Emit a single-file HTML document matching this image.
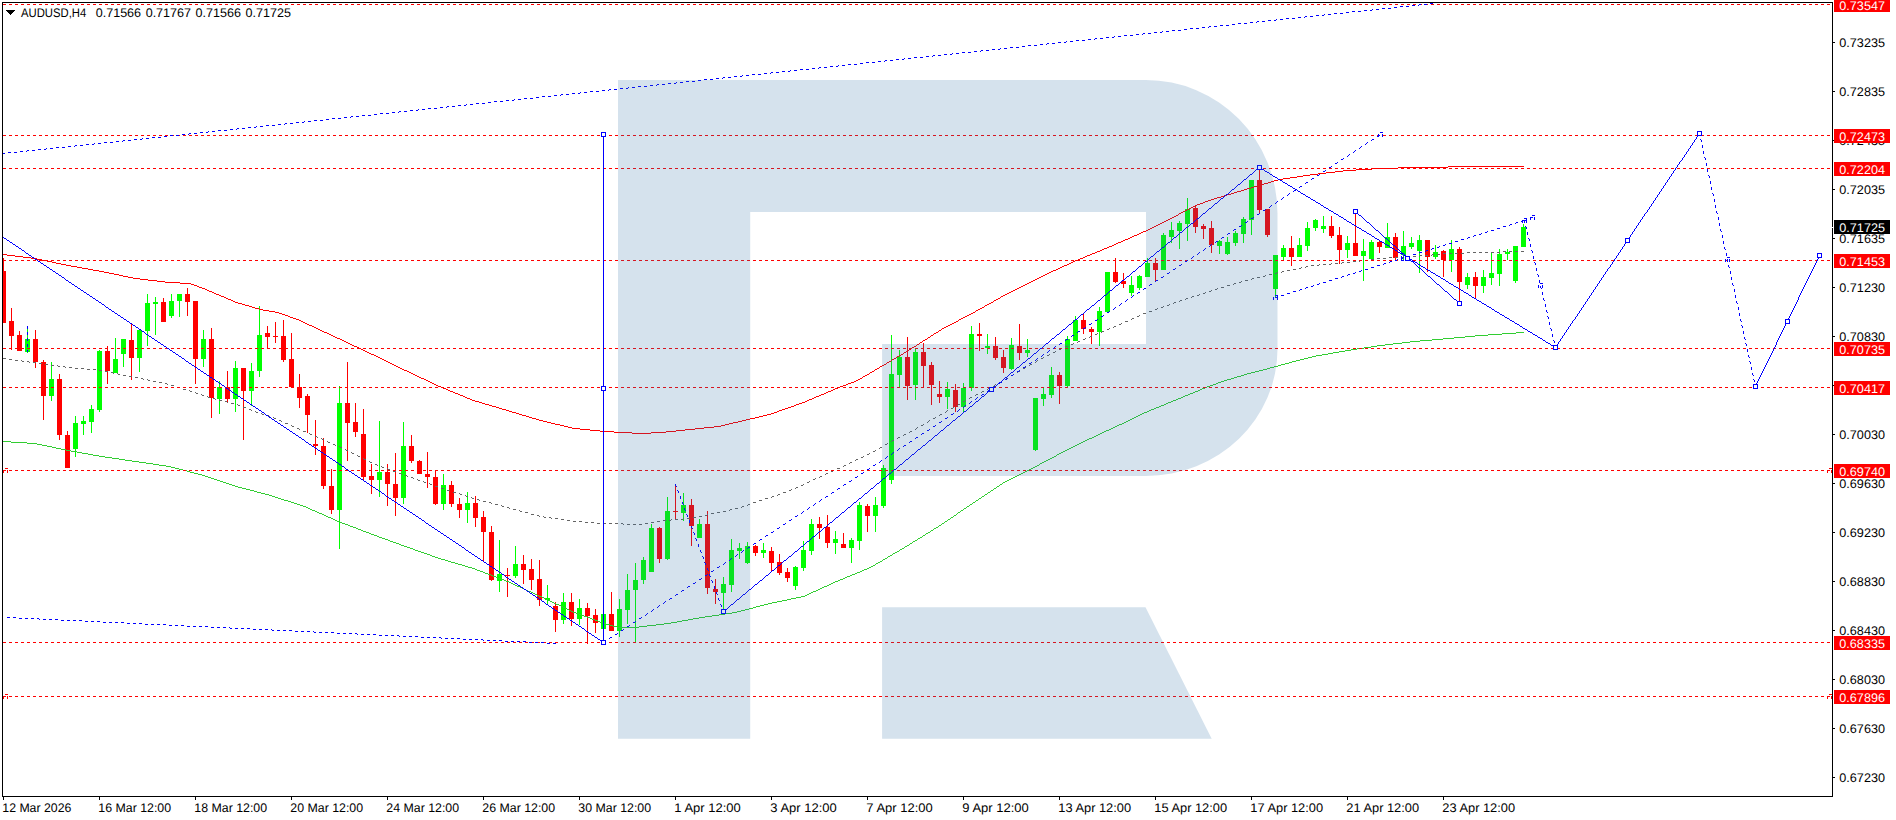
<!DOCTYPE html>
<html><head><meta charset="utf-8"><title>AUDUSD H4</title>
<style>html,body{margin:0;padding:0;background:#fff;overflow:hidden}body{width:1896px;height:820px;position:relative;font-family:"Liberation Sans",sans-serif}</style></head>
<body>
<svg width="1896" height="820" viewBox="0 0 1896 820" shape-rendering="crispEdges" style="position:absolute;left:0;top:0">
<rect width="1896" height="820" fill="#fff"/>
<defs><clipPath id="cp"><rect x="3" y="3" width="1829" height="793"/></clipPath></defs>
<g clip-path="url(#cp)">
<path fill="#FF0000" d="M3,258h1v65h-1zM1,271h5v52h-5zM11,308h1v42h-1zM9,321h5v15h-5zM19,331h1v20h-1zM17,335h5v16h-5zM35,330h1v38h-1zM33,339h5v23h-5zM43,360h1v60h-1zM41,362h5v34h-5zM59,374h1v66h-1zM57,379h5v56h-5zM67,431h1v37h-1zM65,435h5v33h-5zM107,346h1v38h-1zM105,351h5v20h-5zM131,324h1v56h-1zM129,340h5v18h-5zM163,298h1v24h-1zM161,302h5v20h-5zM187,288h1v28h-1zM185,294h5v8h-5zM195,301h1v83h-1zM193,301h5v58h-5zM211,328h1v90h-1zM209,339h5v59h-5zM227,371h1v32h-1zM225,387h5v12h-5zM243,368h1v72h-1zM241,368h5v23h-5zM267,326h1v23h-1zM265,333h5v4h-5zM275,322h1v21h-1zM273,336h5v1h-5zM283,320h1v42h-1zM281,336h5v24h-5zM291,333h1v54h-1zM289,359h5v28h-5zM299,374h1v34h-1zM297,387h5v11h-5zM307,394h1v39h-1zM305,396h5v19h-5zM315,420h1v35h-1zM313,444h5v2h-5zM323,438h1v51h-1zM321,446h5v40h-5zM331,469h1v45h-1zM329,486h5v24h-5zM347,362h1v99h-1zM345,403h5v20h-5zM355,403h1v34h-1zM353,422h5v10h-5zM363,409h1v71h-1zM361,434h5v43h-5zM371,464h1v30h-1zM369,476h5v4h-5zM387,464h1v42h-1zM385,472h5v12h-5zM395,453h1v63h-1zM393,484h5v14h-5zM411,435h1v28h-1zM409,446h5v15h-5zM419,460h1v14h-1zM417,461h5v13h-5zM427,452h1v36h-1zM425,474h5v3h-5zM435,470h1v35h-1zM433,477h5v27h-5zM451,481h1v26h-1zM449,485h5v19h-5zM459,498h1v20h-1zM457,504h5v6h-5zM475,496h1v31h-1zM473,503h5v15h-5zM483,511h1v50h-1zM481,517h5v15h-5zM491,526h1v55h-1zM489,532h5v48h-5zM507,568h1v29h-1zM505,575h5v1h-5zM523,555h1v29h-1zM521,564h5v6h-5zM531,559h1v31h-1zM529,569h5v11h-5zM539,560h1v46h-1zM537,579h5v21h-5zM555,602h1v30h-1zM553,606h5v14h-5zM571,593h1v33h-1zM569,602h5v17h-5zM587,603h1v41h-1zM585,608h5v8h-5zM595,609h1v24h-1zM593,615h5v8h-5zM611,592h1v39h-1zM609,614h5v17h-5zM659,527h1v36h-1zM657,528h5v31h-5zM675,484h1v35h-1zM673,511h5v1h-5zM691,499h1v47h-1zM689,505h5v21h-5zM707,511h1v83h-1zM705,524h5v64h-5zM715,579h1v25h-1zM713,589h5v3h-5zM755,545h1v11h-1zM753,546h5v7h-5zM771,547h1v24h-1zM769,551h5v12h-5zM779,554h1v21h-1zM777,562h5v11h-5zM787,568h1v14h-1zM785,572h5v6h-5zM819,517h1v22h-1zM817,524h5v4h-5zM827,515h1v33h-1zM825,527h5v16h-5zM843,533h1v15h-1zM841,544h5v4h-5zM867,504h1v28h-1zM865,506h5v10h-5zM907,337h1v63h-1zM905,357h5v29h-5zM923,343h1v44h-1zM921,352h5v14h-5zM931,362h1v43h-1zM929,365h5v20h-5zM939,381h1v22h-1zM937,394h5v3h-5zM955,384h1v28h-1zM953,390h5v17h-5zM979,323h1v28h-1zM977,334h5v2h-5zM995,337h1v23h-1zM993,346h5v12h-5zM1003,350h1v23h-1zM1001,357h5v11h-5zM1019,324h1v36h-1zM1017,346h5v7h-5zM1059,372h1v32h-1zM1057,375h5v11h-5zM1083,314h1v20h-1zM1081,320h5v9h-5zM1091,327h1v17h-1zM1089,329h5v3h-5zM1115,258h1v25h-1zM1113,272h5v10h-5zM1123,273h1v15h-1zM1121,281h5v3h-5zM1155,258h1v23h-1zM1153,263h5v7h-5zM1195,206h1v27h-1zM1193,208h5v19h-5zM1203,224h1v15h-1zM1201,226h5v3h-5zM1211,221h1v32h-1zM1209,228h5v17h-5zM1259,169h1v44h-1zM1257,180h5v30h-5zM1267,209h1v28h-1zM1265,209h5v26h-5zM1291,236h1v30h-1zM1289,248h5v9h-5zM1331,216h1v22h-1zM1329,226h5v10h-5zM1339,227h1v37h-1zM1337,235h5v15h-5zM1355,214h1v42h-1zM1353,243h5v13h-5zM1379,240h1v13h-1zM1377,242h5v5h-5zM1395,233h1v27h-1zM1393,237h5v21h-5zM1427,240h1v32h-1zM1425,240h5v17h-5zM1443,250h1v27h-1zM1441,251h5v9h-5zM1459,247h1v55h-1zM1457,249h5v33h-5zM1475,272h1v26h-1zM1473,277h5v9h-5z"/>
<path fill="#00FF00" d="M27,326h1v27h-1zM25,339h5v13h-5zM51,362h1v39h-1zM49,379h5v17h-5zM75,416h1v41h-1zM73,423h5v26h-5zM83,416h1v19h-1zM81,421h5v3h-5zM91,405h1v28h-1zM89,409h5v13h-5zM99,350h1v62h-1zM97,351h5v59h-5zM115,338h1v35h-1zM113,359h5v14h-5zM123,339h1v28h-1zM121,339h5v15h-5zM139,329h1v43h-1zM137,330h5v28h-5zM147,294h1v52h-1zM145,303h5v28h-5zM155,297h1v38h-1zM153,302h5v2h-5zM171,294h1v24h-1zM169,301h5v15h-5zM179,294h1v23h-1zM177,294h5v7h-5zM203,330h1v37h-1zM201,339h5v20h-5zM219,381h1v33h-1zM217,387h5v12h-5zM235,361h1v51h-1zM233,368h5v31h-5zM251,363h1v43h-1zM249,371h5v20h-5zM259,306h1v71h-1zM257,335h5v36h-5zM339,386h1v163h-1zM337,403h5v107h-5zM379,421h1v76h-1zM377,472h5v8h-5zM403,422h1v82h-1zM401,446h5v52h-5zM443,474h1v36h-1zM441,485h5v19h-5zM467,492h1v31h-1zM465,503h5v7h-5zM499,540h1v52h-1zM497,574h5v7h-5zM515,546h1v32h-1zM513,564h5v12h-5zM547,585h1v19h-1zM545,598h5v2h-5zM563,593h1v31h-1zM561,602h5v18h-5zM579,599h1v26h-1zM577,608h5v11h-5zM603,614h1v15h-1zM601,614h5v15h-5zM619,599h1v38h-1zM617,609h5v22h-5zM627,574h1v50h-1zM625,590h5v20h-5zM635,563h1v79h-1zM633,580h5v10h-5zM643,557h1v27h-1zM641,560h5v20h-5zM651,524h1v48h-1zM649,528h5v44h-5zM667,497h1v63h-1zM665,511h5v48h-5zM683,493h1v28h-1zM681,505h5v8h-5zM699,519h1v19h-1zM697,524h5v14h-5zM723,577h1v32h-1zM721,584h5v9h-5zM731,539h1v53h-1zM729,550h5v35h-5zM739,543h1v16h-1zM737,548h5v3h-5zM747,542h1v22h-1zM745,546h5v17h-5zM763,543h1v15h-1zM761,550h5v3h-5zM795,566h1v24h-1zM793,567h5v19h-5zM803,541h1v30h-1zM801,550h5v18h-5zM811,519h1v36h-1zM809,524h5v27h-5zM835,531h1v23h-1zM833,539h5v4h-5zM851,538h1v25h-1zM849,540h5v8h-5zM859,502h1v48h-1zM857,505h5v36h-5zM875,497h1v35h-1zM873,505h5v11h-5zM883,465h1v43h-1zM881,468h5v38h-5zM891,335h1v149h-1zM889,374h5v106h-5zM899,350h1v37h-1zM897,357h5v18h-5zM915,349h1v51h-1zM913,352h5v33h-5zM947,382h1v27h-1zM945,389h5v8h-5zM963,383h1v29h-1zM961,388h5v19h-5zM971,326h1v65h-1zM969,334h5v54h-5zM987,334h1v20h-1zM985,346h5v2h-5zM1011,338h1v32h-1zM1009,345h5v24h-5zM1027,339h1v18h-1zM1025,350h5v3h-5zM1035,398h1v53h-1zM1033,398h5v52h-5zM1043,387h1v19h-1zM1041,394h5v5h-5zM1051,367h1v31h-1zM1049,375h5v20h-5zM1067,336h1v52h-1zM1065,339h5v47h-5zM1075,316h1v25h-1zM1073,320h5v21h-5zM1099,307h1v39h-1zM1097,311h5v21h-5zM1107,272h1v41h-1zM1105,272h5v40h-5zM1131,276h1v20h-1zM1129,285h5v8h-5zM1139,275h1v15h-1zM1137,276h5v12h-5zM1147,258h1v19h-1zM1145,263h5v14h-5zM1163,233h1v37h-1zM1161,235h5v35h-5zM1171,222h1v21h-1zM1169,230h5v7h-5zM1179,221h1v28h-1zM1177,223h5v8h-5zM1187,198h1v43h-1zM1185,209h5v15h-5zM1219,240h1v14h-1zM1217,241h5v5h-5zM1227,237h1v18h-1zM1225,242h5v12h-5zM1235,231h1v15h-1zM1233,233h5v10h-5zM1243,217h1v26h-1zM1241,219h5v15h-5zM1251,180h1v55h-1zM1249,180h5v40h-5zM1275,255h1v43h-1zM1273,255h5v34h-5zM1283,245h1v15h-1zM1281,248h5v9h-5zM1299,238h1v19h-1zM1297,245h5v12h-5zM1307,222h1v29h-1zM1305,228h5v18h-5zM1315,219h1v12h-1zM1313,220h5v8h-5zM1323,216h1v17h-1zM1321,226h5v3h-5zM1347,236h1v22h-1zM1345,243h5v7h-5zM1363,239h1v42h-1zM1361,251h5v5h-5zM1371,240h1v20h-1zM1369,242h5v17h-5zM1387,223h1v25h-1zM1385,237h5v11h-5zM1403,231h1v29h-1zM1401,246h5v9h-5zM1411,237h1v12h-1zM1409,243h5v4h-5zM1419,235h1v38h-1zM1417,240h5v11h-5zM1435,245h1v14h-1zM1433,252h5v5h-5zM1451,240h1v32h-1zM1449,249h5v11h-5zM1467,273h1v16h-1zM1465,277h5v8h-5zM1483,270h1v23h-1zM1481,277h5v9h-5zM1491,253h1v32h-1zM1489,273h5v5h-5zM1499,249h1v37h-1zM1497,254h5v20h-5zM1507,249h1v11h-1zM1505,252h5v2h-5zM1515,246h1v37h-1zM1513,246h5v35h-5zM1523,224h1v23h-1zM1521,227h5v20h-5z"/>
<path fill="#FF0000" d="M1398,167h50v1h-50zM197,286h2v1h-2zM1021,286h2v1h-2zM285,315h3v1h-3zM967,315h2v1h-2zM1448,166h76v1h-76zM82,268h6v1h-6zM1058,268h2v1h-2zM1217,197h4v1h-4zM259,309h4v1h-4zM978,309h2v1h-2zM290,317h3v1h-3zM963,317h2v1h-2zM1283,178h7v1h-7zM572,428h8v1h-8zM695,428h9v1h-9zM128,277h5v1h-5zM1039,277h2v1h-2zM1343,170h13v1h-13zM430,382h2v1h-2zM851,382h3v1h-3zM496,407h3v1h-3zM788,407h3v1h-3zM1205,201h3v1h-3zM1271,181h3v1h-3zM1372,168h26v1h-26zM335,337h2v1h-2zM928,337h2v1h-2zM56,263h5v1h-5zM1069,263h2v1h-2zM475,401h4v1h-4zM805,401h2v1h-2zM434,384h2v1h-2zM846,384h2v1h-2zM632,433h19v1h-19zM231,300h2v1h-2zM994,300h2v1h-2zM1297,176h6v1h-6zM221,296h3v1h-3zM1001,296h2v1h-2zM1139,233h2v1h-2zM279,313h3v1h-3zM971,313h2v1h-2zM580,429h10v1h-10zM685,429h10v1h-10zM409,372h2v1h-2zM870,372h2v1h-2zM99,271h5v1h-5zM1051,271h2v1h-2zM1134,235h3v1h-3zM31,258h6v1h-6zM1080,258h3v1h-3zM509,411h3v1h-3zM777,411h2v1h-2zM512,412h4v1h-4zM774,412h3v1h-3zM263,310h6v1h-6zM976,310h2v1h-2zM357,347h2v1h-2zM912,347h2v1h-2zM1247,188h4v1h-4zM212,292h2v1h-2zM1009,292h2v1h-2zM398,367h2v1h-2zM390,363h2v1h-2zM1174,216h2v1h-2zM288,316h2v1h-2zM965,316h2v1h-2zM165,282h15v1h-15zM1029,282h2v1h-2zM104,272h5v1h-5zM1049,272h2v1h-2zM536,419h3v1h-3zM746,419h4v1h-4zM1197,204h3v1h-3zM1261,184h3v1h-3zM532,418h4v1h-4zM750,418h5v1h-5zM1112,245h2v1h-2zM282,314h3v1h-3zM969,314h2v1h-2zM590,430h10v1h-10zM676,430h9v1h-9zM441,387h2v1h-2zM838,387h2v1h-2zM1193,206h2v1h-2zM42,260h5v1h-5zM1075,260h3v1h-3zM568,427h4v1h-4zM704,427h10v1h-10zM382,359h2v1h-2zM892,359h2v1h-2zM1107,247h2v1h-2zM443,388h3v1h-3zM835,388h3v1h-3zM472,400h3v1h-3zM807,400h2v1h-2zM543,421h4v1h-4zM738,421h4v1h-4zM109,273h5v1h-5zM1047,273h2v1h-2zM180,283h11v1h-11zM1027,283h2v1h-2zM560,425h4v1h-4zM721,425h4v1h-4zM77,267h5v1h-5zM1060,267h2v1h-2zM327,333h2v1h-2zM934,333h2v1h-2zM564,426h4v1h-4zM714,426h7v1h-7zM318,329h2v1h-2zM1097,251h3v1h-3zM522,415h4v1h-4zM763,415h4v1h-4zM245,305h4v1h-4zM985,305h2v1h-2zM312,326h2v1h-2zM946,326h2v1h-2zM1237,191h4v1h-4zM547,422h4v1h-4zM733,422h5v1h-5zM386,361h2v1h-2zM889,361h2v1h-2zM378,357h2v1h-2zM1227,194h4v1h-4zM371,354h3v1h-3zM901,354h2v1h-2zM380,358h2v1h-2zM894,358h2v1h-2zM348,343h2v1h-2zM1356,169h16v1h-16zM1326,172h9v1h-9zM421,378h3v1h-3zM860,378h2v1h-2zM324,332h3v1h-3zM936,332h2v1h-2zM329,334h2v1h-2zM506,410h3v1h-3zM779,410h3v1h-3zM450,391h3v1h-3zM828,391h3v1h-3zM1185,210h2v1h-2zM249,306h3v1h-3zM482,403h3v1h-3zM799,403h3v1h-3zM489,405h3v1h-3zM794,405h2v1h-2zM235,302h3v1h-3zM991,302h2v1h-2zM1118,242h3v1h-3zM228,299h3v1h-3zM996,299h2v1h-2zM219,295h2v1h-2zM1003,295h2v1h-2zM1114,244h2v1h-2zM1168,219h2v1h-2zM275,312h4v1h-4zM973,312h2v1h-2zM614,432h18v1h-18zM651,432h15v1h-15zM202,288h3v1h-3zM1017,288h2v1h-2zM1187,209h2v1h-2zM388,362h2v1h-2zM887,362h2v1h-2zM123,276h5v1h-5zM1041,276h2v1h-2zM555,424h5v1h-5zM725,424h4v1h-4zM133,278h7v1h-7zM1037,278h2v1h-2zM252,307h3v1h-3zM982,307h2v1h-2zM485,404h4v1h-4zM796,404h3v1h-3zM600,431h14v1h-14zM666,431h10v1h-10zM1116,243h2v1h-2zM157,281h8v1h-8zM1031,281h2v1h-2zM463,396h2v1h-2zM816,396h3v1h-3zM88,269h5v1h-5zM1056,269h2v1h-2zM499,408h3v1h-3zM785,408h3v1h-3zM413,374h2v1h-2zM867,374h2v1h-2zM448,390h2v1h-2zM831,390h2v1h-2zM438,386h3v1h-3zM840,386h3v1h-3zM1137,234h2v1h-2zM432,383h2v1h-2zM848,383h3v1h-3zM71,266h6v1h-6zM1062,266h2v1h-2zM426,380h2v1h-2zM856,380h2v1h-2zM1156,225h2v1h-2zM15,256h8v1h-8zM1085,256h2v1h-2zM392,364h2v1h-2zM884,364h2v1h-2zM384,360h2v1h-2zM376,356h2v1h-2zM897,356h2v1h-2zM305,323h2v1h-2zM952,323h2v1h-2zM233,301h2v1h-2zM1251,187h3v1h-3zM238,303h4v1h-4zM989,303h2v1h-2zM1128,238h2v1h-2zM119,275h4v1h-4zM1043,275h2v1h-2zM255,308h4v1h-4zM980,308h2v1h-2zM209,291h3v1h-3zM1011,291h2v1h-2zM1123,240h2v1h-2zM1310,174h8v1h-8zM400,368h2v1h-2zM877,368h2v1h-2zM214,293h2v1h-2zM1007,293h2v1h-2zM303,322h2v1h-2zM954,322h2v1h-2zM7,255h8v1h-8zM1087,255h3v1h-3zM1335,171h8v1h-8zM52,262h4v1h-4zM1071,262h2v1h-2zM216,294h3v1h-3zM1005,294h2v1h-2zM529,417h3v1h-3zM755,417h4v1h-4zM269,311h6v1h-6zM470,399h2v1h-2zM809,399h3v1h-3zM346,342h2v1h-2zM920,342h2v1h-2zM114,274h5v1h-5zM1045,274h2v1h-2zM1100,250h2v1h-2zM453,392h2v1h-2zM826,392h2v1h-2zM66,265h5v1h-5zM1064,265h3v1h-3zM1095,252h2v1h-2zM1150,228h2v1h-2zM1146,230h2v1h-2zM539,420h4v1h-4zM742,420h4v1h-4zM1224,195h3v1h-3zM224,297h2v1h-2zM350,344h2v1h-2zM917,344h2v1h-2zM1164,221h2v1h-2zM316,328h2v1h-2zM942,328h2v1h-2zM1183,211h2v1h-2zM415,375h2v1h-2zM865,375h2v1h-2zM314,327h2v1h-2zM944,327h2v1h-2zM1203,202h2v1h-2zM307,324h2v1h-2zM950,324h2v1h-2zM148,280h9v1h-9zM1033,280h2v1h-2zM1290,177h7v1h-7zM374,355h2v1h-2zM899,355h2v1h-2zM367,352h2v1h-2zM904,352h2v1h-2zM359,348h2v1h-2zM140,279h8v1h-8zM1035,279h2v1h-2zM417,376h2v1h-2zM863,376h2v1h-2zM1102,249h2v1h-2zM1244,189h3v1h-3zM1152,227h2v1h-2zM3,254h4v1h-4zM1090,254h2v1h-2zM1176,215h2v1h-2zM47,261h5v1h-5zM1073,261h2v1h-2zM1172,217h2v1h-2zM1257,185h4v1h-4zM207,290h2v1h-2zM1013,290h2v1h-2zM199,287h3v1h-3zM1019,287h2v1h-2zM1195,205h2v1h-2zM1191,207h2v1h-2zM502,409h4v1h-4zM782,409h3v1h-3zM1318,173h8v1h-8zM1154,226h2v1h-2zM526,416h3v1h-3zM759,416h4v1h-4zM1125,239h3v1h-3zM1234,192h3v1h-3zM479,402h3v1h-3zM802,402h3v1h-3zM226,298h2v1h-2zM998,298h2v1h-2zM23,257h8v1h-8zM1083,257h2v1h-2zM436,385h2v1h-2zM843,385h3v1h-3zM428,381h2v1h-2zM854,381h2v1h-2zM1278,179h5v1h-5zM424,379h2v1h-2zM858,379h2v1h-2zM363,350h2v1h-2zM1166,220h2v1h-2zM1162,222h2v1h-2zM293,318h3v1h-3zM961,318h2v1h-2zM1214,198h3v1h-3zM205,289h2v1h-2zM1015,289h2v1h-2zM322,331h2v1h-2zM1268,182h3v1h-3zM299,320h2v1h-2zM369,353h2v1h-2zM337,338h3v1h-3zM467,398h3v1h-3zM812,398h2v1h-2zM465,397h2v1h-2zM814,397h2v1h-2zM93,270h6v1h-6zM1053,270h3v1h-3zM1200,203h3v1h-3zM342,340h2v1h-2zM923,340h2v1h-2zM516,413h3v1h-3zM771,413h3v1h-3zM1104,248h3v1h-3zM394,365h2v1h-2zM882,365h2v1h-2zM361,349h2v1h-2zM909,349h2v1h-2zM242,304h3v1h-3zM987,304h2v1h-2zM1303,175h7v1h-7zM419,377h2v1h-2zM402,369h2v1h-2zM875,369h2v1h-2zM1231,193h3v1h-3zM320,330h2v1h-2zM939,330h2v1h-2zM61,264h5v1h-5zM1067,264h2v1h-2zM492,406h4v1h-4zM791,406h3v1h-3zM1208,200h3v1h-3zM455,393h3v1h-3zM824,393h2v1h-2zM407,371h2v1h-2zM872,371h2v1h-2zM296,319h3v1h-3zM959,319h2v1h-2zM1143,231h3v1h-3zM458,394h2v1h-2zM821,394h3v1h-3zM194,285h3v1h-3zM1023,285h2v1h-2zM352,345h2v1h-2zM1181,212h2v1h-2zM1211,199h3v1h-3zM340,339h2v1h-2zM925,339h2v1h-2zM446,389h2v1h-2zM833,389h2v1h-2zM411,373h2v1h-2zM309,325h3v1h-3zM948,325h2v1h-2zM396,366h2v1h-2zM880,366h2v1h-2zM1092,253h3v1h-3zM191,284h3v1h-3zM1025,284h2v1h-2zM354,346h3v1h-3zM914,346h2v1h-2zM1221,196h3v1h-3zM404,370h3v1h-3zM1109,246h3v1h-3zM1264,183h4v1h-4zM1254,186h3v1h-3zM519,414h3v1h-3zM767,414h4v1h-4zM551,423h4v1h-4zM729,423h4v1h-4zM460,395h3v1h-3zM819,395h2v1h-2zM344,341h2v1h-2zM1189,208h2v1h-2zM331,335h2v1h-2zM931,335h2v1h-2zM1141,232h2v1h-2zM1160,223h2v1h-2zM1179,213h2v1h-2zM301,321h2v1h-2zM956,321h2v1h-2zM365,351h2v1h-2zM906,351h2v1h-2zM1132,236h2v1h-2zM1121,241h2v1h-2zM333,336h2v1h-2zM37,259h5v1h-5zM1078,259h2v1h-2zM1241,190h3v1h-3zM1148,229h2v1h-2zM1170,218h2v1h-2zM1274,180h4v1h-4zM1158,224h2v1h-2zM1130,237h2v1h-2zM879,367h1v1h-1zM922,341h1v1h-1zM938,331h1v1h-1zM930,336h1v1h-1zM886,363h1v1h-1zM984,306h1v1h-1zM941,329h1v1h-1zM874,370h1v1h-1zM933,334h1v1h-1zM908,350h1v1h-1zM1178,214h1v1h-1zM958,320h1v1h-1zM916,345h1v1h-1zM862,377h1v1h-1zM896,357h1v1h-1zM903,353h1v1h-1zM869,373h1v1h-1zM927,338h1v1h-1zM975,311h1v1h-1zM919,343h1v1h-1zM891,360h1v1h-1zM911,348h1v1h-1zM993,301h1v1h-1zM1000,297h1v1h-1z"/>
<path fill="#32CD32" d="M1432,339h11v1h-11zM300,505h3v1h-3zM1161,405h3v1h-3zM598,621h2v1h-2zM677,621h5v1h-5zM194,473h4v1h-4zM1021,473h2v1h-2zM337,521h3v1h-3zM945,521h2v1h-2zM139,462h7v1h-7zM1042,462h2v1h-2zM125,460h7v1h-7zM1046,460h2v1h-2zM246,489h4v1h-4zM475,569h2v1h-2zM864,569h3v1h-3zM1385,344h8v1h-8zM342,523h3v1h-3zM942,523h2v1h-2zM603,623h3v1h-3zM664,623h7v1h-7zM322,514h2v1h-2zM66,450h5v1h-5zM1065,450h2v1h-2zM250,490h4v1h-4zM991,490h2v1h-2zM552,602h2v1h-2zM772,602h5v1h-5zM544,598h2v1h-2zM791,598h5v1h-5zM1181,397h2v1h-2zM315,511h2v1h-2zM617,627h22v1h-22zM462,565h3v1h-3zM873,565h2v1h-2zM1151,409h3v1h-3zM390,541h3v1h-3zM913,541h2v1h-2zM537,595h2v1h-2zM805,595h2v1h-2zM1488,334h14v1h-14zM441,559h4v1h-4zM883,559h2v1h-2zM1304,358h4v1h-4zM112,458h7v1h-7zM1050,458h2v1h-2zM1410,341h10v1h-10zM179,469h4v1h-4zM1029,469h2v1h-2zM52,447h4v1h-4zM1071,447h2v1h-2zM159,465h7v1h-7zM1037,465h2v1h-2zM1402,342h8v1h-8zM284,500h4v1h-4zM976,500h2v1h-2zM1328,353h5v1h-5zM369,533h2v1h-2zM926,533h2v1h-2zM501,579h3v1h-3zM840,579h3v1h-3zM350,526h3v1h-3zM353,527h3v1h-3zM936,527h2v1h-2zM119,459h6v1h-6zM1048,459h2v1h-2zM581,615h3v1h-3zM712,615h7v1h-7zM1104,431h2v1h-2zM1285,363h4v1h-4zM27,443h10v1h-10zM1079,443h2v1h-2zM132,461h7v1h-7zM1044,461h2v1h-2zM1213,384h3v1h-3zM506,581h3v1h-3zM835,581h3v1h-3zM554,603h2v1h-2zM768,603h4v1h-4zM401,545h3v1h-3zM907,545h2v1h-2zM1183,396h2v1h-2zM1345,350h6v1h-6zM1308,357h4v1h-4zM587,617h3v1h-3zM699,617h6v1h-6zM539,596h3v1h-3zM801,596h4v1h-4zM1502,333h14v1h-14zM71,451h6v1h-6zM1063,451h2v1h-2zM590,618h2v1h-2zM693,618h6v1h-6zM396,543h3v1h-3zM910,543h2v1h-2zM242,488h4v1h-4zM994,488h2v1h-2zM56,448h5v1h-5zM1069,448h2v1h-2zM1296,360h4v1h-4zM488,574h3v1h-3zM852,574h3v1h-3zM1267,368h3v1h-3zM561,606h2v1h-2zM756,606h4v1h-4zM1173,400h3v1h-3zM1333,352h6v1h-6zM88,454h5v1h-5zM1057,454h2v1h-2zM363,531h3v1h-3zM328,517h3v1h-3zM951,517h2v1h-2zM520,587h2v1h-2zM822,587h2v1h-2zM223,482h3v1h-3zM1003,482h2v1h-2zM592,619h3v1h-3zM688,619h5v1h-5zM1168,402h3v1h-3zM584,616h3v1h-3zM705,616h7v1h-7zM1255,371h4v1h-4zM1316,355h6v1h-6zM269,495h3v1h-3zM187,471h3v1h-3zM1025,471h2v1h-2zM1281,364h4v1h-4zM567,609h2v1h-2zM745,609h4v1h-4zM202,475h3v1h-3zM1017,475h2v1h-2zM430,555h2v1h-2zM890,555h2v1h-2zM1244,374h3v1h-3zM190,472h4v1h-4zM1023,472h2v1h-2zM146,463h7v1h-7zM1040,463h2v1h-2zM11,442h16v1h-16zM1081,442h2v1h-2zM1270,367h4v1h-4zM310,509h2v1h-2zM573,612h3v1h-3zM732,612h5v1h-5zM166,466h5v1h-5zM1035,466h2v1h-2zM385,539h3v1h-3zM303,506h3v1h-3zM967,506h2v1h-2zM517,586h3v1h-3zM824,586h3v1h-3zM1144,412h3v1h-3zM47,446h5v1h-5zM1073,446h2v1h-2zM1371,346h6v1h-6zM358,529h3v1h-3zM610,625h3v1h-3zM647,625h9v1h-9zM1259,370h4v1h-4zM214,479h3v1h-3zM1009,479h2v1h-2zM1140,414h2v1h-2zM272,496h3v1h-3zM982,496h2v1h-2zM498,578h3v1h-3zM843,578h2v1h-2zM1465,336h10v1h-10zM312,510h3v1h-3zM961,510h2v1h-2zM388,540h2v1h-2zM915,540h2v1h-2zM1234,377h3v1h-3zM153,464h6v1h-6zM1113,427h2v1h-2zM1224,380h3v1h-3zM1475,335h13v1h-13zM1516,332h8v1h-8zM427,554h3v1h-3zM1443,338h11v1h-11zM1193,392h2v1h-2zM413,549h2v1h-2zM900,549h2v1h-2zM275,497h3v1h-3zM526,590h2v1h-2zM816,590h2v1h-2zM1132,418h2v1h-2zM1393,343h9v1h-9zM1420,340h12v1h-12zM418,551h3v1h-3zM897,551h2v1h-2zM600,622h3v1h-3zM671,622h6v1h-6zM297,504h3v1h-3zM970,504h2v1h-2zM531,592h2v1h-2zM811,592h2v1h-2zM254,491h3v1h-3zM399,544h2v1h-2zM511,583h2v1h-2zM831,583h2v1h-2zM211,478h3v1h-3zM1011,478h2v1h-2zM477,570h3v1h-3zM862,570h2v1h-2zM546,599h2v1h-2zM787,599h4v1h-4zM528,591h3v1h-3zM813,591h3v1h-3zM217,480h3v1h-3zM1007,480h2v1h-2zM1085,440h2v1h-2zM448,561h3v1h-3zM880,561h2v1h-2zM361,530h2v1h-2zM931,530h2v1h-2zM42,445h5v1h-5zM1075,445h2v1h-2zM1292,361h4v1h-4zM208,477h3v1h-3zM1013,477h2v1h-2zM415,550h3v1h-3zM374,535h3v1h-3zM923,535h2v1h-2zM1100,433h2v1h-2zM1216,383h2v1h-2zM1154,408h2v1h-2zM556,604h3v1h-3zM764,604h4v1h-4zM1454,337h11v1h-11zM1210,385h3v1h-3zM1339,351h6v1h-6zM445,560h3v1h-3zM326,516h2v1h-2zM563,607h2v1h-2zM753,607h3v1h-3zM421,552h3v1h-3zM895,552h2v1h-2zM229,484h3v1h-3zM1000,484h2v1h-2zM485,573h3v1h-3zM855,573h2v1h-2zM424,553h3v1h-3zM893,553h2v1h-2zM550,601h2v1h-2zM777,601h5v1h-5zM569,610h2v1h-2zM741,610h4v1h-4zM1122,423h2v1h-2zM455,563h3v1h-3zM876,563h2v1h-2zM576,613h3v1h-3zM725,613h7v1h-7zM458,564h4v1h-4zM1171,401h2v1h-2zM171,467h4v1h-4zM1033,467h2v1h-2zM522,588h2v1h-2zM820,588h2v1h-2zM348,525h2v1h-2zM939,525h2v1h-2zM465,566h3v1h-3zM871,566h2v1h-2zM535,594h2v1h-2zM807,594h2v1h-2zM1094,436h2v1h-2zM317,512h2v1h-2zM958,512h2v1h-2zM1237,376h4v1h-4zM1089,438h3v1h-3zM3,441h8v1h-8zM1083,441h2v1h-2zM1231,378h3v1h-3zM1109,429h2v1h-2zM93,455h6v1h-6zM579,614h2v1h-2zM719,614h6v1h-6zM198,474h4v1h-4zM1019,474h2v1h-2zM183,470h4v1h-4zM1027,470h2v1h-2zM238,487h4v1h-4zM61,449h5v1h-5zM1067,449h2v1h-2zM451,562h4v1h-4zM878,562h2v1h-2zM265,494h4v1h-4zM985,494h2v1h-2zM257,492h4v1h-4zM988,492h2v1h-2zM308,508h2v1h-2zM964,508h2v1h-2zM382,538h3v1h-3zM918,538h2v1h-2zM542,597h2v1h-2zM796,597h5v1h-5zM491,575h2v1h-2zM850,575h2v1h-2zM278,498h3v1h-3zM979,498h2v1h-2zM432,556h3v1h-3zM888,556h2v1h-2zM291,502h3v1h-3zM973,502h2v1h-2zM1357,348h7v1h-7zM496,577h2v1h-2zM845,577h2v1h-2zM331,518h2v1h-2zM345,524h3v1h-3zM235,486h3v1h-3zM997,486h2v1h-2zM1247,373h4v1h-4zM393,542h3v1h-3zM548,600h2v1h-2zM782,600h5v1h-5zM1241,375h3v1h-3zM613,626h4v1h-4zM639,626h8v1h-8zM533,593h2v1h-2zM809,593h2v1h-2zM524,589h2v1h-2zM818,589h2v1h-2zM606,624h4v1h-4zM656,624h8v1h-8zM356,528h2v1h-2zM934,528h2v1h-2zM1202,388h3v1h-3zM1142,413h2v1h-2zM1364,347h7v1h-7zM105,457h7v1h-7zM1052,457h2v1h-2zM205,476h3v1h-3zM1015,476h2v1h-2zM232,485h3v1h-3zM261,493h4v1h-4zM77,452h5v1h-5zM1061,452h2v1h-2zM1377,345h8v1h-8zM294,503h3v1h-3zM371,534h3v1h-3zM1195,391h3v1h-3zM1221,381h3v1h-3zM1159,406h2v1h-2zM1190,393h3v1h-3zM483,572h2v1h-2zM857,572h3v1h-3zM410,548h3v1h-3zM902,548h2v1h-2zM1130,419h2v1h-2zM1312,356h4v1h-4zM1149,410h2v1h-2zM306,507h2v1h-2zM1300,359h4v1h-4zM379,537h3v1h-3zM920,537h2v1h-2zM595,620h3v1h-3zM682,620h6v1h-6zM1289,362h3v1h-3zM1102,432h2v1h-2zM1278,365h3v1h-3zM335,520h2v1h-2zM1098,434h2v1h-2zM565,608h2v1h-2zM749,608h4v1h-4zM175,468h4v1h-4zM1031,468h2v1h-2zM559,605h2v1h-2zM760,605h4v1h-4zM515,585h2v1h-2zM827,585h2v1h-2zM404,546h3v1h-3zM905,546h2v1h-2zM1198,390h2v1h-2zM1351,349h6v1h-6zM571,611h2v1h-2zM737,611h4v1h-4zM1119,424h3v1h-3zM1200,389h2v1h-2zM1138,415h2v1h-2zM99,456h6v1h-6zM1054,456h2v1h-2zM333,519h2v1h-2zM948,519h2v1h-2zM37,444h5v1h-5zM1077,444h2v1h-2zM480,571h3v1h-3zM860,571h2v1h-2zM407,547h3v1h-3zM504,580h2v1h-2zM838,580h2v1h-2zM1092,437h2v1h-2zM377,536h2v1h-2zM319,513h3v1h-3zM1111,428h2v1h-2zM340,522h2v1h-2zM1207,386h3v1h-3zM220,481h3v1h-3zM1005,481h2v1h-2zM513,584h2v1h-2zM829,584h2v1h-2zM82,453h6v1h-6zM1059,453h2v1h-2zM1128,420h2v1h-2zM468,567h4v1h-4zM869,567h2v1h-2zM1147,411h2v1h-2zM1178,398h3v1h-3zM493,576h3v1h-3zM847,576h3v1h-3zM1185,395h3v1h-3zM324,515h2v1h-2zM954,515h2v1h-2zM1322,354h6v1h-6zM1218,382h3v1h-3zM1188,394h2v1h-2zM1156,407h3v1h-3zM288,501h3v1h-3zM1274,366h4v1h-4zM1263,369h4v1h-4zM1115,426h2v1h-2zM366,532h3v1h-3zM928,532h2v1h-2zM1251,372h4v1h-4zM1117,425h2v1h-2zM226,483h3v1h-3zM1136,416h2v1h-2zM1166,403h2v1h-2zM438,558h3v1h-3zM885,558h2v1h-2zM472,568h3v1h-3zM867,568h2v1h-2zM1124,422h2v1h-2zM281,499h3v1h-3zM435,557h3v1h-3zM509,582h2v1h-2zM833,582h2v1h-2zM1205,387h2v1h-2zM1106,430h3v1h-3zM1126,421h2v1h-2zM1176,399h2v1h-2zM1134,417h2v1h-2zM1087,439h2v1h-2zM1227,379h4v1h-4zM1096,435h2v1h-2zM1164,404h2v1h-2zM956,514h1v1h-1zM969,505h1v1h-1zM899,550h1v1h-1zM990,491h1v1h-1zM947,520h1v1h-1zM960,511h1v1h-1zM887,557h1v1h-1zM981,497h1v1h-1zM922,536h1v1h-1zM938,526h1v1h-1zM972,503h1v1h-1zM930,531h1v1h-1zM1002,483h1v1h-1zM875,564h1v1h-1zM993,489h1v1h-1zM950,518h1v1h-1zM882,560h1v1h-1zM925,534h1v1h-1zM941,524h1v1h-1zM984,495h1v1h-1zM917,539h1v1h-1zM933,529h1v1h-1zM963,509h1v1h-1zM909,544h1v1h-1zM996,487h1v1h-1zM953,516h1v1h-1zM975,501h1v1h-1zM966,507h1v1h-1zM1039,464h1v1h-1zM912,542h1v1h-1zM987,493h1v1h-1zM957,513h1v1h-1zM904,547h1v1h-1zM978,499h1v1h-1zM1056,455h1v1h-1zM999,485h1v1h-1zM944,522h1v1h-1zM892,554h1v1h-1z"/>
<path fill="#646464" d="M1467,252h3v1h-3zM1473,252h3v1h-3zM1479,252h3v1h-3zM1485,252h3v1h-3zM1491,252h3v1h-3zM1497,252h3v1h-3zM22,361h2v1h-2zM27,361h2v1h-2zM627,524h3v1h-3zM633,524h3v1h-3zM639,524h3v1h-3zM520,511h2v1h-2zM723,511h3v1h-3zM1443,253h3v1h-3zM1449,253h3v1h-3zM1455,253h3v1h-3zM1461,253h3v1h-3zM567,520h3v1h-3zM663,520h3v1h-3zM669,520h2v1h-2zM33,362h3v1h-3zM105,371h3v1h-3zM1018,371h2v1h-2zM219,400h3v1h-3zM243,407h3v1h-3zM1095,334h2v1h-2zM256,412h2v1h-2zM555,518h3v1h-3zM687,518h3v1h-3zM388,469h2v1h-2zM75,368h3v1h-3zM81,368h3v1h-3zM1023,368h2v1h-2zM573,521h3v1h-3zM579,521h3v1h-3zM657,521h3v1h-3zM202,395h2v1h-2zM1353,261h3v1h-3zM801,485h2v1h-2zM585,522h3v1h-3zM591,522h3v1h-3zM651,522h3v1h-3zM1503,251h3v1h-3zM1509,251h3v1h-3zM1515,251h3v1h-3zM1521,251h3v1h-3zM1306,266h2v1h-2zM820,476h2v1h-2zM1407,256h3v1h-3zM1413,256h3v1h-3zM69,367h3v1h-3zM87,369h3v1h-3zM93,369h3v1h-3zM171,385h3v1h-3zM597,523h3v1h-3zM603,523h3v1h-3zM609,523h3v1h-3zM615,523h3v1h-3zM621,523h2v1h-2zM645,523h3v1h-3zM1125,321h3v1h-3zM1371,259h3v1h-3zM3,358h3v1h-3zM1041,358h2v1h-2zM399,473h2v1h-2zM826,473h2v1h-2zM489,502h2v1h-2zM753,502h3v1h-3zM472,498h2v1h-2zM765,498h3v1h-3zM9,359h3v1h-3zM208,397h2v1h-2zM970,397h2v1h-2zM525,512h3v1h-3zM717,512h3v1h-3zM1293,269h3v1h-3zM735,508h3v1h-3zM976,394h2v1h-2zM141,378h2v1h-2zM1006,378h2v1h-2zM262,414h2v1h-2zM940,414h2v1h-2zM1342,262h2v1h-2zM1347,262h3v1h-3zM1420,255h2v1h-2zM1425,255h3v1h-3zM1311,265h3v1h-3zM1317,265h2v1h-2zM1275,273h2v1h-2zM1377,258h3v1h-3zM1383,258h3v1h-3zM1137,316h2v1h-2zM447,490h3v1h-3zM789,490h2v1h-2zM1065,346h3v1h-3zM123,375h3v1h-3zM1011,375h2v1h-2zM231,403h3v1h-3zM159,382h3v1h-3zM999,382h2v1h-2zM1432,254h2v1h-2zM1437,254h3v1h-3zM495,504h3v1h-3zM748,504h2v1h-2zM1389,257h3v1h-3zM1395,257h3v1h-3zM1401,257h3v1h-3zM225,401h2v1h-2zM963,401h2v1h-2zM267,415h2v1h-2zM1282,271h2v1h-2zM561,519h3v1h-3zM675,519h3v1h-3zM681,519h2v1h-2zM1071,344h2v1h-2zM51,365h3v1h-3zM177,387h3v1h-3zM477,499h2v1h-2zM303,431h3v1h-3zM910,431h2v1h-2zM1263,276h2v1h-2zM1323,264h3v1h-3zM1329,264h2v1h-2zM759,500h3v1h-3zM285,423h3v1h-3zM1203,293h2v1h-2zM1180,300h2v1h-2zM1335,263h3v1h-3zM279,420h2v1h-2zM153,381h3v1h-3zM1269,274h3v1h-3zM411,477h2v1h-2zM346,450h2v1h-2zM1209,291h2v1h-2zM1132,318h2v1h-2zM1186,298h2v1h-2zM183,389h3v1h-3zM274,418h2v1h-2zM933,418h2v1h-2zM15,360h3v1h-3zM699,516h3v1h-3zM1107,329h2v1h-2zM844,465h2v1h-2zM837,468h3v1h-3zM118,374h2v1h-2zM1257,277h3v1h-3zM1360,260h2v1h-2zM1365,260h3v1h-3zM297,428h2v1h-2zM39,363h3v1h-3zM537,515h2v1h-2zM705,515h2v1h-2zM1047,355h2v1h-2zM460,494h2v1h-2zM778,494h2v1h-2zM813,479h2v1h-2zM364,459h2v1h-2zM856,459h2v1h-2zM1083,339h2v1h-2zM418,480h2v1h-2zM544,517h2v1h-2zM549,517h2v1h-2zM693,517h3v1h-3zM190,391h2v1h-2zM982,391h2v1h-2zM358,456h2v1h-2zM711,513h3v1h-3zM958,404h2v1h-2zM382,467h2v1h-2zM1078,341h2v1h-2zM328,442h2v1h-2zM1155,309h2v1h-2zM453,492h3v1h-3zM783,492h3v1h-3zM238,405h2v1h-2zM1252,278h2v1h-2zM1227,285h3v1h-3zM352,453h2v1h-2zM1239,282h2v1h-2zM375,464h2v1h-2zM921,425h2v1h-2zM867,454h2v1h-2zM45,364h3v1h-3zM1030,364h2v1h-2zM531,514h3v1h-3zM58,366h2v1h-2zM63,366h2v1h-2zM315,436h2v1h-2zM333,444h2v1h-2zM885,444h2v1h-2zM165,383h2v1h-2zM483,501h3v1h-3zM1143,313h3v1h-3zM466,496h2v1h-2zM772,496h2v1h-2zM1167,305h2v1h-2zM424,482h2v1h-2zM807,482h2v1h-2zM507,507h2v1h-2zM310,434h2v1h-2zM904,434h2v1h-2zM1149,311h3v1h-3zM129,376h3v1h-3zM111,372h2v1h-2zM1059,349h2v1h-2zM393,471h3v1h-3zM831,471h2v1h-2zM435,486h3v1h-3zM988,388h2v1h-2zM873,451h2v1h-2zM513,509h3v1h-3zM730,509h2v1h-2zM796,487h2v1h-2zM135,377h3v1h-3zM1287,270h3v1h-3zM99,370h3v1h-3zM441,488h3v1h-3zM370,462h2v1h-2zM850,462h2v1h-2zM1090,336h2v1h-2zM502,506h2v1h-2zM742,506h2v1h-2zM405,475h2v1h-2zM1197,295h2v1h-2zM430,484h2v1h-2zM892,440h2v1h-2zM861,457h2v1h-2zM1215,289h2v1h-2zM1192,296h2v1h-2zM1102,331h2v1h-2zM292,426h2v1h-2zM1245,280h3v1h-3zM1221,287h3v1h-3zM213,398h2v1h-2zM898,437h2v1h-2zM340,447h2v1h-2zM880,447h2v1h-2zM1053,352h2v1h-2zM1234,283h2v1h-2zM951,408h2v1h-2zM249,409h2v1h-2zM1114,326h2v1h-2zM148,380h2v1h-2zM196,393h2v1h-2zM1119,324h2v1h-2zM1161,307h2v1h-2zM1299,268h2v1h-2zM1174,302h2v1h-2zM322,439h2v1h-2zM994,385h1v1h-1zM1163,306h1v1h-1zM791,489h1v1h-1zM1301,267h1v1h-1zM928,421h1v1h-1zM465,495h1v1h-1zM1001,381h1v1h-1zM946,411h1v1h-1zM947,410h1v1h-1zM965,400h1v1h-1zM113,373h1v1h-1zM953,407h1v1h-1zM299,429h1v1h-1zM833,470h1v1h-1zM291,425h1v1h-1zM945,412h1v1h-1zM891,441h1v1h-1zM117,373h1v1h-1zM1109,328h1v1h-1zM1217,288h1v1h-1zM309,433h1v1h-1zM339,446h1v1h-1zM771,497h1v1h-1zM1029,365h1v1h-1zM1173,303h1v1h-1zM317,437h1v1h-1zM795,488h1v1h-1zM147,379h1v1h-1zM459,493h1v1h-1zM897,438h1v1h-1zM261,413h1v1h-1zM903,435h1v1h-1zM407,476h1v1h-1zM207,396h1v1h-1zM65,367h1v1h-1zM381,466h1v1h-1zM1113,327h1v1h-1zM1251,279h1v1h-1zM471,497h1v1h-1zM1431,255h1v1h-1zM509,508h1v1h-1zM189,390h1v1h-1zM1049,354h1v1h-1zM993,386h1v1h-1zM939,415h1v1h-1zM863,456h1v1h-1zM1419,256h1v1h-1zM1097,333h1v1h-1zM57,365h1v1h-1zM1131,319h1v1h-1zM916,428h1v1h-1zM255,411h1v1h-1zM935,417h1v1h-1zM201,394h1v1h-1zM143,379h1v1h-1zM413,478h1v1h-1zM887,443h1v1h-1zM1233,284h1v1h-1zM387,468h1v1h-1zM879,448h1v1h-1zM1281,272h1v1h-1zM195,392h1v1h-1zM1017,372h1v1h-1zM1199,294h1v1h-1zM363,458h1v1h-1zM1101,332h1v1h-1zM1036,361h1v1h-1zM1241,281h1v1h-1zM1025,367h1v1h-1zM747,505h1v1h-1zM1043,357h1v1h-1zM741,507h1v1h-1zM1035,362h1v1h-1zM707,514h1v1h-1zM29,362h1v1h-1zM423,481h1v1h-1zM843,466h1v1h-1zM1085,338h1v1h-1zM1157,308h1v1h-1zM849,463h1v1h-1zM917,427h1v1h-1zM351,452h1v1h-1zM479,500h1v1h-1zM909,432h1v1h-1zM269,416h1v1h-1zM401,474h1v1h-1zM927,422h1v1h-1zM1341,263h1v1h-1zM21,360h1v1h-1zM215,399h1v1h-1zM417,479h1v1h-1zM975,395h1v1h-1zM1055,351h1v1h-1zM1185,299h1v1h-1zM321,438h1v1h-1zM729,510h1v1h-1zM819,477h1v1h-1zM1277,272h1v1h-1zM1179,301h1v1h-1zM1211,290h1v1h-1zM825,474h1v1h-1zM923,424h1v1h-1zM869,453h1v1h-1zM429,483h1v1h-1zM1089,337h1v1h-1zM683,518h1v1h-1zM875,450h1v1h-1zM995,384h1v1h-1zM1359,261h1v1h-1zM551,518h1v1h-1zM671,519h1v1h-1zM987,389h1v1h-1zM1331,263h1v1h-1zM345,449h1v1h-1zM1073,343h1v1h-1zM623,524h1v1h-1zM543,516h1v1h-1zM1265,275h1v1h-1zM377,465h1v1h-1zM1013,374h1v1h-1zM167,384h1v1h-1zM369,461h1v1h-1zM1319,264h1v1h-1zM1139,315h1v1h-1zM281,421h1v1h-1zM1169,304h1v1h-1zM969,398h1v1h-1zM957,405h1v1h-1zM1191,297h1v1h-1zM803,484h1v1h-1zM1305,267h1v1h-1zM251,410h1v1h-1zM1077,342h1v1h-1zM357,455h1v1h-1zM915,429h1v1h-1zM1121,323h1v1h-1zM777,495h1v1h-1zM855,460h1v1h-1zM1037,360h1v1h-1zM981,392h1v1h-1zM335,445h1v1h-1zM501,505h1v1h-1zM809,481h1v1h-1zM327,441h1v1h-1zM1205,292h1v1h-1zM237,404h1v1h-1zM815,478h1v1h-1zM1061,348h1v1h-1zM519,510h1v1h-1zM491,503h1v1h-1zM227,402h1v1h-1zM539,516h1v1h-1zM1005,379h1v1h-1zM929,420h1v1h-1zM273,417h1v1h-1z"/>
<path fill="#FF0000" d="M3,4h3v1h-3zM9,4h3v1h-3zM15,4h3v1h-3zM21,4h3v1h-3zM27,4h3v1h-3zM33,4h3v1h-3zM39,4h3v1h-3zM45,4h3v1h-3zM51,4h3v1h-3zM57,4h3v1h-3zM63,4h3v1h-3zM69,4h3v1h-3zM75,4h3v1h-3zM81,4h3v1h-3zM87,4h3v1h-3zM93,4h3v1h-3zM99,4h3v1h-3zM105,4h3v1h-3zM111,4h3v1h-3zM117,4h3v1h-3zM123,4h3v1h-3zM129,4h3v1h-3zM135,4h3v1h-3zM141,4h3v1h-3zM147,4h3v1h-3zM153,4h3v1h-3zM159,4h3v1h-3zM165,4h3v1h-3zM171,4h3v1h-3zM177,4h3v1h-3zM183,4h3v1h-3zM189,4h3v1h-3zM195,4h3v1h-3zM201,4h3v1h-3zM207,4h3v1h-3zM213,4h3v1h-3zM219,4h3v1h-3zM225,4h3v1h-3zM231,4h3v1h-3zM237,4h3v1h-3zM243,4h3v1h-3zM249,4h3v1h-3zM255,4h3v1h-3zM261,4h3v1h-3zM267,4h3v1h-3zM273,4h3v1h-3zM279,4h3v1h-3zM285,4h3v1h-3zM291,4h3v1h-3zM297,4h3v1h-3zM303,4h3v1h-3zM309,4h3v1h-3zM315,4h3v1h-3zM321,4h3v1h-3zM327,4h3v1h-3zM333,4h3v1h-3zM339,4h3v1h-3zM345,4h3v1h-3zM351,4h3v1h-3zM357,4h3v1h-3zM363,4h3v1h-3zM369,4h3v1h-3zM375,4h3v1h-3zM381,4h3v1h-3zM387,4h3v1h-3zM393,4h3v1h-3zM399,4h3v1h-3zM405,4h3v1h-3zM411,4h3v1h-3zM417,4h3v1h-3zM423,4h3v1h-3zM429,4h3v1h-3zM435,4h3v1h-3zM441,4h3v1h-3zM447,4h3v1h-3zM453,4h3v1h-3zM459,4h3v1h-3zM465,4h3v1h-3zM471,4h3v1h-3zM477,4h3v1h-3zM483,4h3v1h-3zM489,4h3v1h-3zM495,4h3v1h-3zM501,4h3v1h-3zM507,4h3v1h-3zM513,4h3v1h-3zM519,4h3v1h-3zM525,4h3v1h-3zM531,4h3v1h-3zM537,4h3v1h-3zM543,4h3v1h-3zM549,4h3v1h-3zM555,4h3v1h-3zM561,4h3v1h-3zM567,4h3v1h-3zM573,4h3v1h-3zM579,4h3v1h-3zM585,4h3v1h-3zM591,4h3v1h-3zM597,4h3v1h-3zM603,4h3v1h-3zM609,4h3v1h-3zM615,4h3v1h-3zM621,4h3v1h-3zM627,4h3v1h-3zM633,4h3v1h-3zM639,4h3v1h-3zM645,4h3v1h-3zM651,4h3v1h-3zM657,4h3v1h-3zM663,4h3v1h-3zM669,4h3v1h-3zM675,4h3v1h-3zM681,4h3v1h-3zM687,4h3v1h-3zM693,4h3v1h-3zM699,4h3v1h-3zM705,4h3v1h-3zM711,4h3v1h-3zM717,4h3v1h-3zM723,4h3v1h-3zM729,4h3v1h-3zM735,4h3v1h-3zM741,4h3v1h-3zM747,4h3v1h-3zM753,4h3v1h-3zM759,4h3v1h-3zM765,4h3v1h-3zM771,4h3v1h-3zM777,4h3v1h-3zM783,4h3v1h-3zM789,4h3v1h-3zM795,4h3v1h-3zM801,4h3v1h-3zM807,4h3v1h-3zM813,4h3v1h-3zM819,4h3v1h-3zM825,4h3v1h-3zM831,4h3v1h-3zM837,4h3v1h-3zM843,4h3v1h-3zM849,4h3v1h-3zM855,4h3v1h-3zM861,4h3v1h-3zM867,4h3v1h-3zM873,4h3v1h-3zM879,4h3v1h-3zM885,4h3v1h-3zM891,4h3v1h-3zM897,4h3v1h-3zM903,4h3v1h-3zM909,4h3v1h-3zM915,4h3v1h-3zM921,4h3v1h-3zM927,4h3v1h-3zM933,4h3v1h-3zM939,4h3v1h-3zM945,4h3v1h-3zM951,4h3v1h-3zM957,4h3v1h-3zM963,4h3v1h-3zM969,4h3v1h-3zM975,4h3v1h-3zM981,4h3v1h-3zM987,4h3v1h-3zM993,4h3v1h-3zM999,4h3v1h-3zM1005,4h3v1h-3zM1011,4h3v1h-3zM1017,4h3v1h-3zM1023,4h3v1h-3zM1029,4h3v1h-3zM1035,4h3v1h-3zM1041,4h3v1h-3zM1047,4h3v1h-3zM1053,4h3v1h-3zM1059,4h3v1h-3zM1065,4h3v1h-3zM1071,4h3v1h-3zM1077,4h3v1h-3zM1083,4h3v1h-3zM1089,4h3v1h-3zM1095,4h3v1h-3zM1101,4h3v1h-3zM1107,4h3v1h-3zM1113,4h3v1h-3zM1119,4h3v1h-3zM1125,4h3v1h-3zM1131,4h3v1h-3zM1137,4h3v1h-3zM1143,4h3v1h-3zM1149,4h3v1h-3zM1155,4h3v1h-3zM1161,4h3v1h-3zM1167,4h3v1h-3zM1173,4h3v1h-3zM1179,4h3v1h-3zM1185,4h3v1h-3zM1191,4h3v1h-3zM1197,4h3v1h-3zM1203,4h3v1h-3zM1209,4h3v1h-3zM1215,4h3v1h-3zM1221,4h3v1h-3zM1227,4h3v1h-3zM1233,4h3v1h-3zM1239,4h3v1h-3zM1245,4h3v1h-3zM1251,4h3v1h-3zM1257,4h3v1h-3zM1263,4h3v1h-3zM1269,4h3v1h-3zM1275,4h3v1h-3zM1281,4h3v1h-3zM1287,4h3v1h-3zM1293,4h3v1h-3zM1299,4h3v1h-3zM1305,4h3v1h-3zM1311,4h3v1h-3zM1317,4h3v1h-3zM1323,4h3v1h-3zM1329,4h3v1h-3zM1335,4h3v1h-3zM1341,4h3v1h-3zM1347,4h3v1h-3zM1353,4h3v1h-3zM1359,4h3v1h-3zM1365,4h3v1h-3zM1371,4h3v1h-3zM1377,4h3v1h-3zM1383,4h3v1h-3zM1389,4h3v1h-3zM1395,4h3v1h-3zM1401,4h3v1h-3zM1407,4h3v1h-3zM1413,4h3v1h-3zM1419,4h3v1h-3zM1425,4h3v1h-3zM1431,4h3v1h-3zM1437,4h3v1h-3zM1443,4h3v1h-3zM1449,4h3v1h-3zM1455,4h3v1h-3zM1461,4h3v1h-3zM1467,4h3v1h-3zM1473,4h3v1h-3zM1479,4h3v1h-3zM1485,4h3v1h-3zM1491,4h3v1h-3zM1497,4h3v1h-3zM1503,4h3v1h-3zM1509,4h3v1h-3zM1515,4h3v1h-3zM1521,4h3v1h-3zM1527,4h3v1h-3zM1533,4h3v1h-3zM1539,4h3v1h-3zM1545,4h3v1h-3zM1551,4h3v1h-3zM1557,4h3v1h-3zM1563,4h3v1h-3zM1569,4h3v1h-3zM1575,4h3v1h-3zM1581,4h3v1h-3zM1587,4h3v1h-3zM1593,4h3v1h-3zM1599,4h3v1h-3zM1605,4h3v1h-3zM1611,4h3v1h-3zM1617,4h3v1h-3zM1623,4h3v1h-3zM1629,4h3v1h-3zM1635,4h3v1h-3zM1641,4h3v1h-3zM1647,4h3v1h-3zM1653,4h3v1h-3zM1659,4h3v1h-3zM1665,4h3v1h-3zM1671,4h3v1h-3zM1677,4h3v1h-3zM1683,4h3v1h-3zM1689,4h3v1h-3zM1695,4h3v1h-3zM1701,4h3v1h-3zM1707,4h3v1h-3zM1713,4h3v1h-3zM1719,4h3v1h-3zM1725,4h3v1h-3zM1731,4h3v1h-3zM1737,4h3v1h-3zM1743,4h3v1h-3zM1749,4h3v1h-3zM1755,4h3v1h-3zM1761,4h3v1h-3zM1767,4h3v1h-3zM1773,4h3v1h-3zM1779,4h3v1h-3zM1785,4h3v1h-3zM1791,4h3v1h-3zM1797,4h3v1h-3zM1803,4h3v1h-3zM1809,4h3v1h-3zM1815,4h3v1h-3zM1821,4h3v1h-3zM1827,4h3v1h-3z"/>
<path fill="#FF0000" d="M3,135h3v1h-3zM9,135h3v1h-3zM15,135h3v1h-3zM21,135h3v1h-3zM27,135h3v1h-3zM33,135h3v1h-3zM39,135h3v1h-3zM45,135h3v1h-3zM51,135h3v1h-3zM57,135h3v1h-3zM63,135h3v1h-3zM69,135h3v1h-3zM75,135h3v1h-3zM81,135h3v1h-3zM87,135h3v1h-3zM93,135h3v1h-3zM99,135h3v1h-3zM105,135h3v1h-3zM111,135h3v1h-3zM117,135h3v1h-3zM123,135h3v1h-3zM129,135h3v1h-3zM135,135h3v1h-3zM141,135h3v1h-3zM147,135h3v1h-3zM153,135h3v1h-3zM159,135h3v1h-3zM165,135h3v1h-3zM171,135h3v1h-3zM177,135h3v1h-3zM183,135h3v1h-3zM189,135h3v1h-3zM195,135h3v1h-3zM201,135h3v1h-3zM207,135h3v1h-3zM213,135h3v1h-3zM219,135h3v1h-3zM225,135h3v1h-3zM231,135h3v1h-3zM237,135h3v1h-3zM243,135h3v1h-3zM249,135h3v1h-3zM255,135h3v1h-3zM261,135h3v1h-3zM267,135h3v1h-3zM273,135h3v1h-3zM279,135h3v1h-3zM285,135h3v1h-3zM291,135h3v1h-3zM297,135h3v1h-3zM303,135h3v1h-3zM309,135h3v1h-3zM315,135h3v1h-3zM321,135h3v1h-3zM327,135h3v1h-3zM333,135h3v1h-3zM339,135h3v1h-3zM345,135h3v1h-3zM351,135h3v1h-3zM357,135h3v1h-3zM363,135h3v1h-3zM369,135h3v1h-3zM375,135h3v1h-3zM381,135h3v1h-3zM387,135h3v1h-3zM393,135h3v1h-3zM399,135h3v1h-3zM405,135h3v1h-3zM411,135h3v1h-3zM417,135h3v1h-3zM423,135h3v1h-3zM429,135h3v1h-3zM435,135h3v1h-3zM441,135h3v1h-3zM447,135h3v1h-3zM453,135h3v1h-3zM459,135h3v1h-3zM465,135h3v1h-3zM471,135h3v1h-3zM477,135h3v1h-3zM483,135h3v1h-3zM489,135h3v1h-3zM495,135h3v1h-3zM501,135h3v1h-3zM507,135h3v1h-3zM513,135h3v1h-3zM519,135h3v1h-3zM525,135h3v1h-3zM531,135h3v1h-3zM537,135h3v1h-3zM543,135h3v1h-3zM549,135h3v1h-3zM555,135h3v1h-3zM561,135h3v1h-3zM567,135h3v1h-3zM573,135h3v1h-3zM579,135h3v1h-3zM585,135h3v1h-3zM591,135h3v1h-3zM597,135h3v1h-3zM603,135h3v1h-3zM609,135h3v1h-3zM615,135h3v1h-3zM621,135h3v1h-3zM627,135h3v1h-3zM633,135h3v1h-3zM639,135h3v1h-3zM645,135h3v1h-3zM651,135h3v1h-3zM657,135h3v1h-3zM663,135h3v1h-3zM669,135h3v1h-3zM675,135h3v1h-3zM681,135h3v1h-3zM687,135h3v1h-3zM693,135h3v1h-3zM699,135h3v1h-3zM705,135h3v1h-3zM711,135h3v1h-3zM717,135h3v1h-3zM723,135h3v1h-3zM729,135h3v1h-3zM735,135h3v1h-3zM741,135h3v1h-3zM747,135h3v1h-3zM753,135h3v1h-3zM759,135h3v1h-3zM765,135h3v1h-3zM771,135h3v1h-3zM777,135h3v1h-3zM783,135h3v1h-3zM789,135h3v1h-3zM795,135h3v1h-3zM801,135h3v1h-3zM807,135h3v1h-3zM813,135h3v1h-3zM819,135h3v1h-3zM825,135h3v1h-3zM831,135h3v1h-3zM837,135h3v1h-3zM843,135h3v1h-3zM849,135h3v1h-3zM855,135h3v1h-3zM861,135h3v1h-3zM867,135h3v1h-3zM873,135h3v1h-3zM879,135h3v1h-3zM885,135h3v1h-3zM891,135h3v1h-3zM897,135h3v1h-3zM903,135h3v1h-3zM909,135h3v1h-3zM915,135h3v1h-3zM921,135h3v1h-3zM927,135h3v1h-3zM933,135h3v1h-3zM939,135h3v1h-3zM945,135h3v1h-3zM951,135h3v1h-3zM957,135h3v1h-3zM963,135h3v1h-3zM969,135h3v1h-3zM975,135h3v1h-3zM981,135h3v1h-3zM987,135h3v1h-3zM993,135h3v1h-3zM999,135h3v1h-3zM1005,135h3v1h-3zM1011,135h3v1h-3zM1017,135h3v1h-3zM1023,135h3v1h-3zM1029,135h3v1h-3zM1035,135h3v1h-3zM1041,135h3v1h-3zM1047,135h3v1h-3zM1053,135h3v1h-3zM1059,135h3v1h-3zM1065,135h3v1h-3zM1071,135h3v1h-3zM1077,135h3v1h-3zM1083,135h3v1h-3zM1089,135h3v1h-3zM1095,135h3v1h-3zM1101,135h3v1h-3zM1107,135h3v1h-3zM1113,135h3v1h-3zM1119,135h3v1h-3zM1125,135h3v1h-3zM1131,135h3v1h-3zM1137,135h3v1h-3zM1143,135h3v1h-3zM1149,135h3v1h-3zM1155,135h3v1h-3zM1161,135h3v1h-3zM1167,135h3v1h-3zM1173,135h3v1h-3zM1179,135h3v1h-3zM1185,135h3v1h-3zM1191,135h3v1h-3zM1197,135h3v1h-3zM1203,135h3v1h-3zM1209,135h3v1h-3zM1215,135h3v1h-3zM1221,135h3v1h-3zM1227,135h3v1h-3zM1233,135h3v1h-3zM1239,135h3v1h-3zM1245,135h3v1h-3zM1251,135h3v1h-3zM1257,135h3v1h-3zM1263,135h3v1h-3zM1269,135h3v1h-3zM1275,135h3v1h-3zM1281,135h3v1h-3zM1287,135h3v1h-3zM1293,135h3v1h-3zM1299,135h3v1h-3zM1305,135h3v1h-3zM1311,135h3v1h-3zM1317,135h3v1h-3zM1323,135h3v1h-3zM1329,135h3v1h-3zM1335,135h3v1h-3zM1341,135h3v1h-3zM1347,135h3v1h-3zM1353,135h3v1h-3zM1359,135h3v1h-3zM1365,135h3v1h-3zM1371,135h3v1h-3zM1377,135h3v1h-3zM1383,135h3v1h-3zM1389,135h3v1h-3zM1395,135h3v1h-3zM1401,135h3v1h-3zM1407,135h3v1h-3zM1413,135h3v1h-3zM1419,135h3v1h-3zM1425,135h3v1h-3zM1431,135h3v1h-3zM1437,135h3v1h-3zM1443,135h3v1h-3zM1449,135h3v1h-3zM1455,135h3v1h-3zM1461,135h3v1h-3zM1467,135h3v1h-3zM1473,135h3v1h-3zM1479,135h3v1h-3zM1485,135h3v1h-3zM1491,135h3v1h-3zM1497,135h3v1h-3zM1503,135h3v1h-3zM1509,135h3v1h-3zM1515,135h3v1h-3zM1521,135h3v1h-3zM1527,135h3v1h-3zM1533,135h3v1h-3zM1539,135h3v1h-3zM1545,135h3v1h-3zM1551,135h3v1h-3zM1557,135h3v1h-3zM1563,135h3v1h-3zM1569,135h3v1h-3zM1575,135h3v1h-3zM1581,135h3v1h-3zM1587,135h3v1h-3zM1593,135h3v1h-3zM1599,135h3v1h-3zM1605,135h3v1h-3zM1611,135h3v1h-3zM1617,135h3v1h-3zM1623,135h3v1h-3zM1629,135h3v1h-3zM1635,135h3v1h-3zM1641,135h3v1h-3zM1647,135h3v1h-3zM1653,135h3v1h-3zM1659,135h3v1h-3zM1665,135h3v1h-3zM1671,135h3v1h-3zM1677,135h3v1h-3zM1683,135h3v1h-3zM1689,135h3v1h-3zM1695,135h3v1h-3zM1701,135h3v1h-3zM1707,135h3v1h-3zM1713,135h3v1h-3zM1719,135h3v1h-3zM1725,135h3v1h-3zM1731,135h3v1h-3zM1737,135h3v1h-3zM1743,135h3v1h-3zM1749,135h3v1h-3zM1755,135h3v1h-3zM1761,135h3v1h-3zM1767,135h3v1h-3zM1773,135h3v1h-3zM1779,135h3v1h-3zM1785,135h3v1h-3zM1791,135h3v1h-3zM1797,135h3v1h-3zM1803,135h3v1h-3zM1809,135h3v1h-3zM1815,135h3v1h-3zM1821,135h3v1h-3zM1827,135h3v1h-3z"/>
<path fill="#FF0000" d="M3,168h3v1h-3zM9,168h3v1h-3zM15,168h3v1h-3zM21,168h3v1h-3zM27,168h3v1h-3zM33,168h3v1h-3zM39,168h3v1h-3zM45,168h3v1h-3zM51,168h3v1h-3zM57,168h3v1h-3zM63,168h3v1h-3zM69,168h3v1h-3zM75,168h3v1h-3zM81,168h3v1h-3zM87,168h3v1h-3zM93,168h3v1h-3zM99,168h3v1h-3zM105,168h3v1h-3zM111,168h3v1h-3zM117,168h3v1h-3zM123,168h3v1h-3zM129,168h3v1h-3zM135,168h3v1h-3zM141,168h3v1h-3zM147,168h3v1h-3zM153,168h3v1h-3zM159,168h3v1h-3zM165,168h3v1h-3zM171,168h3v1h-3zM177,168h3v1h-3zM183,168h3v1h-3zM189,168h3v1h-3zM195,168h3v1h-3zM201,168h3v1h-3zM207,168h3v1h-3zM213,168h3v1h-3zM219,168h3v1h-3zM225,168h3v1h-3zM231,168h3v1h-3zM237,168h3v1h-3zM243,168h3v1h-3zM249,168h3v1h-3zM255,168h3v1h-3zM261,168h3v1h-3zM267,168h3v1h-3zM273,168h3v1h-3zM279,168h3v1h-3zM285,168h3v1h-3zM291,168h3v1h-3zM297,168h3v1h-3zM303,168h3v1h-3zM309,168h3v1h-3zM315,168h3v1h-3zM321,168h3v1h-3zM327,168h3v1h-3zM333,168h3v1h-3zM339,168h3v1h-3zM345,168h3v1h-3zM351,168h3v1h-3zM357,168h3v1h-3zM363,168h3v1h-3zM369,168h3v1h-3zM375,168h3v1h-3zM381,168h3v1h-3zM387,168h3v1h-3zM393,168h3v1h-3zM399,168h3v1h-3zM405,168h3v1h-3zM411,168h3v1h-3zM417,168h3v1h-3zM423,168h3v1h-3zM429,168h3v1h-3zM435,168h3v1h-3zM441,168h3v1h-3zM447,168h3v1h-3zM453,168h3v1h-3zM459,168h3v1h-3zM465,168h3v1h-3zM471,168h3v1h-3zM477,168h3v1h-3zM483,168h3v1h-3zM489,168h3v1h-3zM495,168h3v1h-3zM501,168h3v1h-3zM507,168h3v1h-3zM513,168h3v1h-3zM519,168h3v1h-3zM525,168h3v1h-3zM531,168h3v1h-3zM537,168h3v1h-3zM543,168h3v1h-3zM549,168h3v1h-3zM555,168h3v1h-3zM561,168h3v1h-3zM567,168h3v1h-3zM573,168h3v1h-3zM579,168h3v1h-3zM585,168h3v1h-3zM591,168h3v1h-3zM597,168h3v1h-3zM603,168h3v1h-3zM609,168h3v1h-3zM615,168h3v1h-3zM621,168h3v1h-3zM627,168h3v1h-3zM633,168h3v1h-3zM639,168h3v1h-3zM645,168h3v1h-3zM651,168h3v1h-3zM657,168h3v1h-3zM663,168h3v1h-3zM669,168h3v1h-3zM675,168h3v1h-3zM681,168h3v1h-3zM687,168h3v1h-3zM693,168h3v1h-3zM699,168h3v1h-3zM705,168h3v1h-3zM711,168h3v1h-3zM717,168h3v1h-3zM723,168h3v1h-3zM729,168h3v1h-3zM735,168h3v1h-3zM741,168h3v1h-3zM747,168h3v1h-3zM753,168h3v1h-3zM759,168h3v1h-3zM765,168h3v1h-3zM771,168h3v1h-3zM777,168h3v1h-3zM783,168h3v1h-3zM789,168h3v1h-3zM795,168h3v1h-3zM801,168h3v1h-3zM807,168h3v1h-3zM813,168h3v1h-3zM819,168h3v1h-3zM825,168h3v1h-3zM831,168h3v1h-3zM837,168h3v1h-3zM843,168h3v1h-3zM849,168h3v1h-3zM855,168h3v1h-3zM861,168h3v1h-3zM867,168h3v1h-3zM873,168h3v1h-3zM879,168h3v1h-3zM885,168h3v1h-3zM891,168h3v1h-3zM897,168h3v1h-3zM903,168h3v1h-3zM909,168h3v1h-3zM915,168h3v1h-3zM921,168h3v1h-3zM927,168h3v1h-3zM933,168h3v1h-3zM939,168h3v1h-3zM945,168h3v1h-3zM951,168h3v1h-3zM957,168h3v1h-3zM963,168h3v1h-3zM969,168h3v1h-3zM975,168h3v1h-3zM981,168h3v1h-3zM987,168h3v1h-3zM993,168h3v1h-3zM999,168h3v1h-3zM1005,168h3v1h-3zM1011,168h3v1h-3zM1017,168h3v1h-3zM1023,168h3v1h-3zM1029,168h3v1h-3zM1035,168h3v1h-3zM1041,168h3v1h-3zM1047,168h3v1h-3zM1053,168h3v1h-3zM1059,168h3v1h-3zM1065,168h3v1h-3zM1071,168h3v1h-3zM1077,168h3v1h-3zM1083,168h3v1h-3zM1089,168h3v1h-3zM1095,168h3v1h-3zM1101,168h3v1h-3zM1107,168h3v1h-3zM1113,168h3v1h-3zM1119,168h3v1h-3zM1125,168h3v1h-3zM1131,168h3v1h-3zM1137,168h3v1h-3zM1143,168h3v1h-3zM1149,168h3v1h-3zM1155,168h3v1h-3zM1161,168h3v1h-3zM1167,168h3v1h-3zM1173,168h3v1h-3zM1179,168h3v1h-3zM1185,168h3v1h-3zM1191,168h3v1h-3zM1197,168h3v1h-3zM1203,168h3v1h-3zM1209,168h3v1h-3zM1215,168h3v1h-3zM1221,168h3v1h-3zM1227,168h3v1h-3zM1233,168h3v1h-3zM1239,168h3v1h-3zM1245,168h3v1h-3zM1251,168h3v1h-3zM1257,168h3v1h-3zM1263,168h3v1h-3zM1269,168h3v1h-3zM1275,168h3v1h-3zM1281,168h3v1h-3zM1287,168h3v1h-3zM1293,168h3v1h-3zM1299,168h3v1h-3zM1305,168h3v1h-3zM1311,168h3v1h-3zM1317,168h3v1h-3zM1323,168h3v1h-3zM1329,168h3v1h-3zM1335,168h3v1h-3zM1341,168h3v1h-3zM1347,168h3v1h-3zM1353,168h3v1h-3zM1359,168h3v1h-3zM1365,168h3v1h-3zM1371,168h3v1h-3zM1377,168h3v1h-3zM1383,168h3v1h-3zM1389,168h3v1h-3zM1395,168h3v1h-3zM1401,168h3v1h-3zM1407,168h3v1h-3zM1413,168h3v1h-3zM1419,168h3v1h-3zM1425,168h3v1h-3zM1431,168h3v1h-3zM1437,168h3v1h-3zM1443,168h3v1h-3zM1449,168h3v1h-3zM1455,168h3v1h-3zM1461,168h3v1h-3zM1467,168h3v1h-3zM1473,168h3v1h-3zM1479,168h3v1h-3zM1485,168h3v1h-3zM1491,168h3v1h-3zM1497,168h3v1h-3zM1503,168h3v1h-3zM1509,168h3v1h-3zM1515,168h3v1h-3zM1521,168h3v1h-3zM1527,168h3v1h-3zM1533,168h3v1h-3zM1539,168h3v1h-3zM1545,168h3v1h-3zM1551,168h3v1h-3zM1557,168h3v1h-3zM1563,168h3v1h-3zM1569,168h3v1h-3zM1575,168h3v1h-3zM1581,168h3v1h-3zM1587,168h3v1h-3zM1593,168h3v1h-3zM1599,168h3v1h-3zM1605,168h3v1h-3zM1611,168h3v1h-3zM1617,168h3v1h-3zM1623,168h3v1h-3zM1629,168h3v1h-3zM1635,168h3v1h-3zM1641,168h3v1h-3zM1647,168h3v1h-3zM1653,168h3v1h-3zM1659,168h3v1h-3zM1665,168h3v1h-3zM1671,168h3v1h-3zM1677,168h3v1h-3zM1683,168h3v1h-3zM1689,168h3v1h-3zM1695,168h3v1h-3zM1701,168h3v1h-3zM1707,168h3v1h-3zM1713,168h3v1h-3zM1719,168h3v1h-3zM1725,168h3v1h-3zM1731,168h3v1h-3zM1737,168h3v1h-3zM1743,168h3v1h-3zM1749,168h3v1h-3zM1755,168h3v1h-3zM1761,168h3v1h-3zM1767,168h3v1h-3zM1773,168h3v1h-3zM1779,168h3v1h-3zM1785,168h3v1h-3zM1791,168h3v1h-3zM1797,168h3v1h-3zM1803,168h3v1h-3zM1809,168h3v1h-3zM1815,168h3v1h-3zM1821,168h3v1h-3zM1827,168h3v1h-3z"/>
<path fill="#FF0000" d="M3,260h3v1h-3zM9,260h3v1h-3zM15,260h3v1h-3zM21,260h3v1h-3zM27,260h3v1h-3zM33,260h3v1h-3zM39,260h3v1h-3zM45,260h3v1h-3zM51,260h3v1h-3zM57,260h3v1h-3zM63,260h3v1h-3zM69,260h3v1h-3zM75,260h3v1h-3zM81,260h3v1h-3zM87,260h3v1h-3zM93,260h3v1h-3zM99,260h3v1h-3zM105,260h3v1h-3zM111,260h3v1h-3zM117,260h3v1h-3zM123,260h3v1h-3zM129,260h3v1h-3zM135,260h3v1h-3zM141,260h3v1h-3zM147,260h3v1h-3zM153,260h3v1h-3zM159,260h3v1h-3zM165,260h3v1h-3zM171,260h3v1h-3zM177,260h3v1h-3zM183,260h3v1h-3zM189,260h3v1h-3zM195,260h3v1h-3zM201,260h3v1h-3zM207,260h3v1h-3zM213,260h3v1h-3zM219,260h3v1h-3zM225,260h3v1h-3zM231,260h3v1h-3zM237,260h3v1h-3zM243,260h3v1h-3zM249,260h3v1h-3zM255,260h3v1h-3zM261,260h3v1h-3zM267,260h3v1h-3zM273,260h3v1h-3zM279,260h3v1h-3zM285,260h3v1h-3zM291,260h3v1h-3zM297,260h3v1h-3zM303,260h3v1h-3zM309,260h3v1h-3zM315,260h3v1h-3zM321,260h3v1h-3zM327,260h3v1h-3zM333,260h3v1h-3zM339,260h3v1h-3zM345,260h3v1h-3zM351,260h3v1h-3zM357,260h3v1h-3zM363,260h3v1h-3zM369,260h3v1h-3zM375,260h3v1h-3zM381,260h3v1h-3zM387,260h3v1h-3zM393,260h3v1h-3zM399,260h3v1h-3zM405,260h3v1h-3zM411,260h3v1h-3zM417,260h3v1h-3zM423,260h3v1h-3zM429,260h3v1h-3zM435,260h3v1h-3zM441,260h3v1h-3zM447,260h3v1h-3zM453,260h3v1h-3zM459,260h3v1h-3zM465,260h3v1h-3zM471,260h3v1h-3zM477,260h3v1h-3zM483,260h3v1h-3zM489,260h3v1h-3zM495,260h3v1h-3zM501,260h3v1h-3zM507,260h3v1h-3zM513,260h3v1h-3zM519,260h3v1h-3zM525,260h3v1h-3zM531,260h3v1h-3zM537,260h3v1h-3zM543,260h3v1h-3zM549,260h3v1h-3zM555,260h3v1h-3zM561,260h3v1h-3zM567,260h3v1h-3zM573,260h3v1h-3zM579,260h3v1h-3zM585,260h3v1h-3zM591,260h3v1h-3zM597,260h3v1h-3zM603,260h3v1h-3zM609,260h3v1h-3zM615,260h3v1h-3zM621,260h3v1h-3zM627,260h3v1h-3zM633,260h3v1h-3zM639,260h3v1h-3zM645,260h3v1h-3zM651,260h3v1h-3zM657,260h3v1h-3zM663,260h3v1h-3zM669,260h3v1h-3zM675,260h3v1h-3zM681,260h3v1h-3zM687,260h3v1h-3zM693,260h3v1h-3zM699,260h3v1h-3zM705,260h3v1h-3zM711,260h3v1h-3zM717,260h3v1h-3zM723,260h3v1h-3zM729,260h3v1h-3zM735,260h3v1h-3zM741,260h3v1h-3zM747,260h3v1h-3zM753,260h3v1h-3zM759,260h3v1h-3zM765,260h3v1h-3zM771,260h3v1h-3zM777,260h3v1h-3zM783,260h3v1h-3zM789,260h3v1h-3zM795,260h3v1h-3zM801,260h3v1h-3zM807,260h3v1h-3zM813,260h3v1h-3zM819,260h3v1h-3zM825,260h3v1h-3zM831,260h3v1h-3zM837,260h3v1h-3zM843,260h3v1h-3zM849,260h3v1h-3zM855,260h3v1h-3zM861,260h3v1h-3zM867,260h3v1h-3zM873,260h3v1h-3zM879,260h3v1h-3zM885,260h3v1h-3zM891,260h3v1h-3zM897,260h3v1h-3zM903,260h3v1h-3zM909,260h3v1h-3zM915,260h3v1h-3zM921,260h3v1h-3zM927,260h3v1h-3zM933,260h3v1h-3zM939,260h3v1h-3zM945,260h3v1h-3zM951,260h3v1h-3zM957,260h3v1h-3zM963,260h3v1h-3zM969,260h3v1h-3zM975,260h3v1h-3zM981,260h3v1h-3zM987,260h3v1h-3zM993,260h3v1h-3zM999,260h3v1h-3zM1005,260h3v1h-3zM1011,260h3v1h-3zM1017,260h3v1h-3zM1023,260h3v1h-3zM1029,260h3v1h-3zM1035,260h3v1h-3zM1041,260h3v1h-3zM1047,260h3v1h-3zM1053,260h3v1h-3zM1059,260h3v1h-3zM1065,260h3v1h-3zM1071,260h3v1h-3zM1077,260h3v1h-3zM1083,260h3v1h-3zM1089,260h3v1h-3zM1095,260h3v1h-3zM1101,260h3v1h-3zM1107,260h3v1h-3zM1113,260h3v1h-3zM1119,260h3v1h-3zM1125,260h3v1h-3zM1131,260h3v1h-3zM1137,260h3v1h-3zM1143,260h3v1h-3zM1149,260h3v1h-3zM1155,260h3v1h-3zM1161,260h3v1h-3zM1167,260h3v1h-3zM1173,260h3v1h-3zM1179,260h3v1h-3zM1185,260h3v1h-3zM1191,260h3v1h-3zM1197,260h3v1h-3zM1203,260h3v1h-3zM1209,260h3v1h-3zM1215,260h3v1h-3zM1221,260h3v1h-3zM1227,260h3v1h-3zM1233,260h3v1h-3zM1239,260h3v1h-3zM1245,260h3v1h-3zM1251,260h3v1h-3zM1257,260h3v1h-3zM1263,260h3v1h-3zM1269,260h3v1h-3zM1275,260h3v1h-3zM1281,260h3v1h-3zM1287,260h3v1h-3zM1293,260h3v1h-3zM1299,260h3v1h-3zM1305,260h3v1h-3zM1311,260h3v1h-3zM1317,260h3v1h-3zM1323,260h3v1h-3zM1329,260h3v1h-3zM1335,260h3v1h-3zM1341,260h3v1h-3zM1347,260h3v1h-3zM1353,260h3v1h-3zM1359,260h3v1h-3zM1365,260h3v1h-3zM1371,260h3v1h-3zM1377,260h3v1h-3zM1383,260h3v1h-3zM1389,260h3v1h-3zM1395,260h3v1h-3zM1401,260h3v1h-3zM1407,260h3v1h-3zM1413,260h3v1h-3zM1419,260h3v1h-3zM1425,260h3v1h-3zM1431,260h3v1h-3zM1437,260h3v1h-3zM1443,260h3v1h-3zM1449,260h3v1h-3zM1455,260h3v1h-3zM1461,260h3v1h-3zM1467,260h3v1h-3zM1473,260h3v1h-3zM1479,260h3v1h-3zM1485,260h3v1h-3zM1491,260h3v1h-3zM1497,260h3v1h-3zM1503,260h3v1h-3zM1509,260h3v1h-3zM1515,260h3v1h-3zM1521,260h3v1h-3zM1527,260h3v1h-3zM1533,260h3v1h-3zM1539,260h3v1h-3zM1545,260h3v1h-3zM1551,260h3v1h-3zM1557,260h3v1h-3zM1563,260h3v1h-3zM1569,260h3v1h-3zM1575,260h3v1h-3zM1581,260h3v1h-3zM1587,260h3v1h-3zM1593,260h3v1h-3zM1599,260h3v1h-3zM1605,260h3v1h-3zM1611,260h3v1h-3zM1617,260h3v1h-3zM1623,260h3v1h-3zM1629,260h3v1h-3zM1635,260h3v1h-3zM1641,260h3v1h-3zM1647,260h3v1h-3zM1653,260h3v1h-3zM1659,260h3v1h-3zM1665,260h3v1h-3zM1671,260h3v1h-3zM1677,260h3v1h-3zM1683,260h3v1h-3zM1689,260h3v1h-3zM1695,260h3v1h-3zM1701,260h3v1h-3zM1707,260h3v1h-3zM1713,260h3v1h-3zM1719,260h3v1h-3zM1725,260h3v1h-3zM1731,260h3v1h-3zM1737,260h3v1h-3zM1743,260h3v1h-3zM1749,260h3v1h-3zM1755,260h3v1h-3zM1761,260h3v1h-3zM1767,260h3v1h-3zM1773,260h3v1h-3zM1779,260h3v1h-3zM1785,260h3v1h-3zM1791,260h3v1h-3zM1797,260h3v1h-3zM1803,260h3v1h-3zM1809,260h3v1h-3zM1815,260h3v1h-3zM1821,260h3v1h-3zM1827,260h3v1h-3z"/>
<path fill="#FF0000" d="M3,348h3v1h-3zM9,348h3v1h-3zM15,348h3v1h-3zM21,348h3v1h-3zM27,348h3v1h-3zM33,348h3v1h-3zM39,348h3v1h-3zM45,348h3v1h-3zM51,348h3v1h-3zM57,348h3v1h-3zM63,348h3v1h-3zM69,348h3v1h-3zM75,348h3v1h-3zM81,348h3v1h-3zM87,348h3v1h-3zM93,348h3v1h-3zM99,348h3v1h-3zM105,348h3v1h-3zM111,348h3v1h-3zM117,348h3v1h-3zM123,348h3v1h-3zM129,348h3v1h-3zM135,348h3v1h-3zM141,348h3v1h-3zM147,348h3v1h-3zM153,348h3v1h-3zM159,348h3v1h-3zM165,348h3v1h-3zM171,348h3v1h-3zM177,348h3v1h-3zM183,348h3v1h-3zM189,348h3v1h-3zM195,348h3v1h-3zM201,348h3v1h-3zM207,348h3v1h-3zM213,348h3v1h-3zM219,348h3v1h-3zM225,348h3v1h-3zM231,348h3v1h-3zM237,348h3v1h-3zM243,348h3v1h-3zM249,348h3v1h-3zM255,348h3v1h-3zM261,348h3v1h-3zM267,348h3v1h-3zM273,348h3v1h-3zM279,348h3v1h-3zM285,348h3v1h-3zM291,348h3v1h-3zM297,348h3v1h-3zM303,348h3v1h-3zM309,348h3v1h-3zM315,348h3v1h-3zM321,348h3v1h-3zM327,348h3v1h-3zM333,348h3v1h-3zM339,348h3v1h-3zM345,348h3v1h-3zM351,348h3v1h-3zM357,348h3v1h-3zM363,348h3v1h-3zM369,348h3v1h-3zM375,348h3v1h-3zM381,348h3v1h-3zM387,348h3v1h-3zM393,348h3v1h-3zM399,348h3v1h-3zM405,348h3v1h-3zM411,348h3v1h-3zM417,348h3v1h-3zM423,348h3v1h-3zM429,348h3v1h-3zM435,348h3v1h-3zM441,348h3v1h-3zM447,348h3v1h-3zM453,348h3v1h-3zM459,348h3v1h-3zM465,348h3v1h-3zM471,348h3v1h-3zM477,348h3v1h-3zM483,348h3v1h-3zM489,348h3v1h-3zM495,348h3v1h-3zM501,348h3v1h-3zM507,348h3v1h-3zM513,348h3v1h-3zM519,348h3v1h-3zM525,348h3v1h-3zM531,348h3v1h-3zM537,348h3v1h-3zM543,348h3v1h-3zM549,348h3v1h-3zM555,348h3v1h-3zM561,348h3v1h-3zM567,348h3v1h-3zM573,348h3v1h-3zM579,348h3v1h-3zM585,348h3v1h-3zM591,348h3v1h-3zM597,348h3v1h-3zM603,348h3v1h-3zM609,348h3v1h-3zM615,348h3v1h-3zM621,348h3v1h-3zM627,348h3v1h-3zM633,348h3v1h-3zM639,348h3v1h-3zM645,348h3v1h-3zM651,348h3v1h-3zM657,348h3v1h-3zM663,348h3v1h-3zM669,348h3v1h-3zM675,348h3v1h-3zM681,348h3v1h-3zM687,348h3v1h-3zM693,348h3v1h-3zM699,348h3v1h-3zM705,348h3v1h-3zM711,348h3v1h-3zM717,348h3v1h-3zM723,348h3v1h-3zM729,348h3v1h-3zM735,348h3v1h-3zM741,348h3v1h-3zM747,348h3v1h-3zM753,348h3v1h-3zM759,348h3v1h-3zM765,348h3v1h-3zM771,348h3v1h-3zM777,348h3v1h-3zM783,348h3v1h-3zM789,348h3v1h-3zM795,348h3v1h-3zM801,348h3v1h-3zM807,348h3v1h-3zM813,348h3v1h-3zM819,348h3v1h-3zM825,348h3v1h-3zM831,348h3v1h-3zM837,348h3v1h-3zM843,348h3v1h-3zM849,348h3v1h-3zM855,348h3v1h-3zM861,348h3v1h-3zM867,348h3v1h-3zM873,348h3v1h-3zM879,348h3v1h-3zM885,348h3v1h-3zM891,348h3v1h-3zM897,348h3v1h-3zM903,348h3v1h-3zM909,348h3v1h-3zM915,348h3v1h-3zM921,348h3v1h-3zM927,348h3v1h-3zM933,348h3v1h-3zM939,348h3v1h-3zM945,348h3v1h-3zM951,348h3v1h-3zM957,348h3v1h-3zM963,348h3v1h-3zM969,348h3v1h-3zM975,348h3v1h-3zM981,348h3v1h-3zM987,348h3v1h-3zM993,348h3v1h-3zM999,348h3v1h-3zM1005,348h3v1h-3zM1011,348h3v1h-3zM1017,348h3v1h-3zM1023,348h3v1h-3zM1029,348h3v1h-3zM1035,348h3v1h-3zM1041,348h3v1h-3zM1047,348h3v1h-3zM1053,348h3v1h-3zM1059,348h3v1h-3zM1065,348h3v1h-3zM1071,348h3v1h-3zM1077,348h3v1h-3zM1083,348h3v1h-3zM1089,348h3v1h-3zM1095,348h3v1h-3zM1101,348h3v1h-3zM1107,348h3v1h-3zM1113,348h3v1h-3zM1119,348h3v1h-3zM1125,348h3v1h-3zM1131,348h3v1h-3zM1137,348h3v1h-3zM1143,348h3v1h-3zM1149,348h3v1h-3zM1155,348h3v1h-3zM1161,348h3v1h-3zM1167,348h3v1h-3zM1173,348h3v1h-3zM1179,348h3v1h-3zM1185,348h3v1h-3zM1191,348h3v1h-3zM1197,348h3v1h-3zM1203,348h3v1h-3zM1209,348h3v1h-3zM1215,348h3v1h-3zM1221,348h3v1h-3zM1227,348h3v1h-3zM1233,348h3v1h-3zM1239,348h3v1h-3zM1245,348h3v1h-3zM1251,348h3v1h-3zM1257,348h3v1h-3zM1263,348h3v1h-3zM1269,348h3v1h-3zM1275,348h3v1h-3zM1281,348h3v1h-3zM1287,348h3v1h-3zM1293,348h3v1h-3zM1299,348h3v1h-3zM1305,348h3v1h-3zM1311,348h3v1h-3zM1317,348h3v1h-3zM1323,348h3v1h-3zM1329,348h3v1h-3zM1335,348h3v1h-3zM1341,348h3v1h-3zM1347,348h3v1h-3zM1353,348h3v1h-3zM1359,348h3v1h-3zM1365,348h3v1h-3zM1371,348h3v1h-3zM1377,348h3v1h-3zM1383,348h3v1h-3zM1389,348h3v1h-3zM1395,348h3v1h-3zM1401,348h3v1h-3zM1407,348h3v1h-3zM1413,348h3v1h-3zM1419,348h3v1h-3zM1425,348h3v1h-3zM1431,348h3v1h-3zM1437,348h3v1h-3zM1443,348h3v1h-3zM1449,348h3v1h-3zM1455,348h3v1h-3zM1461,348h3v1h-3zM1467,348h3v1h-3zM1473,348h3v1h-3zM1479,348h3v1h-3zM1485,348h3v1h-3zM1491,348h3v1h-3zM1497,348h3v1h-3zM1503,348h3v1h-3zM1509,348h3v1h-3zM1515,348h3v1h-3zM1521,348h3v1h-3zM1527,348h3v1h-3zM1533,348h3v1h-3zM1539,348h3v1h-3zM1545,348h3v1h-3zM1551,348h3v1h-3zM1557,348h3v1h-3zM1563,348h3v1h-3zM1569,348h3v1h-3zM1575,348h3v1h-3zM1581,348h3v1h-3zM1587,348h3v1h-3zM1593,348h3v1h-3zM1599,348h3v1h-3zM1605,348h3v1h-3zM1611,348h3v1h-3zM1617,348h3v1h-3zM1623,348h3v1h-3zM1629,348h3v1h-3zM1635,348h3v1h-3zM1641,348h3v1h-3zM1647,348h3v1h-3zM1653,348h3v1h-3zM1659,348h3v1h-3zM1665,348h3v1h-3zM1671,348h3v1h-3zM1677,348h3v1h-3zM1683,348h3v1h-3zM1689,348h3v1h-3zM1695,348h3v1h-3zM1701,348h3v1h-3zM1707,348h3v1h-3zM1713,348h3v1h-3zM1719,348h3v1h-3zM1725,348h3v1h-3zM1731,348h3v1h-3zM1737,348h3v1h-3zM1743,348h3v1h-3zM1749,348h3v1h-3zM1755,348h3v1h-3zM1761,348h3v1h-3zM1767,348h3v1h-3zM1773,348h3v1h-3zM1779,348h3v1h-3zM1785,348h3v1h-3zM1791,348h3v1h-3zM1797,348h3v1h-3zM1803,348h3v1h-3zM1809,348h3v1h-3zM1815,348h3v1h-3zM1821,348h3v1h-3zM1827,348h3v1h-3z"/>
<path fill="#FF0000" d="M3,387h3v1h-3zM9,387h3v1h-3zM15,387h3v1h-3zM21,387h3v1h-3zM27,387h3v1h-3zM33,387h3v1h-3zM39,387h3v1h-3zM45,387h3v1h-3zM51,387h3v1h-3zM57,387h3v1h-3zM63,387h3v1h-3zM69,387h3v1h-3zM75,387h3v1h-3zM81,387h3v1h-3zM87,387h3v1h-3zM93,387h3v1h-3zM99,387h3v1h-3zM105,387h3v1h-3zM111,387h3v1h-3zM117,387h3v1h-3zM123,387h3v1h-3zM129,387h3v1h-3zM135,387h3v1h-3zM141,387h3v1h-3zM147,387h3v1h-3zM153,387h3v1h-3zM159,387h3v1h-3zM165,387h3v1h-3zM171,387h3v1h-3zM177,387h3v1h-3zM183,387h3v1h-3zM189,387h3v1h-3zM195,387h3v1h-3zM201,387h3v1h-3zM207,387h3v1h-3zM213,387h3v1h-3zM219,387h3v1h-3zM225,387h3v1h-3zM231,387h3v1h-3zM237,387h3v1h-3zM243,387h3v1h-3zM249,387h3v1h-3zM255,387h3v1h-3zM261,387h3v1h-3zM267,387h3v1h-3zM273,387h3v1h-3zM279,387h3v1h-3zM285,387h3v1h-3zM291,387h3v1h-3zM297,387h3v1h-3zM303,387h3v1h-3zM309,387h3v1h-3zM315,387h3v1h-3zM321,387h3v1h-3zM327,387h3v1h-3zM333,387h3v1h-3zM339,387h3v1h-3zM345,387h3v1h-3zM351,387h3v1h-3zM357,387h3v1h-3zM363,387h3v1h-3zM369,387h3v1h-3zM375,387h3v1h-3zM381,387h3v1h-3zM387,387h3v1h-3zM393,387h3v1h-3zM399,387h3v1h-3zM405,387h3v1h-3zM411,387h3v1h-3zM417,387h3v1h-3zM423,387h3v1h-3zM429,387h3v1h-3zM435,387h3v1h-3zM441,387h3v1h-3zM447,387h3v1h-3zM453,387h3v1h-3zM459,387h3v1h-3zM465,387h3v1h-3zM471,387h3v1h-3zM477,387h3v1h-3zM483,387h3v1h-3zM489,387h3v1h-3zM495,387h3v1h-3zM501,387h3v1h-3zM507,387h3v1h-3zM513,387h3v1h-3zM519,387h3v1h-3zM525,387h3v1h-3zM531,387h3v1h-3zM537,387h3v1h-3zM543,387h3v1h-3zM549,387h3v1h-3zM555,387h3v1h-3zM561,387h3v1h-3zM567,387h3v1h-3zM573,387h3v1h-3zM579,387h3v1h-3zM585,387h3v1h-3zM591,387h3v1h-3zM597,387h3v1h-3zM603,387h3v1h-3zM609,387h3v1h-3zM615,387h3v1h-3zM621,387h3v1h-3zM627,387h3v1h-3zM633,387h3v1h-3zM639,387h3v1h-3zM645,387h3v1h-3zM651,387h3v1h-3zM657,387h3v1h-3zM663,387h3v1h-3zM669,387h3v1h-3zM675,387h3v1h-3zM681,387h3v1h-3zM687,387h3v1h-3zM693,387h3v1h-3zM699,387h3v1h-3zM705,387h3v1h-3zM711,387h3v1h-3zM717,387h3v1h-3zM723,387h3v1h-3zM729,387h3v1h-3zM735,387h3v1h-3zM741,387h3v1h-3zM747,387h3v1h-3zM753,387h3v1h-3zM759,387h3v1h-3zM765,387h3v1h-3zM771,387h3v1h-3zM777,387h3v1h-3zM783,387h3v1h-3zM789,387h3v1h-3zM795,387h3v1h-3zM801,387h3v1h-3zM807,387h3v1h-3zM813,387h3v1h-3zM819,387h3v1h-3zM825,387h3v1h-3zM831,387h3v1h-3zM837,387h3v1h-3zM843,387h3v1h-3zM849,387h3v1h-3zM855,387h3v1h-3zM861,387h3v1h-3zM867,387h3v1h-3zM873,387h3v1h-3zM879,387h3v1h-3zM885,387h3v1h-3zM891,387h3v1h-3zM897,387h3v1h-3zM903,387h3v1h-3zM909,387h3v1h-3zM915,387h3v1h-3zM921,387h3v1h-3zM927,387h3v1h-3zM933,387h3v1h-3zM939,387h3v1h-3zM945,387h3v1h-3zM951,387h3v1h-3zM957,387h3v1h-3zM963,387h3v1h-3zM969,387h3v1h-3zM975,387h3v1h-3zM981,387h3v1h-3zM987,387h3v1h-3zM993,387h3v1h-3zM999,387h3v1h-3zM1005,387h3v1h-3zM1011,387h3v1h-3zM1017,387h3v1h-3zM1023,387h3v1h-3zM1029,387h3v1h-3zM1035,387h3v1h-3zM1041,387h3v1h-3zM1047,387h3v1h-3zM1053,387h3v1h-3zM1059,387h3v1h-3zM1065,387h3v1h-3zM1071,387h3v1h-3zM1077,387h3v1h-3zM1083,387h3v1h-3zM1089,387h3v1h-3zM1095,387h3v1h-3zM1101,387h3v1h-3zM1107,387h3v1h-3zM1113,387h3v1h-3zM1119,387h3v1h-3zM1125,387h3v1h-3zM1131,387h3v1h-3zM1137,387h3v1h-3zM1143,387h3v1h-3zM1149,387h3v1h-3zM1155,387h3v1h-3zM1161,387h3v1h-3zM1167,387h3v1h-3zM1173,387h3v1h-3zM1179,387h3v1h-3zM1185,387h3v1h-3zM1191,387h3v1h-3zM1197,387h3v1h-3zM1203,387h3v1h-3zM1209,387h3v1h-3zM1215,387h3v1h-3zM1221,387h3v1h-3zM1227,387h3v1h-3zM1233,387h3v1h-3zM1239,387h3v1h-3zM1245,387h3v1h-3zM1251,387h3v1h-3zM1257,387h3v1h-3zM1263,387h3v1h-3zM1269,387h3v1h-3zM1275,387h3v1h-3zM1281,387h3v1h-3zM1287,387h3v1h-3zM1293,387h3v1h-3zM1299,387h3v1h-3zM1305,387h3v1h-3zM1311,387h3v1h-3zM1317,387h3v1h-3zM1323,387h3v1h-3zM1329,387h3v1h-3zM1335,387h3v1h-3zM1341,387h3v1h-3zM1347,387h3v1h-3zM1353,387h3v1h-3zM1359,387h3v1h-3zM1365,387h3v1h-3zM1371,387h3v1h-3zM1377,387h3v1h-3zM1383,387h3v1h-3zM1389,387h3v1h-3zM1395,387h3v1h-3zM1401,387h3v1h-3zM1407,387h3v1h-3zM1413,387h3v1h-3zM1419,387h3v1h-3zM1425,387h3v1h-3zM1431,387h3v1h-3zM1437,387h3v1h-3zM1443,387h3v1h-3zM1449,387h3v1h-3zM1455,387h3v1h-3zM1461,387h3v1h-3zM1467,387h3v1h-3zM1473,387h3v1h-3zM1479,387h3v1h-3zM1485,387h3v1h-3zM1491,387h3v1h-3zM1497,387h3v1h-3zM1503,387h3v1h-3zM1509,387h3v1h-3zM1515,387h3v1h-3zM1521,387h3v1h-3zM1527,387h3v1h-3zM1533,387h3v1h-3zM1539,387h3v1h-3zM1545,387h3v1h-3zM1551,387h3v1h-3zM1557,387h3v1h-3zM1563,387h3v1h-3zM1569,387h3v1h-3zM1575,387h3v1h-3zM1581,387h3v1h-3zM1587,387h3v1h-3zM1593,387h3v1h-3zM1599,387h3v1h-3zM1605,387h3v1h-3zM1611,387h3v1h-3zM1617,387h3v1h-3zM1623,387h3v1h-3zM1629,387h3v1h-3zM1635,387h3v1h-3zM1641,387h3v1h-3zM1647,387h3v1h-3zM1653,387h3v1h-3zM1659,387h3v1h-3zM1665,387h3v1h-3zM1671,387h3v1h-3zM1677,387h3v1h-3zM1683,387h3v1h-3zM1689,387h3v1h-3zM1695,387h3v1h-3zM1701,387h3v1h-3zM1707,387h3v1h-3zM1713,387h3v1h-3zM1719,387h3v1h-3zM1725,387h3v1h-3zM1731,387h3v1h-3zM1737,387h3v1h-3zM1743,387h3v1h-3zM1749,387h3v1h-3zM1755,387h3v1h-3zM1761,387h3v1h-3zM1767,387h3v1h-3zM1773,387h3v1h-3zM1779,387h3v1h-3zM1785,387h3v1h-3zM1791,387h3v1h-3zM1797,387h3v1h-3zM1803,387h3v1h-3zM1809,387h3v1h-3zM1815,387h3v1h-3zM1821,387h3v1h-3zM1827,387h3v1h-3z"/>
<path fill="#FF0000" d="M3,470h3v1h-3zM9,470h3v1h-3zM15,470h3v1h-3zM21,470h3v1h-3zM27,470h3v1h-3zM33,470h3v1h-3zM39,470h3v1h-3zM45,470h3v1h-3zM51,470h3v1h-3zM57,470h3v1h-3zM63,470h3v1h-3zM69,470h3v1h-3zM75,470h3v1h-3zM81,470h3v1h-3zM87,470h3v1h-3zM93,470h3v1h-3zM99,470h3v1h-3zM105,470h3v1h-3zM111,470h3v1h-3zM117,470h3v1h-3zM123,470h3v1h-3zM129,470h3v1h-3zM135,470h3v1h-3zM141,470h3v1h-3zM147,470h3v1h-3zM153,470h3v1h-3zM159,470h3v1h-3zM165,470h3v1h-3zM171,470h3v1h-3zM177,470h3v1h-3zM183,470h3v1h-3zM189,470h3v1h-3zM195,470h3v1h-3zM201,470h3v1h-3zM207,470h3v1h-3zM213,470h3v1h-3zM219,470h3v1h-3zM225,470h3v1h-3zM231,470h3v1h-3zM237,470h3v1h-3zM243,470h3v1h-3zM249,470h3v1h-3zM255,470h3v1h-3zM261,470h3v1h-3zM267,470h3v1h-3zM273,470h3v1h-3zM279,470h3v1h-3zM285,470h3v1h-3zM291,470h3v1h-3zM297,470h3v1h-3zM303,470h3v1h-3zM309,470h3v1h-3zM315,470h3v1h-3zM321,470h3v1h-3zM327,470h3v1h-3zM333,470h3v1h-3zM339,470h3v1h-3zM345,470h3v1h-3zM351,470h3v1h-3zM357,470h3v1h-3zM363,470h3v1h-3zM369,470h3v1h-3zM375,470h3v1h-3zM381,470h3v1h-3zM387,470h3v1h-3zM393,470h3v1h-3zM399,470h3v1h-3zM405,470h3v1h-3zM411,470h3v1h-3zM417,470h3v1h-3zM423,470h3v1h-3zM429,470h3v1h-3zM435,470h3v1h-3zM441,470h3v1h-3zM447,470h3v1h-3zM453,470h3v1h-3zM459,470h3v1h-3zM465,470h3v1h-3zM471,470h3v1h-3zM477,470h3v1h-3zM483,470h3v1h-3zM489,470h3v1h-3zM495,470h3v1h-3zM501,470h3v1h-3zM507,470h3v1h-3zM513,470h3v1h-3zM519,470h3v1h-3zM525,470h3v1h-3zM531,470h3v1h-3zM537,470h3v1h-3zM543,470h3v1h-3zM549,470h3v1h-3zM555,470h3v1h-3zM561,470h3v1h-3zM567,470h3v1h-3zM573,470h3v1h-3zM579,470h3v1h-3zM585,470h3v1h-3zM591,470h3v1h-3zM597,470h3v1h-3zM603,470h3v1h-3zM609,470h3v1h-3zM615,470h3v1h-3zM621,470h3v1h-3zM627,470h3v1h-3zM633,470h3v1h-3zM639,470h3v1h-3zM645,470h3v1h-3zM651,470h3v1h-3zM657,470h3v1h-3zM663,470h3v1h-3zM669,470h3v1h-3zM675,470h3v1h-3zM681,470h3v1h-3zM687,470h3v1h-3zM693,470h3v1h-3zM699,470h3v1h-3zM705,470h3v1h-3zM711,470h3v1h-3zM717,470h3v1h-3zM723,470h3v1h-3zM729,470h3v1h-3zM735,470h3v1h-3zM741,470h3v1h-3zM747,470h3v1h-3zM753,470h3v1h-3zM759,470h3v1h-3zM765,470h3v1h-3zM771,470h3v1h-3zM777,470h3v1h-3zM783,470h3v1h-3zM789,470h3v1h-3zM795,470h3v1h-3zM801,470h3v1h-3zM807,470h3v1h-3zM813,470h3v1h-3zM819,470h3v1h-3zM825,470h3v1h-3zM831,470h3v1h-3zM837,470h3v1h-3zM843,470h3v1h-3zM849,470h3v1h-3zM855,470h3v1h-3zM861,470h3v1h-3zM867,470h3v1h-3zM873,470h3v1h-3zM879,470h3v1h-3zM885,470h3v1h-3zM891,470h3v1h-3zM897,470h3v1h-3zM903,470h3v1h-3zM909,470h3v1h-3zM915,470h3v1h-3zM921,470h3v1h-3zM927,470h3v1h-3zM933,470h3v1h-3zM939,470h3v1h-3zM945,470h3v1h-3zM951,470h3v1h-3zM957,470h3v1h-3zM963,470h3v1h-3zM969,470h3v1h-3zM975,470h3v1h-3zM981,470h3v1h-3zM987,470h3v1h-3zM993,470h3v1h-3zM999,470h3v1h-3zM1005,470h3v1h-3zM1011,470h3v1h-3zM1017,470h3v1h-3zM1023,470h3v1h-3zM1029,470h3v1h-3zM1035,470h3v1h-3zM1041,470h3v1h-3zM1047,470h3v1h-3zM1053,470h3v1h-3zM1059,470h3v1h-3zM1065,470h3v1h-3zM1071,470h3v1h-3zM1077,470h3v1h-3zM1083,470h3v1h-3zM1089,470h3v1h-3zM1095,470h3v1h-3zM1101,470h3v1h-3zM1107,470h3v1h-3zM1113,470h3v1h-3zM1119,470h3v1h-3zM1125,470h3v1h-3zM1131,470h3v1h-3zM1137,470h3v1h-3zM1143,470h3v1h-3zM1149,470h3v1h-3zM1155,470h3v1h-3zM1161,470h3v1h-3zM1167,470h3v1h-3zM1173,470h3v1h-3zM1179,470h3v1h-3zM1185,470h3v1h-3zM1191,470h3v1h-3zM1197,470h3v1h-3zM1203,470h3v1h-3zM1209,470h3v1h-3zM1215,470h3v1h-3zM1221,470h3v1h-3zM1227,470h3v1h-3zM1233,470h3v1h-3zM1239,470h3v1h-3zM1245,470h3v1h-3zM1251,470h3v1h-3zM1257,470h3v1h-3zM1263,470h3v1h-3zM1269,470h3v1h-3zM1275,470h3v1h-3zM1281,470h3v1h-3zM1287,470h3v1h-3zM1293,470h3v1h-3zM1299,470h3v1h-3zM1305,470h3v1h-3zM1311,470h3v1h-3zM1317,470h3v1h-3zM1323,470h3v1h-3zM1329,470h3v1h-3zM1335,470h3v1h-3zM1341,470h3v1h-3zM1347,470h3v1h-3zM1353,470h3v1h-3zM1359,470h3v1h-3zM1365,470h3v1h-3zM1371,470h3v1h-3zM1377,470h3v1h-3zM1383,470h3v1h-3zM1389,470h3v1h-3zM1395,470h3v1h-3zM1401,470h3v1h-3zM1407,470h3v1h-3zM1413,470h3v1h-3zM1419,470h3v1h-3zM1425,470h3v1h-3zM1431,470h3v1h-3zM1437,470h3v1h-3zM1443,470h3v1h-3zM1449,470h3v1h-3zM1455,470h3v1h-3zM1461,470h3v1h-3zM1467,470h3v1h-3zM1473,470h3v1h-3zM1479,470h3v1h-3zM1485,470h3v1h-3zM1491,470h3v1h-3zM1497,470h3v1h-3zM1503,470h3v1h-3zM1509,470h3v1h-3zM1515,470h3v1h-3zM1521,470h3v1h-3zM1527,470h3v1h-3zM1533,470h3v1h-3zM1539,470h3v1h-3zM1545,470h3v1h-3zM1551,470h3v1h-3zM1557,470h3v1h-3zM1563,470h3v1h-3zM1569,470h3v1h-3zM1575,470h3v1h-3zM1581,470h3v1h-3zM1587,470h3v1h-3zM1593,470h3v1h-3zM1599,470h3v1h-3zM1605,470h3v1h-3zM1611,470h3v1h-3zM1617,470h3v1h-3zM1623,470h3v1h-3zM1629,470h3v1h-3zM1635,470h3v1h-3zM1641,470h3v1h-3zM1647,470h3v1h-3zM1653,470h3v1h-3zM1659,470h3v1h-3zM1665,470h3v1h-3zM1671,470h3v1h-3zM1677,470h3v1h-3zM1683,470h3v1h-3zM1689,470h3v1h-3zM1695,470h3v1h-3zM1701,470h3v1h-3zM1707,470h3v1h-3zM1713,470h3v1h-3zM1719,470h3v1h-3zM1725,470h3v1h-3zM1731,470h3v1h-3zM1737,470h3v1h-3zM1743,470h3v1h-3zM1749,470h3v1h-3zM1755,470h3v1h-3zM1761,470h3v1h-3zM1767,470h3v1h-3zM1773,470h3v1h-3zM1779,470h3v1h-3zM1785,470h3v1h-3zM1791,470h3v1h-3zM1797,470h3v1h-3zM1803,470h3v1h-3zM1809,470h3v1h-3zM1815,470h3v1h-3zM1821,470h3v1h-3zM1827,470h3v1h-3z"/>
<path fill="#FF0000" d="M3,642h3v1h-3zM9,642h3v1h-3zM15,642h3v1h-3zM21,642h3v1h-3zM27,642h3v1h-3zM33,642h3v1h-3zM39,642h3v1h-3zM45,642h3v1h-3zM51,642h3v1h-3zM57,642h3v1h-3zM63,642h3v1h-3zM69,642h3v1h-3zM75,642h3v1h-3zM81,642h3v1h-3zM87,642h3v1h-3zM93,642h3v1h-3zM99,642h3v1h-3zM105,642h3v1h-3zM111,642h3v1h-3zM117,642h3v1h-3zM123,642h3v1h-3zM129,642h3v1h-3zM135,642h3v1h-3zM141,642h3v1h-3zM147,642h3v1h-3zM153,642h3v1h-3zM159,642h3v1h-3zM165,642h3v1h-3zM171,642h3v1h-3zM177,642h3v1h-3zM183,642h3v1h-3zM189,642h3v1h-3zM195,642h3v1h-3zM201,642h3v1h-3zM207,642h3v1h-3zM213,642h3v1h-3zM219,642h3v1h-3zM225,642h3v1h-3zM231,642h3v1h-3zM237,642h3v1h-3zM243,642h3v1h-3zM249,642h3v1h-3zM255,642h3v1h-3zM261,642h3v1h-3zM267,642h3v1h-3zM273,642h3v1h-3zM279,642h3v1h-3zM285,642h3v1h-3zM291,642h3v1h-3zM297,642h3v1h-3zM303,642h3v1h-3zM309,642h3v1h-3zM315,642h3v1h-3zM321,642h3v1h-3zM327,642h3v1h-3zM333,642h3v1h-3zM339,642h3v1h-3zM345,642h3v1h-3zM351,642h3v1h-3zM357,642h3v1h-3zM363,642h3v1h-3zM369,642h3v1h-3zM375,642h3v1h-3zM381,642h3v1h-3zM387,642h3v1h-3zM393,642h3v1h-3zM399,642h3v1h-3zM405,642h3v1h-3zM411,642h3v1h-3zM417,642h3v1h-3zM423,642h3v1h-3zM429,642h3v1h-3zM435,642h3v1h-3zM441,642h3v1h-3zM447,642h3v1h-3zM453,642h3v1h-3zM459,642h3v1h-3zM465,642h3v1h-3zM471,642h3v1h-3zM477,642h3v1h-3zM483,642h3v1h-3zM489,642h3v1h-3zM495,642h3v1h-3zM501,642h3v1h-3zM507,642h3v1h-3zM513,642h3v1h-3zM519,642h3v1h-3zM525,642h3v1h-3zM531,642h3v1h-3zM537,642h3v1h-3zM543,642h3v1h-3zM549,642h3v1h-3zM555,642h3v1h-3zM561,642h3v1h-3zM567,642h3v1h-3zM573,642h3v1h-3zM579,642h3v1h-3zM585,642h3v1h-3zM591,642h3v1h-3zM597,642h3v1h-3zM603,642h3v1h-3zM609,642h3v1h-3zM615,642h3v1h-3zM621,642h3v1h-3zM627,642h3v1h-3zM633,642h3v1h-3zM639,642h3v1h-3zM645,642h3v1h-3zM651,642h3v1h-3zM657,642h3v1h-3zM663,642h3v1h-3zM669,642h3v1h-3zM675,642h3v1h-3zM681,642h3v1h-3zM687,642h3v1h-3zM693,642h3v1h-3zM699,642h3v1h-3zM705,642h3v1h-3zM711,642h3v1h-3zM717,642h3v1h-3zM723,642h3v1h-3zM729,642h3v1h-3zM735,642h3v1h-3zM741,642h3v1h-3zM747,642h3v1h-3zM753,642h3v1h-3zM759,642h3v1h-3zM765,642h3v1h-3zM771,642h3v1h-3zM777,642h3v1h-3zM783,642h3v1h-3zM789,642h3v1h-3zM795,642h3v1h-3zM801,642h3v1h-3zM807,642h3v1h-3zM813,642h3v1h-3zM819,642h3v1h-3zM825,642h3v1h-3zM831,642h3v1h-3zM837,642h3v1h-3zM843,642h3v1h-3zM849,642h3v1h-3zM855,642h3v1h-3zM861,642h3v1h-3zM867,642h3v1h-3zM873,642h3v1h-3zM879,642h3v1h-3zM885,642h3v1h-3zM891,642h3v1h-3zM897,642h3v1h-3zM903,642h3v1h-3zM909,642h3v1h-3zM915,642h3v1h-3zM921,642h3v1h-3zM927,642h3v1h-3zM933,642h3v1h-3zM939,642h3v1h-3zM945,642h3v1h-3zM951,642h3v1h-3zM957,642h3v1h-3zM963,642h3v1h-3zM969,642h3v1h-3zM975,642h3v1h-3zM981,642h3v1h-3zM987,642h3v1h-3zM993,642h3v1h-3zM999,642h3v1h-3zM1005,642h3v1h-3zM1011,642h3v1h-3zM1017,642h3v1h-3zM1023,642h3v1h-3zM1029,642h3v1h-3zM1035,642h3v1h-3zM1041,642h3v1h-3zM1047,642h3v1h-3zM1053,642h3v1h-3zM1059,642h3v1h-3zM1065,642h3v1h-3zM1071,642h3v1h-3zM1077,642h3v1h-3zM1083,642h3v1h-3zM1089,642h3v1h-3zM1095,642h3v1h-3zM1101,642h3v1h-3zM1107,642h3v1h-3zM1113,642h3v1h-3zM1119,642h3v1h-3zM1125,642h3v1h-3zM1131,642h3v1h-3zM1137,642h3v1h-3zM1143,642h3v1h-3zM1149,642h3v1h-3zM1155,642h3v1h-3zM1161,642h3v1h-3zM1167,642h3v1h-3zM1173,642h3v1h-3zM1179,642h3v1h-3zM1185,642h3v1h-3zM1191,642h3v1h-3zM1197,642h3v1h-3zM1203,642h3v1h-3zM1209,642h3v1h-3zM1215,642h3v1h-3zM1221,642h3v1h-3zM1227,642h3v1h-3zM1233,642h3v1h-3zM1239,642h3v1h-3zM1245,642h3v1h-3zM1251,642h3v1h-3zM1257,642h3v1h-3zM1263,642h3v1h-3zM1269,642h3v1h-3zM1275,642h3v1h-3zM1281,642h3v1h-3zM1287,642h3v1h-3zM1293,642h3v1h-3zM1299,642h3v1h-3zM1305,642h3v1h-3zM1311,642h3v1h-3zM1317,642h3v1h-3zM1323,642h3v1h-3zM1329,642h3v1h-3zM1335,642h3v1h-3zM1341,642h3v1h-3zM1347,642h3v1h-3zM1353,642h3v1h-3zM1359,642h3v1h-3zM1365,642h3v1h-3zM1371,642h3v1h-3zM1377,642h3v1h-3zM1383,642h3v1h-3zM1389,642h3v1h-3zM1395,642h3v1h-3zM1401,642h3v1h-3zM1407,642h3v1h-3zM1413,642h3v1h-3zM1419,642h3v1h-3zM1425,642h3v1h-3zM1431,642h3v1h-3zM1437,642h3v1h-3zM1443,642h3v1h-3zM1449,642h3v1h-3zM1455,642h3v1h-3zM1461,642h3v1h-3zM1467,642h3v1h-3zM1473,642h3v1h-3zM1479,642h3v1h-3zM1485,642h3v1h-3zM1491,642h3v1h-3zM1497,642h3v1h-3zM1503,642h3v1h-3zM1509,642h3v1h-3zM1515,642h3v1h-3zM1521,642h3v1h-3zM1527,642h3v1h-3zM1533,642h3v1h-3zM1539,642h3v1h-3zM1545,642h3v1h-3zM1551,642h3v1h-3zM1557,642h3v1h-3zM1563,642h3v1h-3zM1569,642h3v1h-3zM1575,642h3v1h-3zM1581,642h3v1h-3zM1587,642h3v1h-3zM1593,642h3v1h-3zM1599,642h3v1h-3zM1605,642h3v1h-3zM1611,642h3v1h-3zM1617,642h3v1h-3zM1623,642h3v1h-3zM1629,642h3v1h-3zM1635,642h3v1h-3zM1641,642h3v1h-3zM1647,642h3v1h-3zM1653,642h3v1h-3zM1659,642h3v1h-3zM1665,642h3v1h-3zM1671,642h3v1h-3zM1677,642h3v1h-3zM1683,642h3v1h-3zM1689,642h3v1h-3zM1695,642h3v1h-3zM1701,642h3v1h-3zM1707,642h3v1h-3zM1713,642h3v1h-3zM1719,642h3v1h-3zM1725,642h3v1h-3zM1731,642h3v1h-3zM1737,642h3v1h-3zM1743,642h3v1h-3zM1749,642h3v1h-3zM1755,642h3v1h-3zM1761,642h3v1h-3zM1767,642h3v1h-3zM1773,642h3v1h-3zM1779,642h3v1h-3zM1785,642h3v1h-3zM1791,642h3v1h-3zM1797,642h3v1h-3zM1803,642h3v1h-3zM1809,642h3v1h-3zM1815,642h3v1h-3zM1821,642h3v1h-3zM1827,642h3v1h-3z"/>
<path fill="#FF0000" d="M3,696h3v1h-3zM9,696h3v1h-3zM15,696h3v1h-3zM21,696h3v1h-3zM27,696h3v1h-3zM33,696h3v1h-3zM39,696h3v1h-3zM45,696h3v1h-3zM51,696h3v1h-3zM57,696h3v1h-3zM63,696h3v1h-3zM69,696h3v1h-3zM75,696h3v1h-3zM81,696h3v1h-3zM87,696h3v1h-3zM93,696h3v1h-3zM99,696h3v1h-3zM105,696h3v1h-3zM111,696h3v1h-3zM117,696h3v1h-3zM123,696h3v1h-3zM129,696h3v1h-3zM135,696h3v1h-3zM141,696h3v1h-3zM147,696h3v1h-3zM153,696h3v1h-3zM159,696h3v1h-3zM165,696h3v1h-3zM171,696h3v1h-3zM177,696h3v1h-3zM183,696h3v1h-3zM189,696h3v1h-3zM195,696h3v1h-3zM201,696h3v1h-3zM207,696h3v1h-3zM213,696h3v1h-3zM219,696h3v1h-3zM225,696h3v1h-3zM231,696h3v1h-3zM237,696h3v1h-3zM243,696h3v1h-3zM249,696h3v1h-3zM255,696h3v1h-3zM261,696h3v1h-3zM267,696h3v1h-3zM273,696h3v1h-3zM279,696h3v1h-3zM285,696h3v1h-3zM291,696h3v1h-3zM297,696h3v1h-3zM303,696h3v1h-3zM309,696h3v1h-3zM315,696h3v1h-3zM321,696h3v1h-3zM327,696h3v1h-3zM333,696h3v1h-3zM339,696h3v1h-3zM345,696h3v1h-3zM351,696h3v1h-3zM357,696h3v1h-3zM363,696h3v1h-3zM369,696h3v1h-3zM375,696h3v1h-3zM381,696h3v1h-3zM387,696h3v1h-3zM393,696h3v1h-3zM399,696h3v1h-3zM405,696h3v1h-3zM411,696h3v1h-3zM417,696h3v1h-3zM423,696h3v1h-3zM429,696h3v1h-3zM435,696h3v1h-3zM441,696h3v1h-3zM447,696h3v1h-3zM453,696h3v1h-3zM459,696h3v1h-3zM465,696h3v1h-3zM471,696h3v1h-3zM477,696h3v1h-3zM483,696h3v1h-3zM489,696h3v1h-3zM495,696h3v1h-3zM501,696h3v1h-3zM507,696h3v1h-3zM513,696h3v1h-3zM519,696h3v1h-3zM525,696h3v1h-3zM531,696h3v1h-3zM537,696h3v1h-3zM543,696h3v1h-3zM549,696h3v1h-3zM555,696h3v1h-3zM561,696h3v1h-3zM567,696h3v1h-3zM573,696h3v1h-3zM579,696h3v1h-3zM585,696h3v1h-3zM591,696h3v1h-3zM597,696h3v1h-3zM603,696h3v1h-3zM609,696h3v1h-3zM615,696h3v1h-3zM621,696h3v1h-3zM627,696h3v1h-3zM633,696h3v1h-3zM639,696h3v1h-3zM645,696h3v1h-3zM651,696h3v1h-3zM657,696h3v1h-3zM663,696h3v1h-3zM669,696h3v1h-3zM675,696h3v1h-3zM681,696h3v1h-3zM687,696h3v1h-3zM693,696h3v1h-3zM699,696h3v1h-3zM705,696h3v1h-3zM711,696h3v1h-3zM717,696h3v1h-3zM723,696h3v1h-3zM729,696h3v1h-3zM735,696h3v1h-3zM741,696h3v1h-3zM747,696h3v1h-3zM753,696h3v1h-3zM759,696h3v1h-3zM765,696h3v1h-3zM771,696h3v1h-3zM777,696h3v1h-3zM783,696h3v1h-3zM789,696h3v1h-3zM795,696h3v1h-3zM801,696h3v1h-3zM807,696h3v1h-3zM813,696h3v1h-3zM819,696h3v1h-3zM825,696h3v1h-3zM831,696h3v1h-3zM837,696h3v1h-3zM843,696h3v1h-3zM849,696h3v1h-3zM855,696h3v1h-3zM861,696h3v1h-3zM867,696h3v1h-3zM873,696h3v1h-3zM879,696h3v1h-3zM885,696h3v1h-3zM891,696h3v1h-3zM897,696h3v1h-3zM903,696h3v1h-3zM909,696h3v1h-3zM915,696h3v1h-3zM921,696h3v1h-3zM927,696h3v1h-3zM933,696h3v1h-3zM939,696h3v1h-3zM945,696h3v1h-3zM951,696h3v1h-3zM957,696h3v1h-3zM963,696h3v1h-3zM969,696h3v1h-3zM975,696h3v1h-3zM981,696h3v1h-3zM987,696h3v1h-3zM993,696h3v1h-3zM999,696h3v1h-3zM1005,696h3v1h-3zM1011,696h3v1h-3zM1017,696h3v1h-3zM1023,696h3v1h-3zM1029,696h3v1h-3zM1035,696h3v1h-3zM1041,696h3v1h-3zM1047,696h3v1h-3zM1053,696h3v1h-3zM1059,696h3v1h-3zM1065,696h3v1h-3zM1071,696h3v1h-3zM1077,696h3v1h-3zM1083,696h3v1h-3zM1089,696h3v1h-3zM1095,696h3v1h-3zM1101,696h3v1h-3zM1107,696h3v1h-3zM1113,696h3v1h-3zM1119,696h3v1h-3zM1125,696h3v1h-3zM1131,696h3v1h-3zM1137,696h3v1h-3zM1143,696h3v1h-3zM1149,696h3v1h-3zM1155,696h3v1h-3zM1161,696h3v1h-3zM1167,696h3v1h-3zM1173,696h3v1h-3zM1179,696h3v1h-3zM1185,696h3v1h-3zM1191,696h3v1h-3zM1197,696h3v1h-3zM1203,696h3v1h-3zM1209,696h3v1h-3zM1215,696h3v1h-3zM1221,696h3v1h-3zM1227,696h3v1h-3zM1233,696h3v1h-3zM1239,696h3v1h-3zM1245,696h3v1h-3zM1251,696h3v1h-3zM1257,696h3v1h-3zM1263,696h3v1h-3zM1269,696h3v1h-3zM1275,696h3v1h-3zM1281,696h3v1h-3zM1287,696h3v1h-3zM1293,696h3v1h-3zM1299,696h3v1h-3zM1305,696h3v1h-3zM1311,696h3v1h-3zM1317,696h3v1h-3zM1323,696h3v1h-3zM1329,696h3v1h-3zM1335,696h3v1h-3zM1341,696h3v1h-3zM1347,696h3v1h-3zM1353,696h3v1h-3zM1359,696h3v1h-3zM1365,696h3v1h-3zM1371,696h3v1h-3zM1377,696h3v1h-3zM1383,696h3v1h-3zM1389,696h3v1h-3zM1395,696h3v1h-3zM1401,696h3v1h-3zM1407,696h3v1h-3zM1413,696h3v1h-3zM1419,696h3v1h-3zM1425,696h3v1h-3zM1431,696h3v1h-3zM1437,696h3v1h-3zM1443,696h3v1h-3zM1449,696h3v1h-3zM1455,696h3v1h-3zM1461,696h3v1h-3zM1467,696h3v1h-3zM1473,696h3v1h-3zM1479,696h3v1h-3zM1485,696h3v1h-3zM1491,696h3v1h-3zM1497,696h3v1h-3zM1503,696h3v1h-3zM1509,696h3v1h-3zM1515,696h3v1h-3zM1521,696h3v1h-3zM1527,696h3v1h-3zM1533,696h3v1h-3zM1539,696h3v1h-3zM1545,696h3v1h-3zM1551,696h3v1h-3zM1557,696h3v1h-3zM1563,696h3v1h-3zM1569,696h3v1h-3zM1575,696h3v1h-3zM1581,696h3v1h-3zM1587,696h3v1h-3zM1593,696h3v1h-3zM1599,696h3v1h-3zM1605,696h3v1h-3zM1611,696h3v1h-3zM1617,696h3v1h-3zM1623,696h3v1h-3zM1629,696h3v1h-3zM1635,696h3v1h-3zM1641,696h3v1h-3zM1647,696h3v1h-3zM1653,696h3v1h-3zM1659,696h3v1h-3zM1665,696h3v1h-3zM1671,696h3v1h-3zM1677,696h3v1h-3zM1683,696h3v1h-3zM1689,696h3v1h-3zM1695,696h3v1h-3zM1701,696h3v1h-3zM1707,696h3v1h-3zM1713,696h3v1h-3zM1719,696h3v1h-3zM1725,696h3v1h-3zM1731,696h3v1h-3zM1737,696h3v1h-3zM1743,696h3v1h-3zM1749,696h3v1h-3zM1755,696h3v1h-3zM1761,696h3v1h-3zM1767,696h3v1h-3zM1773,696h3v1h-3zM1779,696h3v1h-3zM1785,696h3v1h-3zM1791,696h3v1h-3zM1797,696h3v1h-3zM1803,696h3v1h-3zM1809,696h3v1h-3zM1815,696h3v1h-3zM1821,696h3v1h-3zM1827,696h3v1h-3z"/>
<path fill="#FF0000" d="M1829,468h3v1h-3zM1827,470h1v3h-1zM1831,470h1v3h-1z"/>
<path fill="#FF0000" d="M5,468h3v1h-3zM7,470h1v3h-1zM3,470h1v3h-1z"/>
<path fill="#FF0000" d="M1829,694h3v1h-3zM1831,696h1v3h-1zM1827,696h1v3h-1z"/>
<path fill="#FF0000" d="M5,694h3v1h-3zM7,696h1v3h-1zM3,696h1v3h-1z"/>
<path fill="#0000FF" d="M657,84h2v1h-2zM662,84h3v1h-3zM782,71h3v1h-3zM788,71h2v1h-2zM506,100h3v1h-3zM512,100h2v1h-2zM632,87h3v1h-3zM752,74h3v1h-3zM758,74h3v1h-3zM878,61h3v1h-3zM86,144h3v1h-3zM92,144h2v1h-2zM212,131h3v1h-3zM1412,5h3v1h-3zM56,147h3v1h-3zM62,147h3v1h-3zM182,134h3v1h-3zM308,121h3v1h-3zM428,108h3v1h-3zM434,108h3v1h-3zM554,95h3v1h-3zM992,49h3v1h-3zM998,49h2v1h-2zM962,52h3v1h-3zM968,52h3v1h-3zM1088,39h3v1h-3zM1209,26h2v1h-2zM1214,26h3v1h-3zM1334,13h3v1h-3zM1340,13h3v1h-3zM590,91h3v1h-3zM596,91h3v1h-3zM1058,42h3v1h-3zM1064,42h2v1h-2zM1184,29h3v1h-3zM50,148h3v1h-3zM1305,16h2v1h-2zM1310,16h3v1h-3zM638,86h3v1h-3zM644,86h3v1h-3zM1376,9h3v1h-3zM20,151h3v1h-3zM704,79h3v1h-3zM710,79h3v1h-3zM734,76h3v1h-3zM740,76h2v1h-2zM860,63h3v1h-3zM981,50h2v1h-2zM986,50h3v1h-3zM800,69h3v1h-3zM806,69h3v1h-3zM1047,43h2v1h-2zM1052,43h3v1h-3zM260,126h3v1h-3zM380,113h3v1h-3zM386,113h3v1h-3zM351,116h2v1h-2zM356,116h3v1h-3zM476,103h3v1h-3zM482,103h3v1h-3zM447,106h2v1h-2zM452,106h3v1h-3zM572,93h3v1h-3zM578,93h2v1h-2zM1257,21h2v1h-2zM1262,21h3v1h-3zM1382,8h3v1h-3zM1388,8h3v1h-3zM27,150h2v1h-2zM32,150h3v1h-3zM152,137h3v1h-3zM158,137h3v1h-3zM764,73h3v1h-3zM1232,24h3v1h-3zM1352,11h3v1h-3zM1358,11h3v1h-3zM123,140h2v1h-2zM128,140h3v1h-3zM248,127h3v1h-3zM254,127h2v1h-2zM812,68h3v1h-3zM933,55h2v1h-2zM938,55h3v1h-3zM189,133h2v1h-2zM194,133h3v1h-3zM314,120h3v1h-3zM320,120h3v1h-3zM1028,45h3v1h-3zM1034,45h3v1h-3zM1154,32h3v1h-3zM1160,32h2v1h-2zM285,123h2v1h-2zM290,123h3v1h-3zM410,110h3v1h-3zM416,110h2v1h-2zM1070,41h3v1h-3zM1190,28h3v1h-3zM1196,28h3v1h-3zM1316,15h3v1h-3zM1322,15h2v1h-2zM524,98h3v1h-3zM530,98h3v1h-3zM1286,18h3v1h-3zM1292,18h3v1h-3zM746,75h3v1h-3zM866,62h3v1h-3zM872,62h3v1h-3zM75,145h2v1h-2zM80,145h3v1h-3zM296,122h3v1h-3zM302,122h2v1h-2zM422,109h3v1h-3zM584,92h3v1h-3zM8,152h3v1h-3zM14,152h3v1h-3zM134,139h3v1h-3zM140,139h2v1h-2zM230,129h3v1h-3zM885,60h2v1h-2zM890,60h3v1h-3zM1010,47h3v1h-3zM1016,47h3v1h-3zM1136,34h3v1h-3zM1220,25h3v1h-3zM1226,25h3v1h-3zM771,72h2v1h-2zM776,72h3v1h-3zM896,59h3v1h-3zM902,59h2v1h-2zM326,119h3v1h-3zM399,111h2v1h-2zM404,111h3v1h-3zM1280,19h3v1h-3zM609,89h2v1h-2zM614,89h3v1h-3zM1328,14h3v1h-3zM830,66h3v1h-3zM836,66h2v1h-2zM38,149h3v1h-3zM44,149h2v1h-2zM1040,44h3v1h-3zM620,88h3v1h-3zM626,88h2v1h-2zM542,96h3v1h-3zM548,96h3v1h-3zM3,153h2v1h-2zM716,78h3v1h-3zM98,143h3v1h-3zM908,58h3v1h-3zM266,125h3v1h-3zM272,125h3v1h-3zM1004,48h3v1h-3zM332,118h3v1h-3zM338,118h3v1h-3zM458,105h3v1h-3zM464,105h2v1h-2zM1124,35h3v1h-3zM1130,35h3v1h-3zM974,51h3v1h-3zM1095,38h2v1h-2zM1100,38h3v1h-3zM680,82h3v1h-3zM650,85h3v1h-3zM104,142h3v1h-3zM110,142h3v1h-3zM170,135h3v1h-3zM176,135h3v1h-3zM1430,3h3v1h-3zM200,132h3v1h-3zM206,132h2v1h-2zM146,138h3v1h-3zM1400,6h3v1h-3zM1406,6h3v1h-3zM1106,37h3v1h-3zM1112,37h2v1h-2zM926,56h3v1h-3zM1172,30h3v1h-3zM1178,30h3v1h-3zM1268,20h3v1h-3zM1274,20h2v1h-2zM602,90h3v1h-3zM723,77h2v1h-2zM728,77h3v1h-3zM848,64h3v1h-3zM854,64h3v1h-3zM698,80h3v1h-3zM819,67h2v1h-2zM824,67h3v1h-3zM944,54h3v1h-3zM950,54h2v1h-2zM278,124h3v1h-3zM914,57h3v1h-3zM920,57h3v1h-3zM374,114h3v1h-3zM494,101h3v1h-3zM500,101h3v1h-3zM1298,17h3v1h-3zM1419,4h2v1h-2zM1424,4h3v1h-3zM440,107h3v1h-3zM561,94h2v1h-2zM566,94h3v1h-3zM686,81h3v1h-3zM692,81h3v1h-3zM1346,12h3v1h-3zM116,141h3v1h-3zM237,128h2v1h-2zM242,128h3v1h-3zM362,115h3v1h-3zM368,115h3v1h-3zM1022,46h3v1h-3zM1143,33h2v1h-2zM1148,33h3v1h-3zM1118,36h3v1h-3zM1238,23h3v1h-3zM1244,23h3v1h-3zM1364,10h3v1h-3zM1370,10h2v1h-2zM668,83h3v1h-3zM674,83h2v1h-2zM794,70h3v1h-3zM68,146h3v1h-3zM164,136h3v1h-3zM1166,31h3v1h-3zM842,65h3v1h-3zM218,130h3v1h-3zM224,130h3v1h-3zM392,112h3v1h-3zM1394,7h3v1h-3zM488,102h3v1h-3zM956,53h3v1h-3zM1076,40h3v1h-3zM1082,40h3v1h-3zM344,117h3v1h-3zM536,97h3v1h-3zM518,99h3v1h-3zM1250,22h3v1h-3zM1202,27h3v1h-3zM470,104h3v1h-3zM904,58h1v1h-1zM446,107h1v1h-1zM742,75h1v1h-1zM142,138h1v1h-1zM608,90h1v1h-1zM884,61h1v1h-1zM256,126h1v1h-1zM580,92h1v1h-1zM1046,44h1v1h-1zM418,109h1v1h-1zM398,112h1v1h-1zM284,124h1v1h-1zM94,143h1v1h-1zM560,95h1v1h-1zM722,78h1v1h-1zM74,146h1v1h-1zM236,129h1v1h-1zM46,148h1v1h-1zM208,131h1v1h-1zM1372,9h1v1h-1zM26,151h1v1h-1zM188,134h1v1h-1zM350,117h1v1h-1zM304,121h1v1h-1zM1000,48h1v1h-1zM1162,31h1v1h-1zM1324,14h1v1h-1zM1304,17h1v1h-1zM1142,34h1v1h-1zM676,82h1v1h-1zM790,70h1v1h-1zM838,65h1v1h-1zM1114,36h1v1h-1zM980,51h1v1h-1zM932,56h1v1h-1zM818,68h1v1h-1zM1276,19h1v1h-1zM1256,22h1v1h-1zM628,87h1v1h-1zM514,99h1v1h-1zM1418,5h1v1h-1zM952,53h1v1h-1zM1066,41h1v1h-1zM656,85h1v1h-1zM770,73h1v1h-1zM1208,27h1v1h-1zM122,141h1v1h-1zM1094,39h1v1h-1zM466,104h1v1h-1z"/>
<path fill="#0000FF" d="M487,640h3v1h-3zM493,640h3v1h-3zM499,640h3v1h-3zM295,631h3v1h-3zM301,631h3v1h-3zM307,631h3v1h-3zM145,624h3v1h-3zM151,624h3v1h-3zM157,624h3v1h-3zM163,624h3v1h-3zM529,642h3v1h-3zM535,642h3v1h-3zM541,642h3v1h-3zM85,621h3v1h-3zM91,621h3v1h-3zM97,621h3v1h-3zM463,639h3v1h-3zM469,639h3v1h-3zM475,639h3v1h-3zM481,639h2v1h-2zM314,632h2v1h-2zM319,632h3v1h-3zM325,632h3v1h-3zM331,632h3v1h-3zM127,623h3v1h-3zM133,623h3v1h-3zM139,623h3v1h-3zM43,619h3v1h-3zM49,619h3v1h-3zM55,619h3v1h-3zM361,634h3v1h-3zM367,634h3v1h-3zM373,634h3v1h-3zM272,630h2v1h-2zM277,630h3v1h-3zM283,630h3v1h-3zM289,630h3v1h-3zM421,637h3v1h-3zM427,637h3v1h-3zM433,637h3v1h-3zM439,637h2v1h-2zM505,641h3v1h-3zM511,641h3v1h-3zM517,641h3v1h-3zM523,641h3v1h-3zM61,620h3v1h-3zM67,620h3v1h-3zM73,620h3v1h-3zM79,620h3v1h-3zM211,627h3v1h-3zM217,627h3v1h-3zM223,627h3v1h-3zM379,635h3v1h-3zM385,635h3v1h-3zM391,635h3v1h-3zM397,635h2v1h-2zM403,636h3v1h-3zM409,636h3v1h-3zM415,636h3v1h-3zM103,622h3v1h-3zM109,622h3v1h-3zM115,622h3v1h-3zM121,622h3v1h-3zM19,618h3v1h-3zM25,618h3v1h-3zM31,618h3v1h-3zM37,618h2v1h-2zM169,625h3v1h-3zM175,625h3v1h-3zM181,625h3v1h-3zM253,629h3v1h-3zM259,629h3v1h-3zM265,629h3v1h-3zM445,638h3v1h-3zM451,638h3v1h-3zM457,638h3v1h-3zM547,643h3v1h-3zM553,643h3v1h-3zM7,617h3v1h-3zM13,617h3v1h-3zM187,626h3v1h-3zM193,626h3v1h-3zM199,626h3v1h-3zM205,626h3v1h-3zM230,628h2v1h-2zM235,628h3v1h-3zM241,628h3v1h-3zM247,628h3v1h-3zM337,633h3v1h-3zM343,633h3v1h-3zM349,633h3v1h-3zM355,633h2v1h-2zM357,634h1v1h-1zM39,619h1v1h-1zM313,631h1v1h-1zM483,640h1v1h-1zM229,627h1v1h-1zM399,636h1v1h-1zM271,629h1v1h-1zM441,638h1v1h-1z"/>
<path fill="#0000FF" d="M38,261h2v1h-2zM533,595h2v1h-2zM552,608h2v1h-2zM506,577h2v1h-2zM253,406h2v1h-2zM59,275h2v1h-2zM272,419h2v1h-2zM466,550h2v1h-2zM19,248h2v1h-2zM164,346h2v1h-2zM186,361h2v1h-2zM462,547h2v1h-2zM481,560h2v1h-2zM422,520h2v1h-2zM441,533h2v1h-2zM589,633h2v1h-2zM395,502h2v1h-2zM142,331h2v1h-2zM355,475h2v1h-2zM161,344h2v1h-2zM115,313h2v1h-2zM75,286h2v1h-2zM570,620h2v1h-2zM376,489h2v1h-2zM592,635h2v1h-2zM398,504h2v1h-2zM524,589h2v1h-2zM330,458h2v1h-2zM484,562h2v1h-2zM290,431h2v1h-2zM96,300h2v1h-2zM309,444h2v1h-2zM312,446h2v1h-2zM118,315h2v1h-2zM78,288h2v1h-2zM204,373h2v1h-2zM10,242h2v1h-2zM29,255h2v1h-2zM567,618h2v1h-2zM373,487h2v1h-2zM586,631h2v1h-2zM499,572h2v1h-2zM32,257h2v1h-2zM287,429h2v1h-2zM93,298h2v1h-2zM306,442h2v1h-2zM53,271h2v1h-2zM179,356h2v1h-2zM201,371h2v1h-2zM7,240h2v1h-2zM26,253h2v1h-2zM502,574h2v1h-2zM416,516h2v1h-2zM222,385h2v1h-2zM435,529h2v1h-2zM182,358h2v1h-2zM389,498h2v1h-2zM136,327h2v1h-2zM349,471h2v1h-2zM155,340h2v1h-2zM410,512h2v1h-2zM69,282h2v1h-2zM413,514h2v1h-2zM432,527h2v1h-2zM539,599h2v1h-2zM558,612h2v1h-2zM364,481h2v1h-2zM324,454h2v1h-2zM518,585h2v1h-2zM346,469h2v1h-2zM152,338h2v1h-2zM112,311h2v1h-2zM44,265h2v1h-2zM66,280h2v1h-2zM561,614h2v1h-2zM521,587h2v1h-2zM327,456h2v1h-2zM493,568h2v1h-2zM453,541h2v1h-2zM259,410h2v1h-2zM475,556h2v1h-2zM281,425h2v1h-2zM241,398h2v1h-2zM47,267h2v1h-2zM536,597h2v1h-2zM195,367h2v1h-2zM450,539h2v1h-2zM256,408h2v1h-2zM469,552h2v1h-2zM216,381h2v1h-2zM22,250h2v1h-2zM472,554h2v1h-2zM238,396h2v1h-2zM170,350h2v1h-2zM189,363h2v1h-2zM130,323h2v1h-2zM579,626h2v1h-2zM598,639h2v1h-2zM426,523h2v1h-2zM367,483h2v1h-2zM173,352h2v1h-2zM386,496h2v1h-2zM192,365h2v1h-2zM299,437h2v1h-2zM512,581h2v1h-2zM318,450h2v1h-2zM84,292h2v1h-2zM573,622h2v1h-2zM87,294h2v1h-2zM106,307h2v1h-2zM576,624h2v1h-2zM382,493h2v1h-2zM595,637h2v1h-2zM342,466h2v1h-2zM361,479h2v1h-2zM293,433h2v1h-2zM487,564h2v1h-2zM509,579h2v1h-2zM315,448h2v1h-2zM62,277h2v1h-2zM275,421h2v1h-2zM81,290h2v1h-2zM229,390h2v1h-2zM35,259h2v1h-2zM490,566h2v1h-2zM444,535h2v1h-2zM404,508h2v1h-2zM210,377h2v1h-2zM232,392h2v1h-2zM358,477h2v1h-2zM124,319h2v1h-2zM527,591h2v1h-2zM419,518h2v1h-2zM401,506h2v1h-2zM207,375h2v1h-2zM333,460h2v1h-2zM139,329h2v1h-2zM352,473h2v1h-2zM99,302h2v1h-2zM121,317h2v1h-2zM530,593h2v1h-2zM336,462h2v1h-2zM549,606h2v1h-2zM296,435h2v1h-2zM102,304h2v1h-2zM250,404h2v1h-2zM56,273h2v1h-2zM269,417h2v1h-2zM16,246h2v1h-2zM546,604h2v1h-2zM459,545h2v1h-2zM478,558h2v1h-2zM244,400h2v1h-2zM438,531h2v1h-2zM247,402h2v1h-2zM266,415h2v1h-2zM72,284h2v1h-2zM13,244h2v1h-2zM198,369h2v1h-2zM158,342h2v1h-2zM456,543h2v1h-2zM582,628h2v1h-2zM370,485h2v1h-2zM564,616h2v1h-2zM262,412h2v1h-2zM392,500h2v1h-2zM284,427h2v1h-2zM90,296h2v1h-2zM50,269h2v1h-2zM4,238h2v1h-2zM219,383h2v1h-2zM133,325h2v1h-2zM496,570h2v1h-2zM302,439h2v1h-2zM515,583h2v1h-2zM407,510h2v1h-2zM601,641h2v1h-2zM429,525h2v1h-2zM235,394h2v1h-2zM176,354h2v1h-2zM127,321h2v1h-2zM149,336h2v1h-2zM109,309h2v1h-2zM278,423h2v1h-2zM339,464h2v1h-2zM555,610h2v1h-2zM321,452h2v1h-2zM447,537h2v1h-2zM213,379h2v1h-2zM41,263h2v1h-2zM379,491h2v1h-2zM167,348h2v1h-2zM226,388h2v1h-2zM542,601h2v1h-2zM146,334h2v1h-2zM541,600h1v1h-1zM501,573h1v1h-1zM581,627h1v1h-1zM452,540h1v1h-1zM532,594h1v1h-1zM548,605h1v1h-1zM489,565h1v1h-1zM508,578h1v1h-1zM455,542h1v1h-1zM535,596h1v1h-1zM341,465h1v1h-1zM421,519h1v1h-1zM554,609h1v1h-1zM440,532h1v1h-1zM360,478h1v1h-1zM301,438h1v1h-1zM261,411h1v1h-1zM474,555h1v1h-1zM126,320h1v1h-1zM206,374h1v1h-1zM221,384h1v1h-1zM141,330h1v1h-1zM172,351h1v1h-1zM520,586h1v1h-1zM286,428h1v1h-1zM129,322h1v1h-1zM209,376h1v1h-1zM15,245h1v1h-1zM228,389h1v1h-1zM148,335h1v1h-1zM255,407h1v1h-1zM468,551h1v1h-1zM274,420h1v1h-1zM80,289h1v1h-1zM160,343h1v1h-1zM175,353h1v1h-1zM21,249h1v1h-1zM388,497h1v1h-1zM40,262h1v1h-1zM120,316h1v1h-1zM194,366h1v1h-1zM154,339h1v1h-1zM74,285h1v1h-1zM9,241h1v1h-1zM28,254h1v1h-1zM108,308h1v1h-1zM24,251h1v1h-1zM181,357h1v1h-1zM588,632h1v1h-1zM338,463h1v1h-1zM357,476h1v1h-1zM258,409h1v1h-1zM277,422h1v1h-1zM498,571h1v1h-1zM578,625h1v1h-1zM544,602h1v1h-1zM600,640h1v1h-1zM406,509h1v1h-1zM486,563h1v1h-1zM566,617h1v1h-1zM425,522h1v1h-1zM560,613h1v1h-1zM366,482h1v1h-1zM446,536h1v1h-1zM526,590h1v1h-1zM332,459h1v1h-1zM252,405h1v1h-1zM492,567h1v1h-1zM298,436h1v1h-1zM378,490h1v1h-1zM511,580h1v1h-1zM412,513h1v1h-1zM218,382h1v1h-1zM431,526h1v1h-1zM64,278h1v1h-1zM144,332h1v1h-1zM224,386h1v1h-1zM95,299h1v1h-1zM354,474h1v1h-1zM434,528h1v1h-1zM514,582h1v1h-1zM320,451h1v1h-1zM400,505h1v1h-1zM480,559h1v1h-1zM114,312h1v1h-1zM240,397h1v1h-1zM280,424h1v1h-1zM86,293h1v1h-1zM166,347h1v1h-1zM246,401h1v1h-1zM185,360h1v1h-1zM52,270h1v1h-1zM265,414h1v1h-1zM18,247h1v1h-1zM200,370h1v1h-1zM6,239h1v1h-1zM385,495h1v1h-1zM326,455h1v1h-1zM132,324h1v1h-1zM345,468h1v1h-1zM151,337h1v1h-1zM188,362h1v1h-1zM234,393h1v1h-1zM34,258h1v1h-1zM572,621h1v1h-1zM458,544h1v1h-1zM264,413h1v1h-1zM477,557h1v1h-1zM591,634h1v1h-1zM504,575h1v1h-1zM418,517h1v1h-1zM584,629h1v1h-1zM603,642h1v1h-1zM523,588h1v1h-1zM464,548h1v1h-1zM424,521h1v1h-1zM384,494h1v1h-1zM289,430h1v1h-1zM369,484h1v1h-1zM304,440h1v1h-1zM449,538h1v1h-1zM465,549h1v1h-1zM545,603h1v1h-1zM212,378h1v1h-1zM292,432h1v1h-1zM372,486h1v1h-1zM178,355h1v1h-1zM391,499h1v1h-1zM197,368h1v1h-1zM585,630h1v1h-1zM98,301h1v1h-1zM138,328h1v1h-1zM311,445h1v1h-1zM505,576h1v1h-1zM58,274h1v1h-1zM77,287h1v1h-1zM243,399h1v1h-1zM184,359h1v1h-1zM203,372h1v1h-1zM89,295h1v1h-1zM104,305h1v1h-1zM123,318h1v1h-1zM538,598h1v1h-1zM43,264h1v1h-1zM557,611h1v1h-1zM46,266h1v1h-1zM65,279h1v1h-1zM12,243h1v1h-1zM92,297h1v1h-1zM305,441h1v1h-1zM111,310h1v1h-1zM225,387h1v1h-1zM31,256h1v1h-1zM145,333h1v1h-1zM191,364h1v1h-1zM71,283h1v1h-1zM37,260h1v1h-1zM25,252h1v1h-1zM375,488h1v1h-1zM394,501h1v1h-1zM551,607h1v1h-1zM471,553h1v1h-1zM569,619h1v1h-1zM529,592h1v1h-1zM335,461h1v1h-1zM415,515h1v1h-1zM495,569h1v1h-1zM575,623h1v1h-1zM381,492h1v1h-1zM461,546h1v1h-1zM594,636h1v1h-1zM231,391h1v1h-1zM437,530h1v1h-1zM517,584h1v1h-1zM323,453h1v1h-1zM597,638h1v1h-1zM483,561h1v1h-1zM563,615h1v1h-1zM403,507h1v1h-1zM283,426h1v1h-1zM363,480h1v1h-1zM443,534h1v1h-1zM249,403h1v1h-1zM329,457h1v1h-1zM409,511h1v1h-1zM215,380h1v1h-1zM428,524h1v1h-1zM135,326h1v1h-1zM348,470h1v1h-1zM55,272h1v1h-1zM268,416h1v1h-1zM308,443h1v1h-1zM295,434h1v1h-1zM101,303h1v1h-1zM314,447h1v1h-1zM61,276h1v1h-1zM271,418h1v1h-1zM351,472h1v1h-1zM157,341h1v1h-1zM237,395h1v1h-1zM317,449h1v1h-1zM397,503h1v1h-1zM117,314h1v1h-1zM3,237h1v1h-1zM83,291h1v1h-1zM163,345h1v1h-1zM49,268h1v1h-1zM68,281h1v1h-1zM105,306h1v1h-1zM344,467h1v1h-1zM169,349h1v1h-1z"/>
<path fill="#0000FF" d="M603,134h1v509h-1z"/>
<path fill="#0000FF" d="M1263,210h2v1h-2zM705,575h2v1h-2zM994,386h2v1h-2zM717,567h2v1h-2zM693,583h2v1h-2zM789,520h2v1h-2zM1335,163h2v1h-2zM604,641h2v1h-2zM910,441h2v1h-2zM1083,328h2v1h-2zM922,433h2v1h-2zM1095,320h2v1h-2zM1107,312h2v1h-2zM1216,241h2v1h-2zM1239,226h2v1h-2zM670,598h2v1h-2zM1011,375h2v1h-2zM1300,186h2v1h-2zM1312,178h2v1h-2zM754,543h2v1h-2zM1072,335h2v1h-2zM855,477h2v1h-2zM867,469h2v1h-2zM610,637h2v1h-2zM1228,233h2v1h-2zM939,422h2v1h-2zM615,634h2v1h-2zM951,414h2v1h-2zM1257,214h2v1h-2zM1245,222h2v1h-2zM1156,280h2v1h-2zM832,492h2v1h-2zM1378,135h2v1h-2zM1161,277h2v1h-2zM1173,269h2v1h-2zM904,445h2v1h-2zM916,437h2v1h-2zM699,579h2v1h-2zM1222,237h2v1h-2zM1005,379h2v1h-2zM1234,229h2v1h-2zM1017,371h2v1h-2zM1029,363h2v1h-2zM1294,190h2v1h-2zM760,539h2v1h-2zM1306,182h2v1h-2zM1089,324h2v1h-2zM1101,316h2v1h-2zM1323,171h2v1h-2zM873,465h2v1h-2zM676,594h2v1h-2zM849,481h2v1h-2zM688,586h2v1h-2zM861,473h2v1h-2zM1167,273h2v1h-2zM1179,265h2v1h-2zM1078,331h2v1h-2zM1251,218h2v1h-2zM1066,339h2v1h-2zM1372,139h2v1h-2zM826,496h2v1h-2zM838,488h2v1h-2zM621,630h2v1h-2zM633,622h2v1h-2zM682,590h2v1h-2zM1023,367h2v1h-2zM766,535h2v1h-2zM1317,175h2v1h-2zM1329,167h2v1h-2zM783,524h2v1h-2zM795,516h2v1h-2zM927,430h2v1h-2zM988,390h2v1h-2zM771,532h2v1h-2zM1000,382h2v1h-2zM711,571h2v1h-2zM1060,343h2v1h-2zM1341,159h2v1h-2zM1185,261h2v1h-2zM627,626h2v1h-2zM639,618h2v1h-2zM933,426h2v1h-2zM945,418h2v1h-2zM844,484h2v1h-2zM1138,292h2v1h-2zM1150,284h2v1h-2zM982,394h2v1h-2zM777,528h2v1h-2zM1144,288h2v1h-2zM748,547h2v1h-2zM742,551h1v1h-1zM1191,258h1v1h-1zM725,562h1v1h-1zM971,401h1v1h-1zM1241,225h1v1h-1zM957,411h1v1h-1zM987,391h1v1h-1zM1233,230h1v1h-1zM724,563h1v1h-1zM999,383h1v1h-1zM753,544h1v1h-1zM1269,207h1v1h-1zM1049,350h1v1h-1zM1365,144h1v1h-1zM736,555h1v1h-1zM1053,348h1v1h-1zM765,536h1v1h-1zM1319,174h1v1h-1zM1348,155h1v1h-1zM1131,297h1v1h-1zM1349,154h1v1h-1zM815,503h1v1h-1zM1377,136h1v1h-1zM1065,340h1v1h-1zM819,501h1v1h-1zM1331,166h1v1h-1zM1085,327h1v1h-1zM1360,147h1v1h-1zM1114,308h1v1h-1zM1115,307h1v1h-1zM869,468h1v1h-1zM802,512h1v1h-1zM1361,146h1v1h-1zM1077,332h1v1h-1zM1347,156h1v1h-1zM831,493h1v1h-1zM851,480h1v1h-1zM1126,300h1v1h-1zM880,461h1v1h-1zM1127,299h1v1h-1zM881,460h1v1h-1zM664,602h1v1h-1zM635,621h1v1h-1zM1359,148h1v1h-1zM843,485h1v1h-1zM1113,309h1v1h-1zM893,452h1v1h-1zM647,613h1v1h-1zM879,462h1v1h-1zM1371,140h1v1h-1zM1125,301h1v1h-1zM1175,268h1v1h-1zM659,605h1v1h-1zM1204,249h1v1h-1zM929,429h1v1h-1zM891,454h1v1h-1zM645,615h1v1h-1zM646,614h1v1h-1zM1137,293h1v1h-1zM921,434h1v1h-1zM892,453h1v1h-1zM675,595h1v1h-1zM1187,260h1v1h-1zM941,421h1v1h-1zM970,402h1v1h-1zM695,582h1v1h-1zM903,446h1v1h-1zM629,625h1v1h-1zM658,606h1v1h-1zM657,607h1v1h-1zM687,587h1v1h-1zM953,413h1v1h-1zM1270,206h1v1h-1zM707,574h1v1h-1zM1203,250h1v1h-1zM641,617h1v1h-1zM737,554h1v1h-1zM1299,187h1v1h-1zM959,409h1v1h-1zM1007,378h1v1h-1zM1253,217h1v1h-1zM1282,198h1v1h-1zM1036,359h1v1h-1zM1311,179h1v1h-1zM1019,370h1v1h-1zM773,531h1v1h-1zM1265,209h1v1h-1zM1048,351h1v1h-1zM1281,199h1v1h-1zM719,566h1v1h-1zM1035,360h1v1h-1zM1293,191h1v1h-1zM1047,352h1v1h-1zM801,513h1v1h-1zM1343,158h1v1h-1zM1097,319h1v1h-1zM1276,202h1v1h-1zM1305,183h1v1h-1zM1059,344h1v1h-1zM814,504h1v1h-1zM813,505h1v1h-1zM863,472h1v1h-1zM617,633h1v1h-1zM1355,150h1v1h-1zM1109,311h1v1h-1zM1071,336h1v1h-1zM825,497h1v1h-1zM609,638h1v1h-1zM875,464h1v1h-1zM1367,142h1v1h-1zM1121,303h1v1h-1zM809,507h1v1h-1zM1354,151h1v1h-1zM887,456h1v1h-1zM1133,295h1v1h-1zM1091,323h1v1h-1zM1120,304h1v1h-1zM807,509h1v1h-1zM857,476h1v1h-1zM886,457h1v1h-1zM669,599h1v1h-1zM603,642h1v1h-1zM713,570h1v1h-1zM623,629h1v1h-1zM723,564h1v1h-1zM899,448h1v1h-1zM1215,242h1v1h-1zM653,609h1v1h-1zM969,403h1v1h-1zM1169,272h1v1h-1zM1198,253h1v1h-1zM735,556h1v1h-1zM1227,234h1v1h-1zM665,601h1v1h-1zM981,395h1v1h-1zM1247,221h1v1h-1zM1277,201h1v1h-1zM1031,362h1v1h-1zM964,406h1v1h-1zM785,523h1v1h-1zM747,548h1v1h-1zM1210,245h1v1h-1zM993,387h1v1h-1zM1289,193h1v1h-1zM1043,354h1v1h-1zM797,515h1v1h-1zM731,558h1v1h-1zM759,540h1v1h-1zM1275,203h1v1h-1zM963,407h1v1h-1zM1055,346h1v1h-1zM1325,170h1v1h-1zM1041,356h1v1h-1zM743,550h1v1h-1zM1013,374h1v1h-1zM1288,194h1v1h-1zM975,399h1v1h-1zM1259,213h1v1h-1zM1287,195h1v1h-1zM1042,355h1v1h-1zM729,560h1v1h-1zM1337,162h1v1h-1zM1025,366h1v1h-1zM779,527h1v1h-1zM808,508h1v1h-1zM1271,205h1v1h-1zM1054,347h1v1h-1zM741,552h1v1h-1zM837,489h1v1h-1zM1353,152h1v1h-1zM1037,358h1v1h-1zM791,519h1v1h-1zM820,500h1v1h-1zM1283,197h1v1h-1zM821,499h1v1h-1zM1119,305h1v1h-1zM803,511h1v1h-1zM1366,143h1v1h-1zM1149,285h1v1h-1zM1103,315h1v1h-1zM1199,252h1v1h-1zM1132,296h1v1h-1zM915,438h1v1h-1zM1211,244h1v1h-1zM965,405h1v1h-1zM898,449h1v1h-1zM652,610h1v1h-1zM1197,254h1v1h-1zM681,591h1v1h-1zM885,458h1v1h-1zM977,397h1v1h-1zM1181,264h1v1h-1zM1209,246h1v1h-1zM935,425h1v1h-1zM897,450h1v1h-1zM651,611h1v1h-1zM1143,289h1v1h-1zM1163,276h1v1h-1zM1192,257h1v1h-1zM1193,256h1v1h-1zM1221,238h1v1h-1zM976,398h1v1h-1zM947,417h1v1h-1zM909,442h1v1h-1zM663,603h1v1h-1zM730,559h1v1h-1zM701,578h1v1h-1zM1155,281h1v1h-1zM958,410h1v1h-1zM1205,248h1v1h-1z"/>
<path fill="#0000FF" d="M689,520h1v3h-1zM700,550h1v2h-1zM723,610h1v2h-1zM691,526h1v2h-1zM675,484h1v2h-1zM698,544h1v3h-1zM709,574h1v2h-1zM683,504h1v1h-1zM684,508h1v2h-1zM680,496h1v3h-1zM718,598h1v2h-1zM708,570h1v1h-1zM707,568h1v2h-1zM714,586h1v3h-1zM692,528h1v1h-1zM676,486h1v1h-1zM682,502h1v2h-1zM694,533h1v2h-1zM716,592h1v2h-1zM678,491h1v2h-1zM685,510h1v1h-1zM701,552h1v1h-1zM717,594h1v1h-1zM719,600h1v1h-1zM703,557h1v2h-1zM687,515h1v2h-1zM710,576h1v1h-1zM721,605h1v2h-1zM695,538h1v1h-1zM712,581h1v2h-1zM711,580h1v1h-1zM696,539h1v2h-1zM702,556h1v1h-1zM686,514h1v1h-1zM693,532h1v1h-1zM704,562h1v1h-1zM720,604h1v1h-1zM677,490h1v1h-1zM705,563h1v2h-1z"/>
<path fill="#0000FF" d="M789,556h2v1h-2zM737,599h2v1h-2zM1116,285h2v1h-2zM859,498h2v1h-2zM848,507h2v1h-2zM976,401h2v1h-2zM1244,179h2v1h-2zM918,449h2v1h-2zM1057,334h2v1h-2zM1081,314h2v1h-2zM1162,247h2v1h-2zM1151,256h2v1h-2zM953,420h2v1h-2zM1005,377h2v1h-2zM807,541h2v1h-2zM1127,276h2v1h-2zM929,440h2v1h-2zM877,483h2v1h-2zM1186,227h2v1h-2zM999,382h2v1h-2zM772,570h2v1h-2zM894,469h2v1h-2zM842,512h2v1h-2zM1221,198h2v1h-2zM964,411h2v1h-2zM1092,305h2v1h-2zM1075,319h2v1h-2zM749,589h2v1h-2zM1197,218h2v1h-2zM1145,261h2v1h-2zM1256,169h2v1h-2zM982,396h2v1h-2zM795,551h2v1h-2zM1110,290h2v1h-2zM784,560h2v1h-2zM923,445h2v1h-2zM912,454h2v1h-2zM1232,189h2v1h-2zM1180,232h2v1h-2zM854,502h2v1h-2zM760,580h2v1h-2zM1087,309h2v1h-2zM1215,203h2v1h-2zM819,531h2v1h-2zM958,416h2v1h-2zM947,425h2v1h-2zM743,594h2v1h-2zM1063,329h2v1h-2zM1052,338h2v1h-2zM1191,223h2v1h-2zM725,609h2v1h-2zM1122,280h2v1h-2zM1250,174h2v1h-2zM993,387h2v1h-2zM830,522h2v1h-2zM778,565h2v1h-2zM1098,300h2v1h-2zM1226,194h2v1h-2zM900,464h2v1h-2zM889,473h2v1h-2zM1028,358h2v1h-2zM1133,271h2v1h-2zM865,493h2v1h-2zM813,536h2v1h-2zM935,435h2v1h-2zM1046,343h2v1h-2zM1168,242h2v1h-2zM1157,251h2v1h-2zM970,406h2v1h-2zM1238,184h2v1h-2zM824,527h2v1h-2zM755,584h2v1h-2zM883,478h2v1h-2zM1203,213h2v1h-2zM988,391h2v1h-2zM731,604h2v1h-2zM766,575h2v1h-2zM1034,353h2v1h-2zM1023,362h2v1h-2zM836,517h2v1h-2zM801,546h2v1h-2zM871,488h2v1h-2zM1104,295h2v1h-2zM1069,324h2v1h-2zM1017,367h2v1h-2zM1139,266h2v1h-2zM941,430h2v1h-2zM906,459h2v1h-2zM1174,237h2v1h-2zM1209,208h2v1h-2zM1040,348h2v1h-2zM1011,372h2v1h-2zM723,611h1v1h-1zM1182,231h1v1h-1zM995,386h1v1h-1zM984,395h1v1h-1zM1050,340h1v1h-1zM727,608h1v1h-1zM793,553h1v1h-1zM1252,173h1v1h-1zM1054,337h1v1h-1zM1120,282h1v1h-1zM1043,346h1v1h-1zM1109,291h1v1h-1zM852,504h1v1h-1zM960,415h1v1h-1zM1015,369h1v1h-1zM769,573h1v1h-1zM1030,357h1v1h-1zM1096,302h1v1h-1zM1019,366h1v1h-1zM832,521h1v1h-1zM1085,311h1v1h-1zM887,475h1v1h-1zM1089,308h1v1h-1zM1155,253h1v1h-1zM1072,322h1v1h-1zM1061,331h1v1h-1zM874,486h1v1h-1zM797,550h1v1h-1zM863,495h1v1h-1zM1065,328h1v1h-1zM867,492h1v1h-1zM933,437h1v1h-1zM850,506h1v1h-1zM839,515h1v1h-1zM905,460h1v1h-1zM1100,299h1v1h-1zM1166,244h1v1h-1zM909,457h1v1h-1zM975,402h1v1h-1zM898,466h1v1h-1zM1170,241h1v1h-1zM1159,250h1v1h-1zM1225,195h1v1h-1zM1142,264h1v1h-1zM1208,209h1v1h-1zM1131,273h1v1h-1zM885,477h1v1h-1zM940,431h1v1h-1zM753,586h1v1h-1zM1212,206h1v1h-1zM742,595h1v1h-1zM1135,270h1v1h-1zM1201,215h1v1h-1zM1190,224h1v1h-1zM1003,379h1v1h-1zM944,428h1v1h-1zM757,583h1v1h-1zM1205,212h1v1h-1zM1107,293h1v1h-1zM920,448h1v1h-1zM1173,238h1v1h-1zM729,606h1v1h-1zM1188,226h1v1h-1zM1177,235h1v1h-1zM1243,180h1v1h-1zM979,399h1v1h-1zM1045,344h1v1h-1zM788,557h1v1h-1zM1236,186h1v1h-1zM1049,341h1v1h-1zM951,422h1v1h-1zM1153,255h1v1h-1zM966,410h1v1h-1zM1219,200h1v1h-1zM955,419h1v1h-1zM1021,364h1v1h-1zM1010,373h1v1h-1zM764,577h1v1h-1zM1025,361h1v1h-1zM1091,306h1v1h-1zM1014,370h1v1h-1zM1080,315h1v1h-1zM931,439h1v1h-1zM997,384h1v1h-1zM986,393h1v1h-1zM733,603h1v1h-1zM799,548h1v1h-1zM1258,168h1v1h-1zM1247,177h1v1h-1zM1001,381h1v1h-1zM990,390h1v1h-1zM803,545h1v1h-1zM1056,335h1v1h-1zM792,554h1v1h-1zM858,499h1v1h-1zM1240,183h1v1h-1zM775,568h1v1h-1zM1223,197h1v1h-1zM1032,355h1v1h-1zM845,510h1v1h-1zM768,574h1v1h-1zM834,519h1v1h-1zM823,528h1v1h-1zM1095,303h1v1h-1zM1150,257h1v1h-1zM838,516h1v1h-1zM904,461h1v1h-1zM1067,326h1v1h-1zM821,530h1v1h-1zM810,539h1v1h-1zM876,484h1v1h-1zM1071,323h1v1h-1zM1137,268h1v1h-1zM1060,332h1v1h-1zM1126,277h1v1h-1zM869,490h1v1h-1zM1141,265h1v1h-1zM1130,274h1v1h-1zM1196,219h1v1h-1zM1113,288h1v1h-1zM1036,352h1v1h-1zM1179,233h1v1h-1zM1102,297h1v1h-1zM911,455h1v1h-1zM724,610h1v1h-1zM1106,294h1v1h-1zM1172,239h1v1h-1zM908,458h1v1h-1zM1161,248h1v1h-1zM974,403h1v1h-1zM1078,317h1v1h-1zM891,472h1v1h-1zM1144,262h1v1h-1zM957,417h1v1h-1zM880,481h1v1h-1zM946,426h1v1h-1zM1148,259h1v1h-1zM1214,204h1v1h-1zM950,423h1v1h-1zM1016,368h1v1h-1zM939,432h1v1h-1zM1207,210h1v1h-1zM856,501h1v1h-1zM1020,365h1v1h-1zM922,446h1v1h-1zM1183,230h1v1h-1zM1124,279h1v1h-1zM937,434h1v1h-1zM926,443h1v1h-1zM992,388h1v1h-1zM915,452h1v1h-1zM728,607h1v1h-1zM981,397h1v1h-1zM1176,236h1v1h-1zM1242,181h1v1h-1zM985,394h1v1h-1zM1051,339h1v1h-1zM902,463h1v1h-1zM968,408h1v1h-1zM770,572h1v1h-1zM1229,192h1v1h-1zM759,581h1v1h-1zM1218,201h1v1h-1zM961,414h1v1h-1zM774,569h1v1h-1zM1027,359h1v1h-1zM763,578h1v1h-1zM829,523h1v1h-1zM1211,207h1v1h-1zM746,592h1v1h-1zM812,537h1v1h-1zM735,601h1v1h-1zM1194,221h1v1h-1zM996,385h1v1h-1zM1249,175h1v1h-1zM1062,330h1v1h-1zM739,598h1v1h-1zM805,543h1v1h-1zM794,552h1v1h-1zM1253,172h1v1h-1zM1066,327h1v1h-1zM1055,336h1v1h-1zM1121,281h1v1h-1zM809,540h1v1h-1zM777,566h1v1h-1zM972,405h1v1h-1zM1038,350h1v1h-1zM781,563h1v1h-1zM847,508h1v1h-1zM1042,347h1v1h-1zM1108,292h1v1h-1zM1031,356h1v1h-1zM1097,301h1v1h-1zM1086,310h1v1h-1zM840,514h1v1h-1zM1101,298h1v1h-1zM1167,243h1v1h-1zM816,534h1v1h-1zM882,479h1v1h-1zM1084,312h1v1h-1zM1007,376h1v1h-1zM1073,321h1v1h-1zM886,476h1v1h-1zM875,485h1v1h-1zM1077,318h1v1h-1zM1143,263h1v1h-1zM879,482h1v1h-1zM1132,272h1v1h-1zM945,427h1v1h-1zM862,496h1v1h-1zM1115,286h1v1h-1zM928,441h1v1h-1zM851,505h1v1h-1zM917,450h1v1h-1zM1112,289h1v1h-1zM921,447h1v1h-1zM844,511h1v1h-1zM987,392h1v1h-1zM910,456h1v1h-1zM1237,185h1v1h-1zM827,525h1v1h-1zM893,470h1v1h-1zM1154,254h1v1h-1zM897,467h1v1h-1zM963,412h1v1h-1zM952,421h1v1h-1zM765,576h1v1h-1zM754,585h1v1h-1zM1147,260h1v1h-1zM1213,205h1v1h-1zM1202,214h1v1h-1zM956,418h1v1h-1zM1119,283h1v1h-1zM932,438h1v1h-1zM1185,228h1v1h-1zM873,487h1v1h-1zM741,596h1v1h-1zM1200,216h1v1h-1zM730,605h1v1h-1zM1189,225h1v1h-1zM1255,170h1v1h-1zM925,444h1v1h-1zM1178,234h1v1h-1zM991,389h1v1h-1zM734,602h1v1h-1zM800,547h1v1h-1zM1193,222h1v1h-1zM1259,167h1v1h-1zM1248,176h1v1h-1zM783,561h1v1h-1zM1165,245h1v1h-1zM978,400h1v1h-1zM1231,190h1v1h-1zM967,409h1v1h-1zM1220,199h1v1h-1zM1033,354h1v1h-1zM1022,363h1v1h-1zM776,567h1v1h-1zM1224,196h1v1h-1zM1037,351h1v1h-1zM1026,360h1v1h-1zM748,590h1v1h-1zM943,429h1v1h-1zM1009,374h1v1h-1zM745,593h1v1h-1zM998,383h1v1h-1zM811,538h1v1h-1zM1013,371h1v1h-1zM1079,316h1v1h-1zM1002,380h1v1h-1zM815,535h1v1h-1zM1068,325h1v1h-1zM804,544h1v1h-1zM870,489h1v1h-1zM787,558h1v1h-1zM853,503h1v1h-1zM1246,178h1v1h-1zM1235,187h1v1h-1zM791,555h1v1h-1zM1044,345h1v1h-1zM857,500h1v1h-1zM780,564h1v1h-1zM846,509h1v1h-1zM835,518h1v1h-1zM1228,193h1v1h-1zM1103,296h1v1h-1zM752,587h1v1h-1zM916,451h1v1h-1zM818,532h1v1h-1zM833,520h1v1h-1zM899,465h1v1h-1zM822,529h1v1h-1zM888,474h1v1h-1zM1083,313h1v1h-1zM1138,267h1v1h-1zM826,526h1v1h-1zM892,471h1v1h-1zM881,480h1v1h-1zM798,549h1v1h-1zM864,494h1v1h-1zM1059,333h1v1h-1zM1125,278h1v1h-1zM1048,342h1v1h-1zM861,497h1v1h-1zM1114,287h1v1h-1zM736,600h1v1h-1zM1129,275h1v1h-1zM1118,284h1v1h-1zM1184,229h1v1h-1zM1090,307h1v1h-1zM903,462h1v1h-1zM1156,252h1v1h-1zM1094,304h1v1h-1zM1160,249h1v1h-1zM896,468h1v1h-1zM1149,258h1v1h-1zM962,413h1v1h-1zM868,491h1v1h-1zM934,436h1v1h-1zM1195,220h1v1h-1zM1136,269h1v1h-1zM949,424h1v1h-1zM938,433h1v1h-1zM1004,378h1v1h-1zM927,442h1v1h-1zM740,597h1v1h-1zM1254,171h1v1h-1zM1008,375h1v1h-1zM1171,240h1v1h-1zM914,453h1v1h-1zM980,398h1v1h-1zM969,407h1v1h-1zM782,562h1v1h-1zM1241,182h1v1h-1zM771,571h1v1h-1zM1164,246h1v1h-1zM1230,191h1v1h-1zM973,404h1v1h-1zM786,559h1v1h-1zM1039,349h1v1h-1zM841,513h1v1h-1zM1234,188h1v1h-1zM758,582h1v1h-1zM1217,202h1v1h-1zM747,591h1v1h-1zM1206,211h1v1h-1zM1074,320h1v1h-1zM762,579h1v1h-1zM828,524h1v1h-1zM751,588h1v1h-1zM817,533h1v1h-1zM806,542h1v1h-1zM1199,217h1v1h-1z"/>
<path fill="#0000FF" d="M1372,236h2v1h-2zM1336,214h2v1h-2zM1329,210h2v1h-2zM1392,248h2v1h-2zM1385,244h2v1h-2zM1538,337h2v1h-2zM1280,180h2v1h-2zM1405,256h2v1h-2zM1436,275h2v1h-2zM1400,253h2v1h-2zM1546,342h2v1h-2zM1456,287h2v1h-2zM1357,227h2v1h-2zM1303,194h2v1h-2zM1267,172h2v1h-2zM1260,168h2v1h-2zM1413,261h2v1h-2zM1273,176h2v1h-2zM1408,258h2v1h-2zM1318,203h2v1h-2zM1380,241h2v1h-2zM1533,334h2v1h-2zM1275,177h2v1h-2zM1331,211h2v1h-2zM1520,326h2v1h-2zM1477,300h2v1h-2zM1324,207h2v1h-2zM1288,185h2v1h-2zM1387,245h2v1h-2zM1308,197h2v1h-2zM1472,297h2v1h-2zM1382,242h2v1h-2zM1507,318h2v1h-2zM1492,309h2v1h-2zM1339,216h2v1h-2zM1535,335h2v1h-2zM1359,228h2v1h-2zM1495,311h2v1h-2zM1459,289h2v1h-2zM1369,234h2v1h-2zM1515,323h2v1h-2zM1326,208h2v1h-2zM1479,301h2v1h-2zM1283,182h2v1h-2zM1466,293h2v1h-2zM1528,331h2v1h-2zM1270,174h2v1h-2zM1423,267h2v1h-2zM1510,320h2v1h-2zM1290,186h2v1h-2zM1530,332h2v1h-2zM1523,328h2v1h-2zM1390,247h2v1h-2zM1543,340h2v1h-2zM1438,276h2v1h-2zM1285,183h2v1h-2zM1347,221h2v1h-2zM1410,259h2v1h-2zM1500,314h2v1h-2zM1367,233h2v1h-2zM1262,169h2v1h-2zM1441,278h2v1h-2zM1551,345h2v1h-2zM1398,252h2v1h-2zM1362,230h2v1h-2zM1461,290h2v1h-2zM1418,264h2v1h-2zM1265,171h2v1h-2zM1431,272h2v1h-2zM1426,269h2v1h-2zM1489,307h2v1h-2zM1482,303h2v1h-2zM1446,281h2v1h-2zM1293,188h2v1h-2zM1349,222h2v1h-2zM1313,200h2v1h-2zM1403,255h2v1h-2zM1540,338h2v1h-2zM1497,312h2v1h-2zM1344,219h2v1h-2zM1469,295h2v1h-2zM1454,286h2v1h-2zM1301,193h2v1h-2zM1364,231h2v1h-2zM1321,205h2v1h-2zM1464,292h2v1h-2zM1421,266h2v1h-2zM1484,304h2v1h-2zM1428,270h2v1h-2zM1295,189h2v1h-2zM1548,343h2v1h-2zM1443,279h2v1h-2zM1352,224h2v1h-2zM1415,262h2v1h-2zM1505,317h2v1h-2zM1316,202h2v1h-2zM1311,199h2v1h-2zM1375,238h2v1h-2zM1487,306h2v1h-2zM1298,191h2v1h-2zM1451,284h2v1h-2zM1502,315h2v1h-2zM1306,196h2v1h-2zM1517,324h2v1h-2zM1433,273h2v1h-2zM1354,225h2v1h-2zM1553,346h2v1h-2zM1377,239h2v1h-2zM1334,213h2v1h-2zM1525,329h2v1h-2zM1278,179h2v1h-2zM1512,321h2v1h-2zM1449,283h2v1h-2zM1395,250h2v1h-2zM1474,298h2v1h-2zM1341,217h2v1h-2zM1412,260h1v1h-1zM1259,167h1v1h-1zM1545,341h1v1h-1zM1519,325h1v1h-1zM1458,288h1v1h-1zM1343,218h1v1h-1zM1476,299h1v1h-1zM1522,327h1v1h-1zM1300,192h1v1h-1zM1320,204h1v1h-1zM1499,313h1v1h-1zM1453,285h1v1h-1zM1277,178h1v1h-1zM1366,232h1v1h-1zM1297,190h1v1h-1zM1384,243h1v1h-1zM1323,206h1v1h-1zM1430,271h1v1h-1zM1514,322h1v1h-1zM1407,257h1v1h-1zM1292,187h1v1h-1zM1471,296h1v1h-1zM1338,215h1v1h-1zM1491,308h1v1h-1zM1537,336h1v1h-1zM1555,347h1v1h-1zM1448,282h1v1h-1zM1494,310h1v1h-1zM1468,294h1v1h-1zM1315,201h1v1h-1zM1361,229h1v1h-1zM1379,240h1v1h-1zM1425,268h1v1h-1zM1272,175h1v1h-1zM1445,280h1v1h-1zM1509,319h1v1h-1zM1402,254h1v1h-1zM1356,226h1v1h-1zM1269,173h1v1h-1zM1486,305h1v1h-1zM1287,184h1v1h-1zM1532,333h1v1h-1zM1550,344h1v1h-1zM1333,212h1v1h-1zM1417,263h1v1h-1zM1310,198h1v1h-1zM1463,291h1v1h-1zM1420,265h1v1h-1zM1440,277h1v1h-1zM1351,223h1v1h-1zM1397,251h1v1h-1zM1328,209h1v1h-1zM1371,235h1v1h-1zM1264,170h1v1h-1zM1481,302h1v1h-1zM1374,237h1v1h-1zM1435,274h1v1h-1zM1394,249h1v1h-1zM1527,330h1v1h-1zM1542,339h1v1h-1zM1305,195h1v1h-1zM1504,316h1v1h-1zM1389,246h1v1h-1zM1282,181h1v1h-1zM1346,220h1v1h-1z"/>
<path fill="#0000FF" d="M1419,268h2v1h-2zM1402,253h2v1h-2zM1367,222h2v1h-2zM1385,238h2v1h-2zM1445,291h2v1h-2zM1376,230h2v1h-2zM1393,245h2v1h-2zM1411,261h2v1h-2zM1454,299h2v1h-2zM1437,284h2v1h-2zM1359,215h2v1h-2zM1428,276h2v1h-2zM1383,236h1v1h-1zM1378,231h1v1h-1zM1371,225h1v1h-1zM1406,256h1v1h-1zM1356,212h1v1h-1zM1391,243h1v1h-1zM1384,237h1v1h-1zM1430,277h1v1h-1zM1415,264h1v1h-1zM1408,258h1v1h-1zM1443,289h1v1h-1zM1357,213h1v1h-1zM1369,223h1v1h-1zM1409,259h1v1h-1zM1444,290h1v1h-1zM1432,279h1v1h-1zM1382,235h1v1h-1zM1375,229h1v1h-1zM1410,260h1v1h-1zM1421,269h1v1h-1zM1456,300h1v1h-1zM1441,287h1v1h-1zM1434,281h1v1h-1zM1372,226h1v1h-1zM1407,257h1v1h-1zM1400,251h1v1h-1zM1395,246h1v1h-1zM1435,282h1v1h-1zM1396,247h1v1h-1zM1431,278h1v1h-1zM1459,303h1v1h-1zM1373,227h1v1h-1zM1361,216h1v1h-1zM1397,248h1v1h-1zM1374,228h1v1h-1zM1425,273h1v1h-1zM1370,224h1v1h-1zM1363,218h1v1h-1zM1398,249h1v1h-1zM1433,280h1v1h-1zM1426,274h1v1h-1zM1422,270h1v1h-1zM1457,301h1v1h-1zM1450,295h1v1h-1zM1364,219h1v1h-1zM1399,250h1v1h-1zM1392,244h1v1h-1zM1388,240h1v1h-1zM1365,220h1v1h-1zM1423,271h1v1h-1zM1458,302h1v1h-1zM1451,296h1v1h-1zM1401,252h1v1h-1zM1436,283h1v1h-1zM1389,241h1v1h-1zM1447,292h1v1h-1zM1424,272h1v1h-1zM1448,293h1v1h-1zM1366,221h1v1h-1zM1362,217h1v1h-1zM1355,211h1v1h-1zM1413,262h1v1h-1zM1390,242h1v1h-1zM1418,267h1v1h-1zM1379,232h1v1h-1zM1414,263h1v1h-1zM1449,294h1v1h-1zM1442,288h1v1h-1zM1427,275h1v1h-1zM1387,239h1v1h-1zM1380,233h1v1h-1zM1358,214h1v1h-1zM1404,254h1v1h-1zM1381,234h1v1h-1zM1439,285h1v1h-1zM1416,265h1v1h-1zM1417,266h1v1h-1zM1452,297h1v1h-1zM1405,255h1v1h-1zM1440,286h1v1h-1zM1453,298h1v1h-1z"/>
<path fill="#0000FF" d="M1335,278h3v1h-3zM1287,293h3v1h-3zM1353,273h2v1h-2zM1281,295h3v1h-3zM1510,224h2v1h-2zM1461,239h3v1h-3zM1390,261h2v1h-2zM1455,241h3v1h-3zM1317,284h2v1h-2zM1384,263h2v1h-2zM1437,247h2v1h-2zM1365,269h3v1h-3zM1419,252h3v1h-3zM1348,274h2v1h-2zM1413,254h3v1h-3zM1342,276h2v1h-2zM1516,222h2v1h-2zM1468,237h2v1h-2zM1371,267h3v1h-3zM1300,289h2v1h-2zM1497,228h3v1h-3zM1449,243h3v1h-3zM1426,250h2v1h-2zM1377,265h3v1h-3zM1329,280h3v1h-3zM1521,221h2v1h-2zM1401,258h2v1h-2zM1293,291h3v1h-3zM1359,271h2v1h-2zM1485,232h2v1h-2zM1479,234h2v1h-2zM1407,256h3v1h-3zM1443,245h2v1h-2zM1395,260h2v1h-2zM1323,282h3v1h-3zM1491,230h3v1h-3zM1275,297h2v1h-2zM1474,235h2v1h-2zM1306,287h2v1h-2zM1311,286h2v1h-2zM1503,226h3v1h-3zM1432,248h2v1h-2zM1361,270h1v1h-1zM1425,251h1v1h-1zM1403,257h1v1h-1zM1467,238h1v1h-1zM1473,236h1v1h-1zM1397,259h1v1h-1zM1445,244h1v1h-1zM1509,225h1v1h-1zM1439,246h1v1h-1zM1515,223h1v1h-1zM1305,288h1v1h-1zM1481,233h1v1h-1zM1299,290h1v1h-1zM1487,231h1v1h-1zM1277,296h1v1h-1zM1347,275h1v1h-1zM1523,220h1v1h-1zM1313,285h1v1h-1zM1389,262h1v1h-1zM1319,283h1v1h-1zM1341,277h1v1h-1zM1383,264h1v1h-1zM1355,272h1v1h-1zM1431,249h1v1h-1z"/>
<path fill="#0000FF" d="M1524,220h2v1h-2zM1531,217h2v1h-2zM1530,218h1v1h-1zM1526,219h1v1h-1z"/>
<path fill="#0000FF" d="M1540,286h1v2h-1zM1533,256h1v3h-1zM1542,292h1v3h-1zM1543,298h1v2h-1zM1539,280h1v3h-1zM1535,263h1v2h-1zM1532,251h1v2h-1zM1531,250h1v1h-1zM1545,304h1v3h-1zM1549,322h1v3h-1zM1552,334h1v3h-1zM1524,220h1v3h-1zM1551,329h1v2h-1zM1547,312h1v1h-1zM1547,316h1v1h-1zM1530,244h1v3h-1zM1548,317h1v2h-1zM1541,288h1v1h-1zM1527,232h1v3h-1zM1536,268h1v3h-1zM1546,310h1v2h-1zM1555,346h1v2h-1zM1538,275h1v2h-1zM1528,238h1v1h-1zM1529,239h1v2h-1zM1526,227h1v2h-1zM1554,341h1v2h-1zM1537,274h1v1h-1zM1525,226h1v1h-1zM1553,340h1v1h-1zM1550,328h1v1h-1zM1534,262h1v1h-1zM1544,300h1v1h-1z"/>
<path fill="#0000FF" d="M1600,280h1v1h-1zM1602,277h1v1h-1zM1692,143h1v2h-1zM1603,275h1v2h-1zM1605,272h1v2h-1zM1624,244h1v2h-1zM1566,330h1v2h-1zM1633,231h1v1h-1zM1635,228h1v1h-1zM1636,226h1v2h-1zM1638,223h1v2h-1zM1578,313h1v1h-1zM1668,179h1v1h-1zM1647,210h1v2h-1zM1601,278h1v2h-1zM1599,281h1v2h-1zM1579,311h1v2h-1zM1611,264h1v1h-1zM1613,261h1v1h-1zM1612,262h1v2h-1zM1634,229h1v2h-1zM1575,317h1v2h-1zM1577,314h1v2h-1zM1644,214h1v2h-1zM1607,269h1v2h-1zM1587,299h1v2h-1zM1589,296h1v2h-1zM1610,265h1v2h-1zM1621,249h1v1h-1zM1620,250h1v2h-1zM1622,247h1v2h-1zM1642,217h1v2h-1zM1562,336h1v2h-1zM1583,305h1v2h-1zM1585,302h1v2h-1zM1586,301h1v1h-1zM1595,287h1v2h-1zM1597,284h1v2h-1zM1618,253h1v2h-1zM1675,168h1v2h-1zM1561,338h1v1h-1zM1563,335h1v1h-1zM1630,235h1v2h-1zM1687,151h1v1h-1zM1594,289h1v1h-1zM1596,286h1v1h-1zM1560,339h1v2h-1zM1686,152h1v2h-1zM1688,149h1v2h-1zM1569,326h1v1h-1zM1571,323h1v1h-1zM1570,324h1v2h-1zM1572,321h1v2h-1zM1696,137h1v2h-1zM1698,134h1v2h-1zM1581,308h1v2h-1zM1661,189h1v2h-1zM1662,188h1v1h-1zM1664,185h1v1h-1zM1568,327h1v2h-1zM1614,259h1v2h-1zM1671,174h1v2h-1zM1694,140h1v2h-1zM1695,139h1v1h-1zM1580,310h1v1h-1zM1637,225h1v1h-1zM1670,176h1v1h-1zM1672,173h1v1h-1zM1555,347h1v1h-1zM1556,345h1v2h-1zM1682,158h1v2h-1zM1684,155h1v2h-1zM1588,298h1v1h-1zM1645,213h1v1h-1zM1646,212h1v1h-1zM1648,209h1v1h-1zM1669,177h1v2h-1zM1678,164h1v1h-1zM1680,161h1v1h-1zM1679,162h1v2h-1zM1681,160h1v1h-1zM1564,333h1v2h-1zM1690,146h1v2h-1zM1654,200h1v1h-1zM1656,197h1v1h-1zM1657,195h1v2h-1zM1677,165h1v2h-1zM1689,148h1v1h-1zM1632,232h1v2h-1zM1653,201h1v2h-1zM1655,198h1v2h-1zM1598,283h1v1h-1zM1665,183h1v2h-1zM1667,180h1v2h-1zM1628,238h1v2h-1zM1629,237h1v1h-1zM1631,234h1v1h-1zM1697,136h1v1h-1zM1573,320h1v1h-1zM1640,220h1v2h-1zM1574,319h1v1h-1zM1663,186h1v2h-1zM1604,274h1v1h-1zM1606,271h1v1h-1zM1673,171h1v2h-1zM1616,256h1v2h-1zM1639,222h1v1h-1zM1582,307h1v1h-1zM1584,304h1v1h-1zM1649,207h1v2h-1zM1651,204h1v2h-1zM1615,258h1v1h-1zM1617,255h1v1h-1zM1557,344h1v1h-1zM1626,241h1v2h-1zM1558,342h1v2h-1zM1590,295h1v1h-1zM1592,292h1v1h-1zM1591,293h1v2h-1zM1593,290h1v2h-1zM1659,192h1v2h-1zM1623,246h1v1h-1zM1683,157h1v1h-1zM1658,194h1v1h-1zM1565,332h1v1h-1zM1567,329h1v1h-1zM1691,145h1v1h-1zM1693,142h1v1h-1zM1576,316h1v1h-1zM1660,191h1v1h-1zM1609,267h1v1h-1zM1666,182h1v1h-1zM1699,133h1v1h-1zM1608,268h1v1h-1zM1641,219h1v1h-1zM1643,216h1v1h-1zM1652,203h1v1h-1zM1674,170h1v1h-1zM1676,167h1v1h-1zM1559,341h1v1h-1zM1685,154h1v1h-1zM1619,252h1v1h-1zM1650,206h1v1h-1zM1625,243h1v1h-1zM1627,240h1v1h-1z"/>
<path fill="#0000FF" d="M1754,380h1v2h-1zM1730,271h1v3h-1zM1752,373h1v2h-1zM1724,247h1v2h-1zM1747,349h1v3h-1zM1740,319h1v2h-1zM1746,344h1v2h-1zM1751,367h1v3h-1zM1713,194h1v2h-1zM1707,169h1v3h-1zM1744,337h1v2h-1zM1728,265h1v2h-1zM1739,313h1v3h-1zM1729,267h1v1h-1zM1732,283h1v2h-1zM1734,289h1v3h-1zM1750,362h1v2h-1zM1755,385h1v2h-1zM1727,259h1v3h-1zM1745,339h1v1h-1zM1745,343h1v1h-1zM1748,355h1v2h-1zM1717,213h1v1h-1zM1720,229h1v2h-1zM1722,235h1v3h-1zM1743,331h1v3h-1zM1715,205h1v3h-1zM1749,357h1v1h-1zM1749,361h1v1h-1zM1733,285h1v1h-1zM1736,301h1v2h-1zM1738,307h1v3h-1zM1742,326h1v2h-1zM1710,181h1v3h-1zM1731,277h1v3h-1zM1703,151h1v3h-1zM1737,303h1v1h-1zM1705,158h1v2h-1zM1721,231h1v1h-1zM1726,253h1v3h-1zM1735,295h1v3h-1zM1719,223h1v3h-1zM1753,375h1v1h-1zM1753,379h1v1h-1zM1725,249h1v1h-1zM1714,199h1v3h-1zM1723,241h1v3h-1zM1741,321h1v1h-1zM1741,325h1v1h-1zM1709,176h1v2h-1zM1716,211h1v2h-1zM1718,217h1v3h-1zM1702,145h1v3h-1zM1711,187h1v3h-1zM1706,163h1v3h-1zM1699,133h1v3h-1zM1701,140h1v2h-1zM1708,175h1v1h-1zM1712,193h1v1h-1zM1700,139h1v1h-1zM1704,157h1v1h-1z"/>
<path fill="#0000FF" d="M1812,269h1v2h-1zM1792,310h1v2h-1zM1798,297h1v3h-1zM1766,363h1v2h-1zM1770,355h1v2h-1zM1778,338h1v2h-1zM1772,351h1v2h-1zM1771,353h1v2h-1zM1784,326h1v2h-1zM1783,328h1v2h-1zM1785,324h1v2h-1zM1756,383h1v2h-1zM1757,381h1v2h-1zM1817,259h1v2h-1zM1763,369h1v2h-1zM1796,302h1v2h-1zM1804,285h1v2h-1zM1808,277h1v2h-1zM1810,273h1v2h-1zM1818,257h1v2h-1zM1782,330h1v2h-1zM1790,314h1v2h-1zM1762,371h1v2h-1zM1795,304h1v2h-1zM1797,300h1v2h-1zM1768,359h1v2h-1zM1767,361h1v2h-1zM1769,357h1v2h-1zM1776,342h1v3h-1zM1809,275h1v2h-1zM1781,332h1v2h-1zM1755,385h1v2h-1zM1816,261h1v2h-1zM1800,293h1v2h-1zM1794,306h1v2h-1zM1802,289h1v2h-1zM1806,281h1v2h-1zM1774,347h1v2h-1zM1807,279h1v2h-1zM1780,334h1v2h-1zM1779,336h1v2h-1zM1788,318h1v2h-1zM1793,308h1v2h-1zM1765,365h1v2h-1zM1814,265h1v2h-1zM1786,322h1v2h-1zM1819,255h1v2h-1zM1791,312h1v2h-1zM1799,295h1v2h-1zM1803,287h1v2h-1zM1773,349h1v2h-1zM1805,283h1v2h-1zM1777,340h1v2h-1zM1759,377h1v2h-1zM1764,367h1v2h-1zM1811,271h1v2h-1zM1815,263h1v2h-1zM1775,345h1v2h-1zM1787,320h1v2h-1zM1789,316h1v2h-1zM1801,291h1v2h-1zM1761,373h1v2h-1zM1760,375h1v2h-1zM1813,267h1v2h-1zM1758,379h1v2h-1z"/>
<path fill="#0000FF" d="M27,326h1v3h-1zM27,332h1v3h-1zM27,338h1v3h-1zM27,344h1v3h-1zM27,350h1v2h-1z"/>
<path fill="#0000FF" d="M1401,260h3v1h-3zM1401,256h1v4h-1z"/>
<path fill="#0000FF" d="M601,132h5v5h-5z"/><path fill="#fff" d="M602,133h3v3h-3z"/>
<path fill="#0000FF" d="M601,386h5v5h-5z"/><path fill="#fff" d="M602,387h3v3h-3z"/>
<path fill="#0000FF" d="M601,640h5v5h-5z"/><path fill="#fff" d="M602,641h3v3h-3z"/>
<path fill="#0000FF" d="M721,609h5v5h-5z"/><path fill="#fff" d="M722,610h3v3h-3z"/>
<path fill="#0000FF" d="M989,387h5v5h-5z"/><path fill="#fff" d="M990,388h3v3h-3z"/>
<path fill="#0000FF" d="M1257,165h5v5h-5z"/><path fill="#fff" d="M1258,166h3v3h-3z"/>
<path fill="#0000FF" d="M1405,256h5v5h-5z"/><path fill="#fff" d="M1406,257h3v3h-3z"/>
<path fill="#0000FF" d="M1353,209h5v5h-5z"/><path fill="#fff" d="M1354,210h3v3h-3z"/>
<path fill="#0000FF" d="M1457,301h5v5h-5z"/><path fill="#fff" d="M1458,302h3v3h-3z"/>
<path fill="#0000FF" d="M1553,345h5v5h-5z"/><path fill="#fff" d="M1554,346h3v3h-3z"/>
<path fill="#0000FF" d="M1625,238h5v5h-5z"/><path fill="#fff" d="M1626,239h3v3h-3z"/>
<path fill="#0000FF" d="M1697,131h5v5h-5z"/><path fill="#fff" d="M1698,132h3v3h-3z"/>
<path fill="#0000FF" d="M1753,384h5v5h-5z"/><path fill="#fff" d="M1754,385h3v3h-3z"/>
<path fill="#0000FF" d="M1785,319h5v5h-5z"/><path fill="#fff" d="M1786,320h3v3h-3z"/>
<path fill="#0000FF" d="M1817,253h5v5h-5z"/><path fill="#fff" d="M1818,254h3v3h-3z"/>
<path fill="#0000FF" d="M1380,132h3v1h-3zM1382,134h1v3h-1zM1378,134h1v3h-1z"/>
<path fill="#0000FF" d="M1275,295h3v1h-3zM1277,297h1v3h-1zM1273,297h1v3h-1z"/>
<path fill="#0000FF" d="M1524,218h3v1h-3zM1526,220h1v3h-1zM1522,220h1v3h-1z"/>
<path fill="#0000FF" d="M1532,215h3v1h-3zM1530,217h1v3h-1zM1534,217h1v3h-1z"/>
<path fill="#0000FF" d="M1540,283h3v1h-3zM1538,285h1v3h-1zM1542,285h1v3h-1z"/>
<path fill="#0000FF" d="M1727,257h3v1h-3zM1729,259h1v3h-1zM1725,259h1v3h-1z"/>
<g shape-rendering="geometricPrecision" fill="rgba(45,110,165,0.2)" style="filter:blur(0.45px)">
<path d="M618,80 H1146 A131.5,133.5 0 0 1 1277.5,213.5 V349 A131.5,127 0 0 1 1146,476 H882.1 V344 H1146 V212.1 H750.2 V738.7 H618 Z"/>
<path d="M882.1,607.3 H1145.5 L1211.7,738.7 H882.1 Z"/>
</g>
</g>
<path fill="#000" d="M2,2h1831v795h-1831zM3,3v793h1829v-793z" fill-rule="evenodd"/>
<path d="M6,10h9v1h-1v1h-1v1h-1v1h-1v1h-1v-1h-1v-1h-1v-1h-1v-1h-1z" fill="#000"/>
<g style="font-family:'Liberation Sans',sans-serif;font-size:12.5px" shape-rendering="geometricPrecision" text-rendering="geometricPrecision">
<text x="21" y="17" fill="#000" textLength="65.3" lengthAdjust="spacingAndGlyphs">AUDUSD,H4</text>
<text x="95.7" y="17" fill="#000" textLength="45.4" lengthAdjust="spacingAndGlyphs">0.71566</text>
<text x="145.65" y="17" fill="#000" textLength="45.4" lengthAdjust="spacingAndGlyphs">0.71767</text>
<text x="195.60000000000002" y="17" fill="#000" textLength="45.4" lengthAdjust="spacingAndGlyphs">0.71566</text>
<text x="245.55" y="17" fill="#000" textLength="45.4" lengthAdjust="spacingAndGlyphs">0.71725</text>
<rect x="3" y="797" width="1" height="3" fill="#000"/>
<text x="2.3" y="812" fill="#000" textLength="69" lengthAdjust="spacingAndGlyphs">12 Mar 2026</text>
<rect x="99" y="797" width="1" height="3" fill="#000"/>
<text x="98.3" y="812" fill="#000" textLength="72.8" lengthAdjust="spacingAndGlyphs">16 Mar 12:00</text>
<rect x="195" y="797" width="1" height="3" fill="#000"/>
<text x="194.3" y="812" fill="#000" textLength="72.8" lengthAdjust="spacingAndGlyphs">18 Mar 12:00</text>
<rect x="291" y="797" width="1" height="3" fill="#000"/>
<text x="290.3" y="812" fill="#000" textLength="72.8" lengthAdjust="spacingAndGlyphs">20 Mar 12:00</text>
<rect x="387" y="797" width="1" height="3" fill="#000"/>
<text x="386.3" y="812" fill="#000" textLength="72.8" lengthAdjust="spacingAndGlyphs">24 Mar 12:00</text>
<rect x="483" y="797" width="1" height="3" fill="#000"/>
<text x="482.3" y="812" fill="#000" textLength="72.8" lengthAdjust="spacingAndGlyphs">26 Mar 12:00</text>
<rect x="579" y="797" width="1" height="3" fill="#000"/>
<text x="578.3" y="812" fill="#000" textLength="72.8" lengthAdjust="spacingAndGlyphs">30 Mar 12:00</text>
<rect x="675" y="797" width="1" height="3" fill="#000"/>
<text x="674.3" y="812" fill="#000" textLength="66.4" lengthAdjust="spacingAndGlyphs">1 Apr 12:00</text>
<rect x="771" y="797" width="1" height="3" fill="#000"/>
<text x="770.3" y="812" fill="#000" textLength="66.4" lengthAdjust="spacingAndGlyphs">3 Apr 12:00</text>
<rect x="867" y="797" width="1" height="3" fill="#000"/>
<text x="866.3" y="812" fill="#000" textLength="66.4" lengthAdjust="spacingAndGlyphs">7 Apr 12:00</text>
<rect x="963" y="797" width="1" height="3" fill="#000"/>
<text x="962.3" y="812" fill="#000" textLength="66.4" lengthAdjust="spacingAndGlyphs">9 Apr 12:00</text>
<rect x="1059" y="797" width="1" height="3" fill="#000"/>
<text x="1058.3" y="812" fill="#000" textLength="72.8" lengthAdjust="spacingAndGlyphs">13 Apr 12:00</text>
<rect x="1155" y="797" width="1" height="3" fill="#000"/>
<text x="1154.3" y="812" fill="#000" textLength="72.8" lengthAdjust="spacingAndGlyphs">15 Apr 12:00</text>
<rect x="1251" y="797" width="1" height="3" fill="#000"/>
<text x="1250.3" y="812" fill="#000" textLength="72.8" lengthAdjust="spacingAndGlyphs">17 Apr 12:00</text>
<rect x="1347" y="797" width="1" height="3" fill="#000"/>
<text x="1346.3" y="812" fill="#000" textLength="72.8" lengthAdjust="spacingAndGlyphs">21 Apr 12:00</text>
<rect x="1443" y="797" width="1" height="3" fill="#000"/>
<text x="1442.3" y="812" fill="#000" textLength="72.8" lengthAdjust="spacingAndGlyphs">23 Apr 12:00</text>
<rect x="1833" y="42" width="2" height="1" fill="#000"/>
<text x="1839.3" y="47" fill="#000" textLength="45.7" lengthAdjust="spacingAndGlyphs">0.73235</text>
<rect x="1833" y="91" width="2" height="1" fill="#000"/>
<text x="1839.3" y="96" fill="#000" textLength="45.7" lengthAdjust="spacingAndGlyphs">0.72835</text>
<rect x="1833" y="140" width="2" height="1" fill="#000"/>
<text x="1839.3" y="145" fill="#000" textLength="45.7" lengthAdjust="spacingAndGlyphs">0.72435</text>
<rect x="1833" y="189" width="2" height="1" fill="#000"/>
<text x="1839.3" y="194" fill="#000" textLength="45.7" lengthAdjust="spacingAndGlyphs">0.72035</text>
<rect x="1833" y="238" width="2" height="1" fill="#000"/>
<text x="1839.3" y="243" fill="#000" textLength="45.7" lengthAdjust="spacingAndGlyphs">0.71635</text>
<rect x="1833" y="287" width="2" height="1" fill="#000"/>
<text x="1839.3" y="292" fill="#000" textLength="45.7" lengthAdjust="spacingAndGlyphs">0.71230</text>
<rect x="1833" y="336" width="2" height="1" fill="#000"/>
<text x="1839.3" y="341" fill="#000" textLength="45.7" lengthAdjust="spacingAndGlyphs">0.70830</text>
<rect x="1833" y="385" width="2" height="1" fill="#000"/>
<text x="1839.3" y="390" fill="#000" textLength="45.7" lengthAdjust="spacingAndGlyphs">0.70430</text>
<rect x="1833" y="434" width="2" height="1" fill="#000"/>
<text x="1839.3" y="439" fill="#000" textLength="45.7" lengthAdjust="spacingAndGlyphs">0.70030</text>
<rect x="1833" y="483" width="2" height="1" fill="#000"/>
<text x="1839.3" y="488" fill="#000" textLength="45.7" lengthAdjust="spacingAndGlyphs">0.69630</text>
<rect x="1833" y="532" width="2" height="1" fill="#000"/>
<text x="1839.3" y="537" fill="#000" textLength="45.7" lengthAdjust="spacingAndGlyphs">0.69230</text>
<rect x="1833" y="581" width="2" height="1" fill="#000"/>
<text x="1839.3" y="586" fill="#000" textLength="45.7" lengthAdjust="spacingAndGlyphs">0.68830</text>
<rect x="1833" y="630" width="2" height="1" fill="#000"/>
<text x="1839.3" y="635" fill="#000" textLength="45.7" lengthAdjust="spacingAndGlyphs">0.68430</text>
<rect x="1833" y="679" width="2" height="1" fill="#000"/>
<text x="1839.3" y="684" fill="#000" textLength="45.7" lengthAdjust="spacingAndGlyphs">0.68030</text>
<rect x="1833" y="728" width="2" height="1" fill="#000"/>
<text x="1839.3" y="733" fill="#000" textLength="45.7" lengthAdjust="spacingAndGlyphs">0.67630</text>
<rect x="1833" y="777" width="2" height="1" fill="#000"/>
<text x="1839.3" y="782" fill="#000" textLength="45.7" lengthAdjust="spacingAndGlyphs">0.67230</text>
<rect x="1834" y="-2" width="56" height="14" fill="#FF0000"/>
<text x="1839.3" y="10" fill="#fff" textLength="45.7" lengthAdjust="spacingAndGlyphs">0.73547</text>
<rect x="1834" y="129" width="56" height="14" fill="#FF0000"/>
<text x="1839.3" y="141" fill="#fff" textLength="45.7" lengthAdjust="spacingAndGlyphs">0.72473</text>
<rect x="1834" y="162" width="56" height="14" fill="#FF0000"/>
<text x="1839.3" y="174" fill="#fff" textLength="45.7" lengthAdjust="spacingAndGlyphs">0.72204</text>
<rect x="1834" y="254" width="56" height="14" fill="#FF0000"/>
<text x="1839.3" y="266" fill="#fff" textLength="45.7" lengthAdjust="spacingAndGlyphs">0.71453</text>
<rect x="1834" y="342" width="56" height="14" fill="#FF0000"/>
<text x="1839.3" y="354" fill="#fff" textLength="45.7" lengthAdjust="spacingAndGlyphs">0.70735</text>
<rect x="1834" y="381" width="56" height="14" fill="#FF0000"/>
<text x="1839.3" y="393" fill="#fff" textLength="45.7" lengthAdjust="spacingAndGlyphs">0.70417</text>
<rect x="1834" y="464" width="56" height="14" fill="#FF0000"/>
<text x="1839.3" y="476" fill="#fff" textLength="45.7" lengthAdjust="spacingAndGlyphs">0.69740</text>
<rect x="1834" y="636" width="56" height="14" fill="#FF0000"/>
<text x="1839.3" y="648" fill="#fff" textLength="45.7" lengthAdjust="spacingAndGlyphs">0.68335</text>
<rect x="1834" y="690" width="56" height="14" fill="#FF0000"/>
<text x="1839.3" y="702" fill="#fff" textLength="45.7" lengthAdjust="spacingAndGlyphs">0.67896</text>
<rect x="1834" y="220" width="56" height="14" fill="#000"/>
<text x="1839.3" y="232" fill="#fff" textLength="45.7" lengthAdjust="spacingAndGlyphs">0.71725</text>
<rect x="1832" y="227" width="2" height="1" fill="#fff"/>
</g>
</svg>
</body></html>
